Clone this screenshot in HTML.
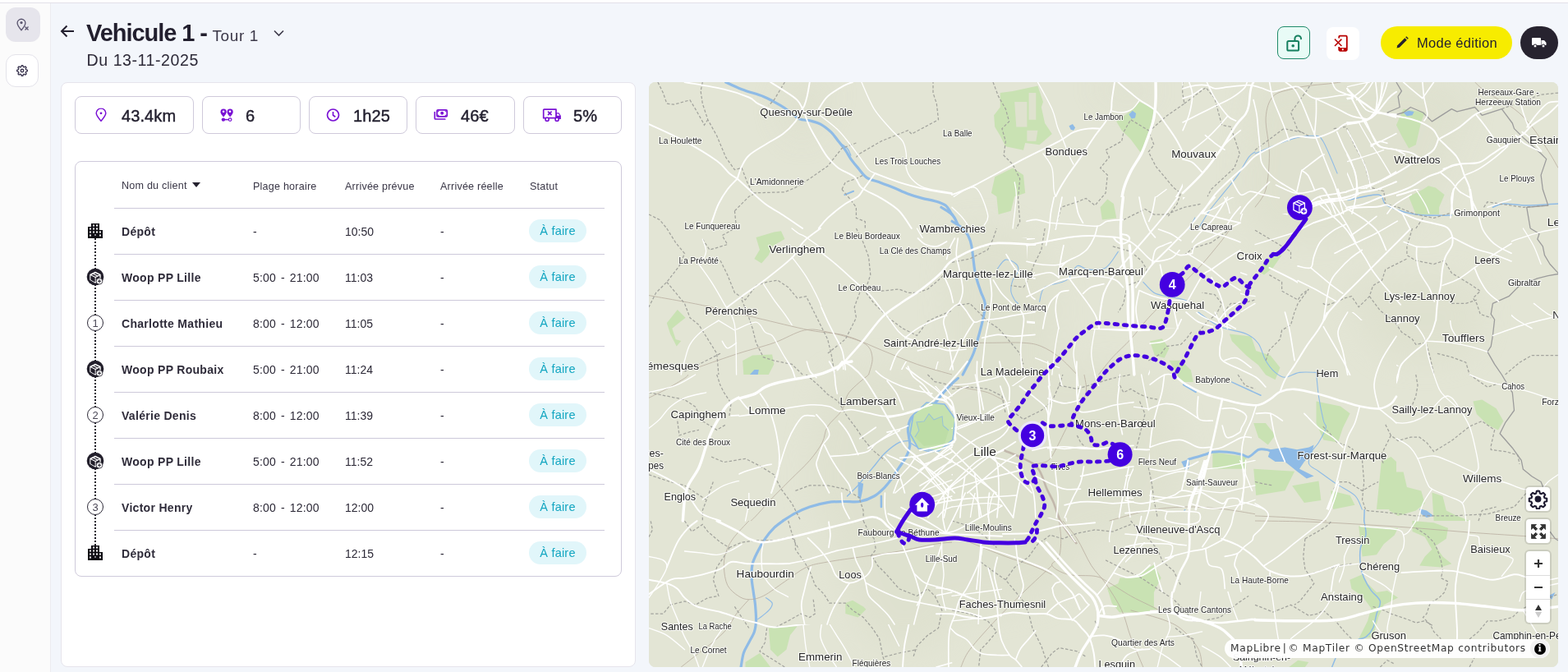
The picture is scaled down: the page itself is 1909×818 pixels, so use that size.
<!DOCTYPE html>
<html lang="fr">
<head>
<meta charset="utf-8">
<title>Vehicule 1 - Tour 1</title>
<style>
*{box-sizing:border-box;margin:0;padding:0}
html,body{width:1909px;height:818px;overflow:hidden;background:#fff;font-family:"Liberation Sans",Arial,sans-serif;color:#25222f}
#topline{position:absolute;left:0;top:3px;width:1909px;height:1px;background:#e2e0e8}
#side{position:absolute;left:0;top:4px;width:62px;height:814px;background:#fbfbfb;border-right:1px solid #ececf0}
.sbtn{position:absolute;left:7px;width:42px;height:42px;border-radius:12px;display:flex;align-items:center;justify-content:center}
#sb1{top:5px;background:#e6e5ec}
#sb2{top:62px;left:7px;width:40px;height:40px;background:#fff;border:1px solid #e4e3ea}
#main{position:absolute;left:62px;top:4px;width:1847px;height:814px;background:#f3f6fb}
#back{position:absolute;left:73px;top:30px}
#title{position:absolute;left:105px;top:24px;white-space:nowrap;font-weight:bold;font-size:29px;letter-spacing:-1.05px;color:#221f2e}
#title .tour{font-weight:normal;font-size:19px;color:#3b3848;letter-spacing:0.6px;margin-left:-0.5px}
#chev{position:absolute;left:333px;top:36px}
#date{position:absolute;left:105.5px;top:62px;font-size:19.6px;color:#2d2a38;letter-spacing:0.55px}
.tbtn{position:absolute;top:32px;height:40px;border-radius:8px;display:flex;align-items:center;justify-content:center}
#lock{left:1555px;width:40px;background:#e8fbf6;border:1px solid #1f8a6a}
#phone{left:1615px;top:33px;width:40px;background:#fff}
#edit{left:1681px;width:160px;border-radius:20px;background:#f7ec00;font-size:16.5px;color:#25222f;letter-spacing:0.3px}
#edit svg{margin-right:10px}
#truck{left:1851px;width:46px;border-radius:20px;background:#27232f}
#panel{position:absolute;left:74px;top:100px;width:700px;height:712px;background:#fff;border:1px solid #e6e4ec;border-radius:8px}
.card{position:absolute;top:117px;height:46px;border:1px solid #cfcadb;border-radius:8px;background:#fff}
.card svg{position:absolute;top:50%;transform:translateY(-50%)}
.card span{position:absolute;top:12px;font-size:20px;font-weight:normal;color:#221f2e;letter-spacing:0.1px;-webkit-text-stroke:0.45px #221f2e}
#tbl{position:absolute;left:91px;top:196px;width:666px;height:506px;border:1px solid #cfcadb;border-radius:8px;background:#fff}
.th{position:absolute;top:219.5px;font-size:12.6px;color:#3a3747;letter-spacing:0.2px;white-space:nowrap}
.hl{position:absolute;left:139px;width:597px;height:1px;background:#cdc9da}
.cell{position:absolute;font-size:14px;color:#2b2836;white-space:nowrap;letter-spacing:0.2px}
.pl{word-spacing:1.8px}
.tm{letter-spacing:0}
.name{font-weight:bold;color:#2f2c3a;letter-spacing:0.3px}
.badge{position:absolute;left:644px;width:70px;height:28px;border-radius:14px;background:#e1f6fa;color:#13a6c1;font-size:14.5px;display:flex;align-items:center;justify-content:center;letter-spacing:0.2px}
.vline{position:absolute;left:115px;width:2px;border-left:2px dotted #1d1a26}
#map{position:absolute;left:790px;top:100px;width:1107px;height:712px;border-radius:8px;overflow:hidden;background:#e3e5d6}
.num{position:absolute;left:106px;width:20px;height:20px;border:1px solid #2b2836;border-radius:50%;background:#fff;font-size:13px;color:#4a4756;display:flex;align-items:center;justify-content:center;line-height:1}
.mctl{position:absolute;left:1858px;width:29px;height:29px;background:#fff;border-radius:4px;box-shadow:0 0 0 2px rgba(0,0,0,.1);display:flex;align-items:center;justify-content:center;overflow:hidden}
#attrib{position:absolute;left:1491px;top:778px;width:396px;height:23px;background:rgba(255,255,255,.95);border-radius:12px;font-family:"DejaVu Sans",sans-serif;font-size:12.2px;color:#333;padding-left:7px;line-height:23px;white-space:nowrap;letter-spacing:0.72px}
#ibtn{position:absolute;left:372px;top:0px;width:23px;height:23px;border-radius:50%;background:#f2f2f2;display:flex;align-items:center;justify-content:center}
#ibtn span{width:14px;height:14px;border-radius:50%;background:#000;color:#fff;font-weight:bold;font-size:11px;line-height:14px;text-align:center;letter-spacing:0;font-family:"DejaVu Serif",serif}
</style>
</head>
<body>
<div id="topline"></div>
<div id="side">
  <div class="sbtn" id="sb1">
    <svg width="18" height="16" viewBox="0 0 18 16"><path d="M7 14.7C3.8 11.1 2.1 8.6 2.1 6.1a4.9 4.9 0 0 1 9.8 0c0 2.5-1.7 5-4.9 8.6z" fill="none" stroke="#5b5670" stroke-width="1.35"/><circle cx="7" cy="5.6" r="1.6" fill="#5b5670"/><path d="M11.5 10.5l4 4M15.5 10.5l-4 4" stroke="#5b5670" stroke-width="1.3"/></svg>
  </div>
  <div class="sbtn" id="sb2">
    <svg width="14" height="14" viewBox="0 0 24 24"><path d="M12 15a3 3 0 1 0 0-6 3 3 0 0 0 0 6z" fill="none" stroke="#3b3650" stroke-width="2.4"/><path d="M19.4 15a1.65 1.65 0 0 0 .33 1.82l.06.06a2 2 0 0 1-2.83 2.83l-.06-.06a1.65 1.65 0 0 0-1.82-.33 1.65 1.65 0 0 0-1 1.51V21a2 2 0 0 1-4 0v-.09A1.65 1.65 0 0 0 9 19.4a1.65 1.65 0 0 0-1.82.33l-.06.06a2 2 0 0 1-2.83-2.83l.06-.06A1.65 1.65 0 0 0 4.68 15a1.65 1.65 0 0 0-1.51-1H3a2 2 0 0 1 0-4h.09A1.65 1.65 0 0 0 4.6 9a1.65 1.65 0 0 0-.33-1.820l-.06-.06a2 2 0 0 1 2.830-2.830l.06.06A1.65 1.65 0 0 0 9 4.68a1.65 1.65 0 0 0 1-1.51V3a2 2 0 0 1 4 0v.09a1.650 1.650 0 0 0 1 1.510 1.65 1.65 0 0 0 1.82-.33l.06-.06a2 2 0 0 1 2.83 2.83l-.06.06A1.65 1.65 0 0 0 19.4 9a1.65 1.65 0 0 0 1.51 1H21a2 2 0 0 1 0 4h-.09a1.65 1.65 0 0 0-1.51 1z" fill="none" stroke="#3b3650" stroke-width="2.4"/></svg>
  </div>
</div>
<div id="main"></div>

<svg id="back" width="18" height="16" viewBox="0 0 18 16"><path d="M17 8H2M8.5 1.5L2 8l6.5 6.5" fill="none" stroke="#221f2e" stroke-width="2"/></svg>
<div id="title">Vehicule 1 - <span class="tour">Tour 1</span></div>
<svg id="chev" width="13" height="9" viewBox="0 0 13 9"><path d="M1 1.5l5.5 5.5 5.5-5.5" fill="none" stroke="#3b3848" stroke-width="1.6"/></svg>
<div id="date">Du 13-11-2025</div>

<div class="tbtn" id="lock">
  <svg width="24" height="24" viewBox="0 0 24 24" style="position:absolute;left:8px;top:7px"><rect x="3.3" y="10" width="13.8" height="11.6" rx="1.6" fill="none" stroke="#16805f" stroke-width="2"/><path d="M12.4 10V7.2a3.8 3.8 0 0 1 7.6 0" fill="none" stroke="#16805f" stroke-width="2" stroke-linecap="round"/><circle cx="10.2" cy="15.8" r="1.8" fill="#16805f"/></svg>
</div>
<div class="tbtn" id="phone">
  <svg width="24" height="24" viewBox="0 0 24 24" style="position:absolute;left:8px;top:8px"><path d="M7.2 5.6V3.9a1.2 1.2 0 0 1 1.2-1.2h7.2a1.2 1.2 0 0 1 1.2 1.2v15.7a1.2 1.2 0 0 1-1.2 1.2H8.4a1.2 1.2 0 0 1-1.2-1.2V16" fill="none" stroke="#b80000" stroke-width="1.8"/><rect x="7.2" y="17.2" width="9.6" height="3.6" fill="#b80000"/><circle cx="11.8" cy="19.3" r="1.1" fill="#fff"/><path d="M2 6.6l8.4 8.4M10.4 6.6L2 15" stroke="#b80000" stroke-width="1.5"/></svg>
</div>
<div class="tbtn" id="edit">
  <svg width="16" height="16" viewBox="0 0 16 16"><path d="M1.5 14.5l.8-3.3 9-9 2.5 2.5-9 9z" fill="#25222f"/><path d="M12.2 1.3l1.1-1.1 2.5 2.5-1.1 1.1z" fill="#25222f"/></svg>
  Mode édition
</div>
<div class="tbtn" id="truck">
  <svg width="18" height="14" viewBox="0 0 18 14"><rect x="0" y="1" width="11" height="9" rx="1" fill="#fff"/><path d="M11.5 4h3.5l2.5 3v3h-6z" fill="#fff"/><circle cx="4" cy="11" r="2" fill="#fff" stroke="#27232f" stroke-width="1"/><circle cx="14" cy="11" r="2" fill="#fff" stroke="#27232f" stroke-width="1"/></svg>
</div>

<div id="panel"></div>
<!-- stat cards -->
<div class="card" style="left:91px;width:145px"><svg style="left:24px" width="14" height="17" viewBox="0 0 14 17"><path d="M7 15.8C3.3 11.6 1.2 8.6 1.2 6.3a5.8 5.8 0 0 1 11.6 0c0 2.3-2.1 5.3-5.8 9.5z" fill="none" stroke="#7a12d4" stroke-width="1.5"/><circle cx="7" cy="6.3" r="1.4" fill="#7a12d4"/></svg><span style="left:56px">43.4km</span></div>
<div class="card" style="left:246px;width:120px"><svg style="left:20px" width="18" height="18" viewBox="0 0 18 18"><path d="M5.1 11.5C2.6 8.6 1.5 7 1.5 5.2a3.6 3.6 0 0 1 7.2 0c0 1.8-1.1 3.4-3.6 6.3z" fill="#7a12d4"/><path d="M13.1 11.5C10.6 8.6 9.5 7 9.5 5.2a3.6 3.6 0 0 1 7.2 0c0 1.8-1.1 3.4-3.6 6.3z" fill="#7a12d4"/><circle cx="5.1" cy="4.7" r="1.3" fill="#fff"/><circle cx="13" cy="4.7" r="1.3" fill="#fff"/><path d="M5 14.6h6.5" stroke="#7a12d4" stroke-width="1.5"/><circle cx="4.9" cy="14.6" r="2.2" fill="#7a12d4"/><circle cx="13.1" cy="14.6" r="1.8" fill="#fff" stroke="#7a12d4" stroke-width="1.2"/></svg><span style="left:52px">6</span></div>
<div class="card" style="left:376px;width:120px"><svg style="left:20px" width="17" height="17" viewBox="0 0 17 17"><circle cx="8.5" cy="8.5" r="7" fill="none" stroke="#7a12d4" stroke-width="1.7"/><path d="M8.5 4.5v4.3l2.8 2" fill="none" stroke="#7a12d4" stroke-width="1.7"/></svg><span style="left:53px">1h25</span></div>
<div class="card" style="left:506px;width:121px"><svg style="left:21px" width="18" height="15" viewBox="0 0 18 15"><rect x="4" y="1.3" width="12.3" height="8.1" rx="1.2" fill="none" stroke="#7a12d4" stroke-width="1.7"/><path d="M4.8 2.2h2.2L4.8 4.4zM15.5 2.2h-2.2l2.2 2.2zM4.8 8.6h2.2L4.8 6.4zM15.5 8.6h-2.2l2.2-2.2z" fill="#7a12d4"/><circle cx="10.2" cy="5.3" r="2" fill="#7a12d4"/><path d="M1.3 4v7.5a1 1 0 0 0 1 1H13.8" fill="none" stroke="#7a12d4" stroke-width="1.7" stroke-linecap="round"/></svg><span style="left:54px">46€</span></div>
<div class="card" style="left:637px;width:120px"><svg style="left:22px" width="24" height="17" viewBox="0 0 24 17"><path d="M1.7 12.2V2.6a.9.9 0 0 1 .9-.9h14.4v10.5z" fill="none" stroke="#7a12d4" stroke-width="1.7" stroke-linejoin="round"/><path d="M17 5.8h3.5l2.4 3.6v4.1H17z" fill="#7a12d4"/><path d="M18 7h2l1.3 2.2H18z" fill="#fff"/><circle cx="6.1" cy="13.8" r="2.1" fill="#fff" stroke="#7a12d4" stroke-width="1.6"/><circle cx="18.1" cy="13.8" r="2.1" fill="#fff" stroke="#7a12d4" stroke-width="1.6"/><path d="M7.5 4.6l3.6 3.6M11.1 4.6L7.5 8.2" stroke="#7a12d4" stroke-width="1.7" stroke-linecap="round"/></svg><span style="left:60px">5%</span></div>

<!-- table -->
<div id="tbl"></div>
<div class="th" style="left:148px;top:218.5px">Nom du client <svg width="10" height="6" viewBox="0 0 10 6" style="margin-left:3px;vertical-align:2px"><path d="M0 0h10L5 6z" fill="#25222f"/></svg></div>
<div class="th" style="left:308px">Plage horaire</div>
<div class="th" style="left:420px">Arrivée prévue</div>
<div class="th" style="left:536px">Arrivée réelle</div>
<div class="th" style="left:645px">Statut</div>
<svg width="0" height="0" style="position:absolute">
<defs>
<symbol id="bld" viewBox="0 0 18 18"><path d="M4 0h10v4h0v4h4v10H0V4h4z" fill="#0f0d14"/><g fill="#fff"><rect x="6" y="1.5" width="2" height="2"/><rect x="10" y="1.5" width="2" height="2"/><rect x="2" y="5.5" width="2" height="2"/><rect x="6" y="5.5" width="2" height="2"/><rect x="10" y="5.5" width="2" height="2"/><rect x="2" y="9.5" width="2" height="2"/><rect x="6" y="9.5" width="2" height="2"/><rect x="10" y="9.5" width="2" height="2"/><rect x="14" y="9.5" width="2" height="2"/><rect x="2" y="13.5" width="2" height="2"/><rect x="8" y="13.5" width="2" height="1"/><rect x="14" y="13.5" width="2" height="2"/></g></symbol>
<symbol id="woop" viewBox="0 0 22 22"><circle cx="11" cy="11" r="10.3" fill="#221f2b"/><path d="M5 8.5l6-3 6 3v6l-6 3.5-6-3.5z" fill="none" stroke="#fff" stroke-width="1.4" stroke-linejoin="round"/><path d="M5 8.5l6 3 6-3M11 11.5v6.5M8 7l6 3" fill="none" stroke="#fff" stroke-width="1.3"/><path d="M5.5 9.5l5 2.5v5.5l-5-3z" fill="#221f2b"/><circle cx="16" cy="16.3" r="3.8" fill="#fff" stroke="#221f2b" stroke-width="0.8"/><path d="M16 14.3v4M14 16.3h4" stroke="#221f2b" stroke-width="1.1"/></symbol>
</defs></svg>
<div class="vline" style="top:290px;height:374px"></div>
<div class="hl" style="top:253px"></div>
<div class="cell name" style="left:148px;top:274px">Dépôt</div>
<div class="cell pl" style="left:308px;top:274px">-</div>
<div class="cell tm" style="left:420px;top:274px">10:50</div>
<div class="cell" style="left:536px;top:274px">-</div>
<div class="badge" style="top:267px">À faire</div>
<svg class="ic" style="position:absolute;left:107px;top:272px" width="18" height="18" viewBox="0 0 18 18"><use href="#bld"/></svg>
<div class="hl" style="top:309px"></div>
<div class="cell name" style="left:148px;top:330px">Woop PP Lille</div>
<div class="cell pl" style="left:308px;top:330px">5:00 - 21:00</div>
<div class="cell tm" style="left:420px;top:330px">11:03</div>
<div class="cell" style="left:536px;top:330px">-</div>
<div class="badge" style="top:323px">À faire</div>
<svg class="ic" style="position:absolute;left:105px;top:326px" width="22" height="22" viewBox="0 0 22 22"><use href="#woop"/></svg>
<div class="hl" style="top:365px"></div>
<div class="cell name" style="left:148px;top:386px">Charlotte Mathieu</div>
<div class="cell pl" style="left:308px;top:386px">8:00 - 12:00</div>
<div class="cell tm" style="left:420px;top:386px">11:05</div>
<div class="cell" style="left:536px;top:386px">-</div>
<div class="badge" style="top:379px">À faire</div>
<div class="num" style="top:383px">1</div>
<div class="hl" style="top:421px"></div>
<div class="cell name" style="left:148px;top:442px">Woop PP Roubaix</div>
<div class="cell pl" style="left:308px;top:442px">5:00 - 21:00</div>
<div class="cell tm" style="left:420px;top:442px">11:24</div>
<div class="cell" style="left:536px;top:442px">-</div>
<div class="badge" style="top:435px">À faire</div>
<svg class="ic" style="position:absolute;left:105px;top:438px" width="22" height="22" viewBox="0 0 22 22"><use href="#woop"/></svg>
<div class="hl" style="top:477px"></div>
<div class="cell name" style="left:148px;top:498px">Valérie Denis</div>
<div class="cell pl" style="left:308px;top:498px">8:00 - 12:00</div>
<div class="cell tm" style="left:420px;top:498px">11:39</div>
<div class="cell" style="left:536px;top:498px">-</div>
<div class="badge" style="top:491px">À faire</div>
<div class="num" style="top:495px">2</div>
<div class="hl" style="top:533px"></div>
<div class="cell name" style="left:148px;top:554px">Woop PP Lille</div>
<div class="cell pl" style="left:308px;top:554px">5:00 - 21:00</div>
<div class="cell tm" style="left:420px;top:554px">11:52</div>
<div class="cell" style="left:536px;top:554px">-</div>
<div class="badge" style="top:547px">À faire</div>
<svg class="ic" style="position:absolute;left:105px;top:550px" width="22" height="22" viewBox="0 0 22 22"><use href="#woop"/></svg>
<div class="hl" style="top:589px"></div>
<div class="cell name" style="left:148px;top:610px">Victor Henry</div>
<div class="cell pl" style="left:308px;top:610px">8:00 - 12:00</div>
<div class="cell tm" style="left:420px;top:610px">12:00</div>
<div class="cell" style="left:536px;top:610px">-</div>
<div class="badge" style="top:603px">À faire</div>
<div class="num" style="top:607px">3</div>
<div class="hl" style="top:645px"></div>
<div class="cell name" style="left:148px;top:666px">Dépôt</div>
<div class="cell pl" style="left:308px;top:666px">-</div>
<div class="cell tm" style="left:420px;top:666px">12:15</div>
<div class="cell" style="left:536px;top:666px">-</div>
<div class="badge" style="top:659px">À faire</div>
<svg class="ic" style="position:absolute;left:107px;top:664px" width="18" height="18" viewBox="0 0 18 18"><use href="#bld"/></svg>

<div id="map"><svg width="1107" height="712" viewBox="0 0 1107 712" style="position:absolute;left:0;top:0">
<rect width="1107" height="712" fill="#e3e5d5"/>
<defs><filter id="ub" x="-20%" y="-20%" width="140%" height="140%"><feGaussianBlur stdDeviation="18"/></filter></defs>
<g fill="#d9dcc8" opacity="0.4" filter="url(#ub)">
<path d="M158.8 17.4 C161.3 14.5 164.3 2.9 174.1 0.0 C183.9 -2.9 210.0 -2.9 217.6 0.0 C225.2 2.9 222.0 8.0 219.8 17.4 C217.6 26.8 210.3 47.5 204.5 56.6 C198.7 65.7 191.4 72.5 184.9 71.8 C178.4 71.1 169.7 61.3 165.4 52.2 C161.0 43.1 159.9 23.2 158.8 17.4"/>
<path d="M543.1 0.0 C554.0 0.0 598.1 -3.6 608.3 0.0 C618.4 3.6 609.4 18.2 604.0 21.8 C598.6 25.4 585.1 23.2 575.7 21.8 C566.3 20.3 552.8 16.7 547.4 13.1 C542.0 9.5 543.8 2.2 543.1 0.0"/>
<path d="M369.0 178.0 C379.9 178.0 416.2 172.6 434.3 178.0 C452.4 183.4 466.9 196.1 477.8 210.6 C488.7 225.1 499.5 240.8 499.5 265.0 C499.5 289.2 499.5 340.8 477.8 356.0 C456.0 371.2 387.1 385.7 369.0 356.0 C350.9 326.3 369.0 207.7 369.0 178.0"/>
<path d="M217.6 356.0 C242.8 356.0 343.8 326.3 369.0 356.0 C394.2 385.7 394.2 504.3 369.0 534.0 C343.8 563.7 246.5 545.5 217.6 534.0 C188.7 522.5 195.8 494.5 195.8 464.8 C195.8 435.1 214.0 374.1 217.6 356.0"/>
<path d="M369.0 356.0 C408.9 356.0 564.8 326.3 608.3 356.0 C651.8 385.7 670.0 504.3 630.1 534.0 C590.2 563.7 412.5 563.7 369.0 534.0 C325.5 504.3 369.0 385.7 369.0 356.0"/>
<path d="M738.0 0.0 C777.9 0.0 937.4 -14.5 977.3 0.0 C1017.2 14.5 988.2 57.3 977.3 87.0 C966.4 116.7 952.0 162.8 912.1 178.0 C872.2 193.2 767.0 207.7 738.0 178.0 C709.0 148.3 738.0 29.7 738.0 0.0"/>
<path d="M217.6 534.0 C242.8 534.0 343.8 512.2 369.0 534.0 C394.2 555.8 383.3 639.1 369.0 664.5 C354.7 689.9 304.5 693.5 282.9 686.3 C261.3 679.0 250.2 646.4 239.3 621.0 C228.4 595.6 221.2 548.5 217.6 534.0"/>
<path d="M369.0 534.0 C394.4 534.0 499.5 519.5 521.3 534.0 C543.0 548.5 524.9 602.9 499.5 621.0 C474.1 639.1 390.8 657.3 369.0 642.8 C347.2 628.3 369.0 552.1 369.0 534.0"/>
<path d="M846.8 243.3 C872.2 243.3 973.7 228.8 999.1 243.3 C1024.5 257.8 1017.2 315.8 999.1 330.3 C981.0 344.8 915.7 344.8 890.3 330.3 C864.9 315.8 854.0 257.8 846.8 243.3"/>
</g>
<defs><clipPath id="outhq"><path clip-rule="evenodd" d="M-10 -10H1120V730H-10Z M650 0H910V160H650Z M790 130H1050V290H790Z M330 370H590V530H330Z M580 460H840V620H580Z M460 140H720V300H460Z M110 340H370V500H110Z M170 500H430V660H170Z M610 280H910V520H610Z M850 0H1107V160H850Z M350 560H610V712H350Z M210 190H470V350H210Z"/></clipPath>
<clipPath id="outh1"><path clip-rule="evenodd" d="M-10 -10H1120V730H-10Z M610 280H910V520H610Z"/></clipPath></defs>
<g fill="#c9e2b3">
<g clip-path="url(#outh1)">
<polygon points="427.7,13.1 443.0,10.9 473.4,4.4 480.0,23.9 477.8,30.5 482.1,50.0 490.8,63.1 475.6,76.2 458.2,74.0 456.0,82.7 434.3,78.3 427.7,65.3 421.2,54.4 420.1,40.3 427.7,30.5"/>
<polygon points="421.2,115.3 443.0,104.4 456.0,113.1 458.2,134.9 445.2,139.3 440.8,156.7 425.6,161.0 423.4,139.3 416.9,134.9"/>
<polygon points="569.2,47.9 586.6,34.8 597.5,23.9 614.9,32.6 610.5,56.6 604.0,71.8 599.6,87.0 586.6,69.6 575.7,58.7"/>
<polygon points="549.6,152.3 558.3,142.5 565.9,148.0 569.2,165.4 551.8,167.5"/>
<polygon points="909.9,52.2 918.6,32.6 944.7,37.0 940.3,47.9 933.8,76.2 925.1,80.5 916.4,65.3"/>
<polygon points="925.1,139.3 942.5,130.5 949.1,126.2 957.8,128.4 968.6,137.1 962.1,152.3 962.1,161.0 933.8,161.0"/>
<polygon points="130.5,188.9 152.3,182.4 161.0,181.3 165.4,191.1 150.1,199.8 145.8,210.6 137.1,220.4 128.4,215.0 134.9,204.1"/>
<polygon points="21.8,293.3 34.8,277.0 44.6,286.8 39.2,291.1 28.3,299.8 32.6,312.9 39.2,315.1 33.7,321.6 26.1,306.4"/>
<polygon points="114.2,339.0 126.2,332.5 150.1,331.4 152.3,343.4 145.8,356.0 115.3,356.0"/>
<polygon points="317.7,412.6 330.7,401.7 348.1,399.5 361.2,408.2 369.0,416.9 369.0,438.7 356.8,443.0 339.4,447.4 326.4,443.0 317.7,434.3 314.4,421.3"/>
<polygon points="610.5,317.3 621.4,312.9 630.1,319.4 638.8,330.3 647.5,321.6 651.9,330.3 649.7,349.9 641.0,356.0 619.2,356.0 614.9,334.7"/>
<polygon points="708.4,308.5 721.5,299.8 738.0,312.9 738.0,330.3 725.8,332.5 712.8,321.6"/>
<polygon points="751.1,215.0 770.6,210.6 759.8,225.9 748.9,234.6 742.4,230.2"/>
<polygon points="738.0,308.5 751.1,317.3 759.8,330.3 766.3,347.7 759.8,356.0 738.0,356.0"/>
<polygon points="686.7,449.6 708.4,447.4 725.8,451.7 725.8,469.1 686.7,473.5"/>
<polygon points="649.7,356.0 662.7,356.0 651.9,360.4"/>
<polygon points="730.2,490.9 738.0,486.5 738.0,508.3 730.2,504.0"/>
<polygon points="812.0,388.6 825.0,388.6 851.1,399.5 855.5,408.2 842.4,432.2 838.1,443.0 825.0,434.3 818.5,421.3 816.3,399.5"/>
<polygon points="738.0,412.6 748.9,414.7 759.8,425.6 761.9,434.3 753.2,440.9 746.7,440.9 738.0,438.7"/>
<polygon points="738.0,469.1 781.5,475.7 785.9,484.4 770.6,495.3 759.8,508.3 738.0,508.3"/>
<polygon points="785.9,490.9 801.1,493.1 809.8,490.9 812.0,506.1 807.6,512.7 794.6,504.0 783.7,495.3"/>
<polygon points="831.6,495.3 846.8,495.3 857.7,504.0 862.0,512.7 846.8,517.0 833.7,519.2"/>
<polygon points="890.3,462.6 905.5,460.4 907.7,474.6 918.6,474.6 922.9,493.1 940.3,497.4 944.7,512.7 933.8,521.4 912.1,527.9 901.2,521.4 903.4,508.3 890.3,504.0"/>
<polygon points="1003.4,388.6 1014.3,386.5 1031.7,397.3 1040.4,412.6 1033.9,423.4 1020.9,416.9 1007.8,403.9"/>
<polygon points="953.4,499.6 966.5,504.0 970.8,521.4 983.9,527.9 999.1,534.0 955.6,534.0"/>
<polygon points="738.0,356.0 759.8,356.0 768.5,362.5 757.6,364.7 738.0,362.5"/>
<polygon points="145.8,664.5 180.6,662.4 171.9,673.3 167.5,690.7 156.7,699.4 148.0,690.7"/>
<polygon points="117.5,705.9 134.9,695.0 143.6,705.9 148.0,712.0 117.5,712.0"/>
<polygon points="239.3,634.1 248.0,630.8 261.1,638.4 264.4,641.7 254.6,651.5 239.3,647.1"/>
<polygon points="558.3,616.7 571.3,610.2 573.5,603.6 586.6,603.6 599.6,597.1 614.9,587.3 623.6,603.6 614.9,621.0 614.9,638.4 619.2,641.7 573.5,645.0 564.8,631.9"/>
<polygon points="864.2,540.5 890.3,542.7 912.1,542.7 907.7,551.4 894.7,562.3 886.0,575.3 868.5,577.5"/>
<polygon points="929.5,534.0 955.6,536.2 973.0,542.7 970.8,555.8 957.8,564.5 966.5,577.5 977.3,586.2 964.3,590.6 938.2,588.4 944.7,577.5 953.4,568.8 944.7,553.6 929.5,547.1"/>
<polygon points="853.3,605.8 868.5,599.3 875.1,610.2 886.0,621.0 899.0,618.9 912.1,627.6 894.7,636.3 888.1,651.5 881.6,675.4 864.2,677.6 875.1,655.8 879.4,640.6 868.5,625.4 855.5,616.7"/>
<polygon points="779.3,712.0 790.2,703.7 803.3,705.9 798.9,712.0"/>
</g>
<polygon points="706.9,306.4 733.3,309.4 739.2,327.0 756.8,332.8 768.5,347.5 762.6,362.2 750.9,356.3 742.1,344.6 727.4,332.8 721.5,327.0 709.8,315.2"/>
<polygon points="736.2,415.0 750.9,415.0 762.6,429.7 753.8,441.4 742.1,432.6"/>
<polygon points="686.3,450.3 727.4,456.1 727.4,470.8 686.3,470.8"/>
<polygon points="812.5,388.6 841.9,394.5 853.6,403.3 844.8,420.9 839.0,438.5 821.3,435.6 812.5,415.0"/>
<polygon points="736.2,470.8 786.1,473.7 774.4,497.2 739.2,503.1"/>
<polygon points="783.2,491.3 815.5,485.5 818.4,509.0 797.9,511.9"/>
<polygon points="891.8,462.0 903.5,456.1 910.0,462.0 910.0,520.1 885.9,520.1"/>
<polygon points="610.0,315.2 624.7,312.3 633.5,324.0 627.6,335.8 615.9,332.8"/>
<polygon points="830.2,497.2 853.6,503.1 859.5,514.8 833.1,520.1"/>
<polygon points="633.5,338.7 648.2,338.7 659.9,350.4 662.8,365.1 648.2,365.1"/>
<polygon points="558.1,615.8 573.0,610.2 591.6,606.5 610.0,593.5 610.0,645.5 573.0,645.5 563.7,634.3"/>
</g>
<g fill="#dfe2cf">
<polygon points="445.2,23.9 460.4,23.9 460.4,54.4 447.3,54.4"/>
<polygon points="462.6,13.1 471.3,13.1 471.3,45.7 462.6,45.7"/>
<polygon points="460.4,58.7 473.4,58.7 471.3,71.8 460.4,71.8"/>
</g>
<g fill="#8fbbe6">
<g clip-path="url(#outh1)">
<polygon points="584.4,39.2 588.8,34.8 593.1,38.1 592.0,43.5 587.7,44.6"/>
<polygon points="511.5,53.3 515.9,51.1 519.1,55.5 517.0,58.7 513.7,57.7"/>
<polygon points="918.6,37.0 925.1,34.8 931.6,35.9 929.5,40.3 922.9,41.3"/>
<polygon points="738.0,449.6 746.7,445.2 755.4,447.4 768.5,444.1 781.5,445.2 794.6,447.4 803.3,443.0 807.6,440.9 805.4,451.7 801.1,460.4 798.9,469.1 803.3,477.8 812.0,480.0 801.1,482.2 792.4,473.5 781.5,464.8 770.6,462.6 759.8,456.1 748.9,451.7 738.0,453.9"/>
<polygon points="938.2,519.2 946.9,521.4 955.6,527.9 946.9,530.1 940.3,525.7"/>
<polygon points="863.1,376.7 868.5,375.6 870.7,381.0 866.4,382.1"/>
<polygon points="647.5,464.8 658.4,458.3 669.3,453.9 678.0,458.3 682.3,469.1 680.1,475.7 673.6,473.5 660.6,467.0 651.9,471.3"/>
<polygon points="254.6,486.5 261.1,488.7 260.0,497.4 257.8,508.3 254.6,506.1"/>
<polygon points="122.9,356.0 128.4,349.9 133.8,349.9 132.7,356.0"/>
<polygon points="1094.8,625.4 1103.5,621.0 1099.2,629.7"/>
</g>
<polygon points="756.8,447.3 774.4,444.4 789.1,447.3 803.7,444.4 809.6,441.4 806.7,453.2 797.9,462.0 792.0,470.8 809.6,479.6 800.8,482.5 789.1,473.7 774.4,462.0 762.6,462.0 753.8,456.1"/>
<polygon points="648.2,462.0 657.0,459.1 658.4,467.9 654.0,473.7"/>
</g>
<g fill="none" stroke="#8fbbe6" stroke-linecap="round" stroke-linejoin="round">
<g clip-path="url(#outh1)">
<path d="M93.6 0.0 C96.9 1.5 105.5 5.8 113.1 8.7 C120.7 11.6 132.8 14.9 139.3 17.4 C145.8 19.9 147.9 21.6 152.3 23.9 C156.6 26.3 160.3 28.1 165.4 31.5 C170.5 34.9 177.7 42.0 182.8 44.6 C187.9 47.1 191.4 45.7 195.8 46.8 C200.1 47.9 204.5 48.7 208.9 51.1 C213.2 53.4 218.3 57.5 221.9 60.9 C225.5 64.4 227.7 68.2 230.6 71.8 C233.5 75.4 236.7 79.1 239.3 82.7 C241.8 86.3 243.4 90.0 245.9 93.6 C248.5 97.2 251.3 100.6 254.6 104.4 C257.8 108.2 261.1 113.5 265.4 116.4 C269.8 119.3 275.3 119.8 280.7 121.8 C286.2 123.8 292.3 126.0 298.1 128.4 C303.9 130.8 309.7 133.8 315.5 136.0 C321.3 138.2 327.5 140.0 332.9 141.4 C338.3 142.8 343.4 143.2 348.1 144.7 C352.8 146.1 357.7 147.4 361.2 150.1 C364.7 152.8 367.7 159.2 369.0 161.0" stroke-width="3.2"/>
<path d="M232.8 74.0 C234.2 75.1 239.3 78.0 241.5 80.5 C243.7 83.0 245.2 87.7 245.9 89.2" stroke-width="1.2"/>
<path d="M238.3 137.1 L249.1 132.7" stroke-width="2"/>
<path d="M369.0 169.3 C371.2 170.8 378.8 175.1 382.1 178.0 C385.4 180.9 386.8 183.1 388.6 186.7 C390.4 190.3 391.5 192.2 392.9 199.8 C394.4 207.4 395.5 223.3 397.3 232.4 C399.1 241.5 401.8 248.0 403.8 254.2 C405.8 260.4 408.7 264.0 409.3 269.4 C409.8 274.8 408.4 280.3 407.1 286.8 C405.8 293.3 403.6 301.2 401.6 308.5 C399.6 315.8 397.6 323.8 395.1 330.3 C392.6 336.8 388.6 343.4 386.4 347.7 C384.2 352.0 382.8 354.6 382.1 356.0" stroke-width="3.2"/>
<path d="M355.9 152.3 C358.1 153.8 365.7 157.7 369.0 161.0 C372.3 164.3 374.1 169.1 375.5 171.9 C376.9 174.7 377.3 177.0 377.7 178.0" stroke-width="3.2"/>
<path d="M424.5 227.0 C426.1 225.2 430.5 217.0 434.3 216.1 C438.1 215.2 444.8 219.2 447.3 221.5 C449.8 223.8 450.2 226.9 449.5 230.2 C448.8 233.5 444.4 237.1 443.0 241.1 C441.6 245.1 440.4 250.2 440.8 254.2 C441.2 258.2 443.8 262.5 445.2 265.0 C446.7 267.5 448.8 268.7 449.5 269.4" stroke-width="1.1"/>
<path d="M475.6 267.2 C476.7 264.3 476.6 254.2 482.1 249.8 C487.5 245.5 501.8 245.5 508.3 241.1 C514.8 236.8 516.9 225.9 521.3 223.7 C525.6 221.5 528.6 227.6 534.4 228.0 C540.2 228.4 549.9 229.5 556.1 225.9 C562.2 222.3 568.8 209.6 571.3 206.3" stroke-width="1.1"/>
<path d="M601.8 243.3 C604.0 245.5 610.2 253.4 614.9 256.3 C619.6 259.2 623.9 259.2 630.1 260.7 C636.3 262.1 644.7 262.5 651.9 265.0 C659.2 267.5 666.3 271.5 673.6 275.9 C680.8 280.2 688.2 286.4 695.4 291.1 C702.7 295.8 710.0 300.9 717.1 304.2 C724.2 307.5 734.5 309.6 738.0 310.7" stroke-width="1.1"/>
<path d="M658.4 178.0 L664.9 164.9" stroke-width="1.1"/>
<path d="M738.0 310.7 L746.7 308.5" stroke-width="1.1"/>
<path d="M738.0 87.0 C745.2 84.1 769.5 73.2 781.5 69.6 C793.5 66.0 803.3 64.9 809.8 65.3 C816.3 65.7 816.0 64.2 820.7 71.8 C825.4 79.4 835.2 104.5 838.1 111.0" stroke-width="1.1"/>
<path d="M851.1 143.6 C857.3 142.5 880.1 136.0 888.1 137.1 C896.1 138.2 891.4 146.1 899.0 150.1 C906.6 154.1 920.8 159.0 933.8 161.0 C946.8 163.0 970.0 161.9 977.3 162.1" stroke-width="1.5"/>
<path d="M1027.4 152.3 C1029.6 151.6 1033.5 148.4 1040.4 148.0 C1047.3 147.6 1057.6 150.1 1068.7 150.1 C1079.8 150.1 1100.6 148.3 1107.0 148.0" stroke-width="1.5"/>
<path d="M669.3 178.0 C671.5 174.4 677.2 163.9 682.3 156.7 C687.4 149.5 693.9 142.2 699.7 134.9 C705.5 127.6 712.0 120.3 717.1 113.1 C722.2 105.8 726.7 96.1 730.2 91.4 C733.7 86.7 736.7 86.0 738.0 84.9" stroke-width="1.1"/>
<path d="M376.4 360.4 C375.2 361.5 372.3 363.6 369.0 366.9 C365.7 370.1 360.3 375.9 356.8 379.9 C353.3 383.9 352.4 387.5 348.1 390.8 C343.7 394.1 335.4 396.6 330.7 399.5 C326.0 402.4 322.3 404.6 319.8 408.2 C317.3 411.8 316.0 417.3 315.5 421.3 C315.0 425.3 316.2 428.6 316.6 432.2 C317.0 435.8 318.3 439.0 317.7 443.0 C317.2 447.0 315.5 451.8 313.3 456.1 C311.1 460.5 307.5 464.8 304.6 469.1 C301.7 473.5 298.8 478.2 295.9 482.2 C293.0 486.2 290.8 489.5 287.2 493.1 C283.6 496.7 279.3 501.1 274.2 504.0 C269.1 506.9 262.9 509.4 256.7 510.5 C250.5 511.6 243.7 510.3 237.2 510.5 C230.7 510.7 224.5 510.5 217.6 511.6 C210.7 512.7 202.3 514.8 195.8 517.0 C189.3 519.2 183.8 521.8 178.4 524.6 C173.0 527.4 165.7 532.4 163.2 534.0" stroke-width="3.2"/>
<path d="M317.7 436.5 C315.5 436.9 309.7 436.2 304.6 438.7 C299.5 441.2 291.9 447.4 287.2 451.7 C282.5 456.1 279.9 460.4 276.3 464.8 C272.7 469.1 269.0 473.4 265.4 477.8 C261.8 482.1 258.6 486.5 254.6 490.9 C250.6 495.3 243.7 501.8 241.5 504.0" stroke-width="1.4"/>
<path d="M282.9 504.0 L282.9 517.0" stroke-width="2.5"/>
<path d="M317.7 438.7 C320.2 440.2 328.2 445.6 332.9 447.4 C337.6 449.2 341.3 450.3 346.0 449.6 C350.7 448.9 357.4 444.8 361.2 443.0 C365.0 441.2 367.7 439.4 369.0 438.7" stroke-width="1.2"/>
<path d="M359.0 401.7 L369.0 412.6" stroke-width="1.2"/>
<path d="M163.2 534.0 C161.4 535.5 155.9 539.1 152.3 542.7 C148.7 546.3 144.7 551.1 141.4 555.8 C138.1 560.5 135.2 565.9 132.7 571.0 C130.2 576.1 127.5 580.8 126.2 586.2 C124.9 591.6 124.9 597.8 125.1 603.6 C125.3 609.4 126.6 615.5 127.3 621.0 C128.0 626.5 129.0 630.5 129.5 636.3 C130.0 642.1 130.7 650.4 130.5 655.8 C130.3 661.2 129.8 664.5 128.4 668.9 C126.9 673.3 124.0 677.6 121.8 682.0 C119.6 686.4 116.9 690.0 115.3 695.0 C113.7 700.0 112.6 709.2 112.1 712.0" stroke-width="3.2"/>
<path d="M142.5 627.6 C143.8 628.7 149.2 631.9 150.1 634.1 C151.0 636.3 149.5 638.4 148.0 640.6 C146.5 642.8 143.9 644.9 141.4 647.1 C138.8 649.3 134.2 652.6 132.7 653.7" stroke-width="1.2"/>
<path d="M649.7 369.1 C651.2 370.2 655.9 374.0 658.4 375.6 C660.9 377.2 663.8 378.3 664.9 378.8" stroke-width="3"/>
<path d="M708.4 362.5 L738.0 377.8" stroke-width="1.2"/>
<path d="M682.3 456.1 C685.2 455.4 693.9 452.1 699.7 451.7 C705.5 451.3 712.4 453.2 717.1 453.9 C721.8 454.6 724.5 456.1 728.0 456.1 C731.5 456.1 736.3 454.3 738.0 453.9" stroke-width="2.5"/>
<path d="M651.9 521.4 L662.7 508.3" stroke-width="1.2"/>
<path d="M814.2 356.0 C814.2 359.6 813.5 370.6 814.2 377.8 C814.9 385.1 817.0 393.4 818.5 399.5 C820.0 405.6 823.6 409.3 822.9 414.7 C822.2 420.2 816.4 427.5 814.2 432.2 C812.0 436.9 811.3 439.4 809.8 443.0 C808.3 446.6 806.5 450.3 805.4 453.9 C804.3 457.5 800.0 460.1 803.3 464.8 C806.6 469.5 818.8 477.9 825.0 482.2 C831.2 486.6 835.2 488.4 840.3 490.9 C845.4 493.4 851.5 495.2 855.5 497.4 C859.5 499.6 861.7 501.4 864.2 504.0 C866.7 506.6 869.6 507.7 870.7 512.7 C871.8 517.7 870.7 530.5 870.7 534.0" stroke-width="1.5"/>
<path d="M870.7 534.0 C871.1 536.9 873.6 546.0 872.9 551.4 C872.2 556.8 867.5 560.4 866.4 566.6 C865.3 572.8 865.7 582.2 866.4 588.4 C867.1 594.6 868.5 598.5 870.7 603.6 C872.9 608.7 876.1 614.2 879.4 618.9 C882.7 623.6 889.2 627.2 890.3 631.9 C891.4 636.6 887.5 641.7 886.0 647.1 C884.5 652.5 883.8 659.8 881.6 664.5 C879.4 669.2 875.8 673.1 872.9 675.4 C870.0 677.6 865.7 677.6 864.2 678.0" stroke-width="1.5"/>
<path d="M831.6 712.0 L835.9 701.5" stroke-width="1.5"/>
</g>
<path d="M657.0 459.1 C660.4 458.1 672.6 454.7 677.5 453.2 C682.4 451.7 681.9 450.8 686.3 450.3 C690.7 449.8 698.0 449.8 703.9 450.3 C709.8 450.8 717.1 452.2 721.5 453.2 C725.9 454.2 727.0 457.1 730.4 456.1 C733.8 455.1 738.7 448.8 742.1 447.3 C745.5 445.8 748.5 447.0 750.9 447.3 C753.4 447.5 755.8 448.5 756.8 448.8" stroke-width="3"/>
<path d="M812.5 353.4 C813.0 358.3 814.0 372.9 815.5 382.7 C817.0 392.5 819.8 405.7 821.3 412.1 C822.8 418.5 825.3 416.5 824.3 420.9 C823.3 425.3 818.4 433.6 815.5 438.5 C812.6 443.4 808.7 445.9 806.7 450.3 C804.7 454.7 802.2 461.0 803.7 464.9 C805.2 468.8 810.1 469.8 815.5 473.7 C820.9 477.6 828.7 483.5 836.0 488.4 C843.3 493.3 854.1 497.8 859.5 503.1 C864.9 508.4 866.8 517.3 868.3 520.1" stroke-width="1.1"/>
<path d="M668.7 280.0 C673.1 282.9 685.3 293.2 695.1 297.6 C704.9 302.0 719.6 303.0 727.4 306.4 C735.2 309.8 738.2 312.8 742.1 318.2 C746.0 323.6 747.5 332.8 750.9 338.7 C754.3 344.6 758.7 350.0 762.6 353.4 C766.5 356.8 769.5 359.3 774.4 359.3 C779.3 359.3 785.6 354.4 792.0 353.4 C798.4 352.4 809.1 353.4 812.5 353.4" stroke-width="1.1"/>
<path d="M651.1 368.1 L665.8 376.9" stroke-width="2.5"/>
<path d="M709.8 365.1 L745.0 381.3" stroke-width="1.5"/>
</g>
<polygon points="322.0,405.0 338.0,390.0 360.0,392.0 373.0,410.0 370.0,435.0 353.0,449.0 328.0,446.0 318.0,428.0" fill="#c6e2b0" stroke="#8fbbe6" stroke-width="1.6" stroke-linejoin="round"/>
<polyline points="324.0,432.0 329.0,424.0 326.0,414.0 335.0,413.0 341.0,404.0 347.0,411.0 357.0,407.0 358.0,418.0 365.0,424.0" fill="none" stroke="#8fbbe6" stroke-width="1.1"/>
<polygon points="324.0,432.0 329.0,424.0 326.0,414.0 335.0,413.0 341.0,404.0 347.0,411.0 357.0,407.0 358.0,418.0 365.0,424.0 360.0,440.0 335.0,443.0" fill="#b8dba0" opacity="0.6"/>
<path d="M432.0 448.0 C435.2 449.4 445.5 453.5 451.3 456.1 C457.1 458.8 463.1 461.3 467.0 463.9 C470.9 466.5 472.8 469.1 474.8 471.7 C476.7 474.3 477.1 475.7 478.7 479.6 C480.3 483.5 482.3 490.0 484.6 495.2 C486.9 500.4 489.8 504.8 492.4 510.9 C495.0 517.0 497.1 525.8 500.0 532.0 C502.9 538.2 506.5 543.0 510.0 548.0 C513.5 553.0 519.2 559.7 521.0 562.0" fill="none" stroke="#c2b8ac" stroke-width="2.6"/>
<g fill="none" stroke="#b9ada0" stroke-width="0.8">
<path d="M0.0 259.6 C10.9 261.6 43.5 267.1 65.3 271.6 C87.0 276.1 108.8 281.7 130.5 286.8 C152.2 291.9 177.7 298.4 195.8 302.0 C213.9 305.6 224.8 304.5 239.3 308.5 C253.8 312.5 268.4 320.2 282.9 326.0 C297.4 331.8 312.1 338.4 326.4 343.4 C340.8 348.4 361.9 353.9 369.0 356.0"/>
<path d="M52.2 349.9 C61.6 346.6 92.1 335.7 108.8 330.3 C125.5 324.9 138.9 322.0 152.3 317.3 C165.7 312.6 178.4 304.2 189.3 302.0 C200.2 299.8 205.6 301.6 217.6 304.2 C229.6 306.8 252.0 312.2 261.1 317.3 C270.2 322.4 270.9 328.2 272.0 334.7 C273.1 341.1 268.3 352.4 267.6 356.0"/>
<path d="M369.0 317.3 C376.2 317.3 398.0 317.3 412.5 317.3 C427.0 317.3 445.1 316.6 456.0 317.3 C466.9 318.0 470.5 318.7 477.8 321.6 C485.0 324.5 492.2 329.0 499.5 334.7 C506.8 340.4 517.7 352.4 521.3 356.0"/>
<path d="M547.4 356.0 C550.3 352.4 558.3 341.9 564.8 334.7 C571.3 327.5 579.3 320.9 586.6 312.9 C593.8 304.9 601.0 294.8 608.3 286.8 C615.5 278.8 622.8 272.2 630.1 265.0 C637.4 257.8 644.7 250.6 651.9 243.3 C659.2 236.1 666.3 229.5 673.6 221.5 C680.8 213.5 689.6 202.6 695.4 195.4 C701.2 188.1 706.2 180.9 708.4 178.0"/>
<path d="M738.0 152.3 C740.2 148.7 748.2 141.4 751.1 130.5 C754.0 119.6 755.4 101.5 755.4 87.0 C755.4 72.5 750.4 55.1 751.1 43.5 C751.8 31.9 754.7 23.2 759.8 17.4 C764.9 11.6 774.2 10.9 781.5 8.7 C788.8 6.5 796.0 5.5 803.3 4.4 C810.5 3.3 818.5 2.9 825.0 2.2 C831.5 1.5 839.5 0.4 842.4 0.0"/>
<path d="M1005.6 0.0 C1008.1 2.2 1012.9 7.7 1020.9 13.1 C1028.9 18.5 1044.5 25.7 1053.5 32.6 C1062.5 39.5 1068.0 45.3 1075.2 54.4 C1082.5 63.5 1091.7 78.7 1097.0 87.0 C1102.3 95.3 1105.3 101.5 1107.0 104.4"/>
<path d="M267.6 356.0 C263.6 359.6 249.1 370.6 243.7 377.8 C238.3 385.1 239.3 392.6 235.0 399.5 C230.7 406.4 221.6 412.6 217.6 419.1 C213.6 425.6 214.7 431.8 211.1 438.7 C207.5 445.6 202.0 453.1 195.8 460.4 C189.6 467.6 181.4 474.9 174.1 482.2 C166.9 489.5 159.6 496.4 152.3 504.0 C145.0 511.6 135.2 522.9 130.5 527.9 C125.8 532.9 125.1 533.0 124.0 534.0"/>
<path d="M0.0 384.3 C3.6 382.5 14.5 377.4 21.8 373.4 C29.0 369.4 39.1 363.3 43.5 360.4 C47.9 357.5 47.2 356.7 47.9 356.0"/>
<path d="M530.0 356.0 C530.4 359.6 533.7 370.6 532.2 377.8 C530.8 385.1 525.3 392.2 521.3 399.5 C517.3 406.8 512.3 414.0 508.3 421.3 C504.3 428.5 501.0 436.5 497.4 443.0 C493.8 449.5 490.9 456.8 486.5 460.4 C482.1 464.0 473.8 464.1 471.3 464.8"/>
<path d="M369.0 369.1 C372.6 369.8 383.5 371.9 390.8 373.4 C398.0 374.8 405.2 375.3 412.5 377.8 C419.8 380.3 430.7 386.8 434.3 388.6"/>
<path d="M560.5 534.0 C568.5 531.9 593.1 524.2 608.3 521.4 C623.5 518.6 637.4 517.4 651.9 517.0 C666.4 516.6 681.1 517.8 695.4 519.2 C709.8 520.7 730.9 524.6 738.0 525.7"/>
<path d="M121.8 534.0 C118.5 537.6 107.0 549.3 102.3 555.8 C97.6 562.3 95.4 567.4 93.6 573.2 C91.8 579.0 91.0 584.1 91.4 590.6 C91.7 597.1 92.8 606.5 95.7 612.3 C98.6 618.1 104.4 622.5 108.8 625.4 C113.1 628.3 116.7 629.7 121.8 629.7 C126.9 629.7 132.0 629.0 139.3 625.4 C146.6 621.8 156.7 613.8 165.4 608.0 C174.1 602.2 182.8 594.6 191.5 590.6 C200.2 586.6 206.0 586.2 217.6 584.0 C229.2 581.8 246.6 579.7 261.1 577.5 C275.6 575.3 290.1 573.5 304.6 571.0 C319.1 568.5 337.4 564.1 348.1 562.3 C358.8 560.5 365.5 560.5 369.0 560.1"/>
<path d="M121.8 629.7 C119.3 632.6 111.0 641.3 106.6 647.1 C102.3 652.9 99.7 659.4 95.7 664.5 C91.7 669.6 88.5 672.5 82.7 677.6 C76.9 682.7 68.1 689.3 60.9 695.0 C53.6 700.7 42.8 709.2 39.2 712.0"/>
<path d="M390.8 560.1 C398.0 563.0 421.6 572.8 434.3 577.5 C447.0 582.2 457.5 584.8 466.9 588.4 C476.3 592.0 486.8 597.5 490.8 599.3"/>
<path d="M490.8 588.4 C485.0 593.8 467.2 610.1 456.0 621.0 C444.8 631.9 434.3 642.1 423.4 653.7 C412.5 665.3 398.0 681.0 390.8 690.7 C383.5 700.4 381.7 708.5 379.9 712.0"/>
<path d="M503.9 534.0 C506.8 537.6 515.5 546.7 521.3 555.8 C527.1 564.9 532.9 579.3 538.7 588.4 C544.5 597.5 549.9 601.1 556.1 610.2 C562.3 619.3 570.6 631.9 575.7 642.8 C580.8 653.7 582.2 663.9 586.6 675.4 C590.9 686.9 599.3 705.9 601.8 712.0"/>
<path d="M586.6 642.8 C593.8 645.0 619.2 651.4 630.1 655.8 C641.0 660.1 645.4 663.1 651.9 668.9 C658.4 674.7 665.7 683.5 669.3 690.7 C672.9 697.9 672.9 708.5 673.6 712.0"/>
<path d="M499.5 534.0 C499.9 537.6 501.7 548.5 501.7 555.8 C501.7 563.0 501.3 572.1 499.5 577.5 C497.7 582.9 489.0 584.8 490.8 588.4 C492.6 592.0 501.7 597.1 510.4 599.3 C519.1 601.5 535.1 599.9 543.1 601.4 C551.1 602.9 551.0 604.0 558.3 608.0 C565.5 612.0 578.3 620.7 586.6 625.4 C594.9 630.1 601.0 632.7 608.3 636.3 C615.5 639.9 626.5 645.3 630.1 647.1"/>
<path d="M738.0 534.0 C748.9 534.2 781.5 534.4 803.3 535.1 C825.0 535.8 846.8 537.1 868.5 538.4 C890.2 539.7 912.0 541.1 933.8 542.7 C955.6 544.3 977.3 546.5 999.1 548.1 C1020.9 549.7 1046.4 551.2 1064.4 552.5 C1082.4 553.8 1099.9 555.2 1107.0 555.8"/>
<path d="M738.0 527.9 C745.2 528.3 767.0 529.1 781.5 530.1 C796.0 531.1 817.8 533.4 825.0 534.0"/>
</g>
<g fill="none" stroke="#a3a49e" stroke-width="1.25" stroke-dasharray="3.5 2.2">
<path d="M10.9 0.0 L17.4 13.1 L21.8 26.1 L30.5 27.2 L50.0 21.8 L56.6 32.6 L65.3 47.9 L67.4 52.2 L71.8 45.7"/>
<path d="M65.3 0.0 L63.1 10.9 L65.3 26.1 L71.8 45.7 L82.7 65.3 L93.6 91.4 L104.4 106.6 L113.1 104.4 L119.7 121.8 L126.2 134.9 L165.4 133.8 L178.4 128.4 L195.8 117.5 L217.6 102.3 L235.0 80.5 L252.4 74.0"/>
<path d="M165.4 0.0 L152.3 21.8 L145.8 28.3"/>
<path d="M235.0 130.5 L239.3 121.8 L252.4 117.5 L261.1 113.1"/>
<path d="M235.0 130.5 L245.9 143.6 L252.4 152.3 L252.4 165.4 L263.3 169.7 L263.3 178.0"/>
<path d="M252.4 91.4 L256.7 87.0 L282.9 71.8 L304.6 63.1 L315.5 58.7 L319.8 63.1 L352.5 45.7 L350.3 26.1 L346.0 13.1 L346.0 0.0"/>
<path d="M104.4 156.7 L121.8 139.3 L130.5 134.9"/>
<path d="M104.4 156.7 L106.6 178.0"/>
<path d="M0.0 161.0 L13.1 167.5 L21.8 178.0"/>
<path d="M419.0 0.0 L425.6 17.4 L434.3 32.6 L438.6 47.9 L429.9 56.6 L434.3 71.8 L432.1 89.2 L443.0 100.1 L451.7 117.5 L449.5 141.4 L451.7 169.7 L447.3 178.0"/>
<path d="M495.2 178.0 L501.7 152.3 L521.3 145.8 L532.2 141.4 L543.1 150.1 L556.1 134.9 L558.3 113.1 L549.6 104.4 L560.5 91.4 L556.1 82.7 L575.7 71.8 L577.9 60.9 L586.6 45.7 L608.3 58.7 L614.9 76.2 L608.3 84.9 L617.0 102.3 L638.8 128.4 L647.5 134.9 L643.2 148.0 L632.3 163.2"/>
<path d="M577.9 167.5 L604.0 154.5 L614.9 161.0 L630.1 161.0 L651.9 152.3 L673.6 148.0"/>
<path d="M612.7 56.6 L630.1 41.3 L651.9 26.1 L649.7 13.1 L649.7 0.0"/>
<path d="M651.9 26.1 L678.0 6.5 L688.8 19.6 L697.5 52.2 L708.4 54.4 L719.3 87.0 L712.8 104.4 L684.5 130.5 L680.1 139.3"/>
<path d="M807.6 0.0 L798.9 13.1 L781.5 37.0 L790.2 58.7 L803.3 65.3"/>
<path d="M738.0 82.7 L772.8 56.6 L794.6 60.9"/>
<path d="M833.7 56.6 L849.0 54.4 L859.8 78.3 L870.7 97.9 L879.4 128.4 L894.7 132.7 L896.8 148.0 L912.1 152.3 L933.8 161.0 L955.6 165.4 L977.3 158.8"/>
<path d="M1016.5 152.3 L1020.9 145.8 L1064.4 152.3 L1094.8 150.1"/>
<path d="M933.8 178.0 L942.5 165.4"/>
<path d="M1038.3 32.6 L1086.1 15.2 L1107.0 13.1"/>
<path d="M21.8 178.0 L32.6 195.4 L43.5 208.5 L37.0 223.7 L21.8 243.3 L8.7 256.3 L0.0 273.7"/>
<path d="M65.3 191.1 L74.0 204.1 L95.7 197.6 L89.2 186.7 L104.4 178.0"/>
<path d="M87.0 217.2 L95.7 234.6 L104.4 256.3 L117.5 265.0 L130.5 247.6 L143.6 243.3 L156.7 241.1 L169.7 249.8 L180.6 262.9 L191.5 260.7 L200.2 278.1 L208.9 295.5 L217.6 312.9 L221.9 330.3 L226.3 356.0"/>
<path d="M113.1 265.0 L121.8 286.8 L126.2 299.8 L130.5 317.3 L139.3 334.7 L152.3 339.0 L174.1 343.4 L187.1 356.0"/>
<path d="M21.8 243.3 L32.6 256.3 L43.5 269.4 L50.0 286.8 L60.9 295.5 L71.8 312.9 L82.7 330.3 L84.9 356.0"/>
<path d="M252.4 178.0 L261.1 195.4 L267.6 212.8 L269.8 234.6 L265.4 247.6 L256.7 256.3 L250.2 273.7 L252.4 286.8 L239.3 312.9 L217.6 330.3"/>
<path d="M282.9 254.2 L304.6 252.0 L315.5 256.3 L326.4 256.3 L339.4 252.0 L352.5 241.1 L359.0 234.6"/>
<path d="M261.1 252.0 L274.2 269.4 L291.6 286.8 L309.0 299.8 L326.4 308.5 L339.4 291.1 L348.1 286.8 L369.0 278.1"/>
<path d="M87.0 330.3 L65.3 341.2 L43.5 352.1"/>
<path d="M369.0 219.3 L390.8 215.0 L412.5 204.1 L419.0 191.1 L423.4 178.0"/>
<path d="M482.1 178.0 L477.8 204.1 L469.1 221.5 L460.4 243.3 L456.0 249.8 L440.8 247.6"/>
<path d="M375.5 271.6 L390.8 269.4 L412.5 291.1 L425.6 299.8 L440.8 317.3 L451.7 330.3 L456.0 343.4"/>
<path d="M564.8 199.8 L586.6 206.3 L599.6 217.2 L606.2 228.0 L599.6 241.1 L582.2 247.6 L577.9 269.4 L571.3 280.3"/>
<path d="M608.3 339.0 L623.6 330.3 L630.1 321.6 L647.5 319.4 L654.0 312.9 L660.6 304.2"/>
<path d="M669.3 304.2 L680.1 291.1 L691.0 282.4 L697.5 269.4 L688.8 258.5 L673.6 256.3"/>
<path d="M699.7 280.3 L708.4 269.4 L721.5 269.4 L738.0 265.0"/>
<path d="M651.9 210.6 L662.7 201.9 L684.5 195.4 L699.7 184.5 L708.4 178.0"/>
<path d="M738.0 180.2 L759.8 193.2 L781.5 206.3 L781.5 215.0"/>
<path d="M755.4 234.6 L770.6 243.3 L770.6 254.2 L790.2 265.0 L794.6 258.5 L803.3 252.0 L790.2 269.4 L785.9 280.3 L781.5 295.5 L770.6 302.0 L768.5 312.9 L755.4 326.0 L751.1 339.0"/>
<path d="M820.7 269.4 L825.0 271.6 L838.1 267.2 L846.8 262.9 L855.5 260.7 L864.2 273.7 L877.3 260.7 L881.6 247.6 L892.5 241.1 L896.8 228.0 L922.9 215.0"/>
<path d="M877.3 260.7 L890.3 278.1 L907.7 291.1 L916.4 304.2 L929.5 312.9 L933.8 319.4 L944.7 317.3"/>
<path d="M929.5 178.0 L922.9 199.8 L922.9 210.6 L933.8 217.2 L955.6 221.5 L968.6 217.2 L977.3 232.4 L988.2 238.9 L999.1 245.4 L1012.2 254.2 L1003.4 262.9 L1007.8 269.4 L1012.2 282.4 L1025.2 286.8"/>
<path d="M977.3 269.4 L994.7 269.4 L1007.8 265.0"/>
<path d="M944.7 312.9 L951.2 334.7 L955.6 356.0"/>
<path d="M959.9 330.3 L977.3 334.7 L994.7 341.2 L999.1 356.0"/>
<path d="M1042.6 356.0 L1060.0 341.2 L1075.2 332.5 L1107.0 332.5"/>
<path d="M0.0 377.8 L21.8 382.1 L43.5 386.5 L56.6 395.2 L65.3 412.6 L82.7 423.4 L93.6 416.9"/>
<path d="M82.7 356.0 L87.0 369.1 L91.4 377.8 L100.1 390.8 L97.9 406.0"/>
<path d="M34.8 412.6 L37.0 430.0 L50.0 425.6 L60.9 423.4"/>
<path d="M76.2 456.1 L91.4 462.6 L117.5 458.3 L134.9 467.0 L152.3 477.8 L161.0 495.3 L174.1 512.7 L184.9 534.0"/>
<path d="M178.4 497.4 L195.8 490.9 L217.6 490.9 L239.3 495.3 L256.7 506.1"/>
<path d="M191.5 356.0 L206.7 369.1 L217.6 379.9 L230.6 388.6 L239.3 403.9 L252.4 421.3 L261.1 434.3 L272.0 447.4 L287.2 460.4"/>
<path d="M0.0 477.8 L13.1 482.2 L26.1 486.5 L43.5 490.9 L56.6 499.6 L69.6 508.3"/>
<path d="M78.3 486.5 L71.8 504.0 L65.3 521.4 L65.3 534.0"/>
<path d="M256.7 508.3 L261.1 521.4 L261.1 534.0"/>
<path d="M339.4 356.0 L348.1 364.7 L369.0 369.1"/>
<path d="M369.0 373.4 L390.8 371.2 L412.5 373.4 L429.9 382.1 L434.3 403.9"/>
<path d="M447.3 403.9 L456.0 410.4 L477.8 399.5 L490.8 388.6 L499.5 369.1 L503.9 356.0"/>
<path d="M499.5 369.1 L521.3 373.4 L543.1 366.9 L564.8 360.4 L586.6 356.0"/>
<path d="M573.5 369.1 L577.9 377.8 L586.6 373.4 L597.5 379.9 L608.3 384.3 L621.4 386.5"/>
<path d="M597.5 388.6 L604.0 403.9 L599.6 421.3 L595.3 438.7 L593.1 447.4"/>
<path d="M521.3 430.0 L525.7 438.7 L534.4 447.4"/>
<path d="M608.3 469.1 L612.7 490.9 L614.9 508.3 L619.2 530.1"/>
<path d="M717.1 356.0 L725.8 369.1 L738.0 373.4"/>
<path d="M999.1 356.0 L1020.9 371.2 L1033.9 366.9"/>
<path d="M933.8 356.0 L936.0 369.1 L933.8 382.1 L929.5 393.0 L922.9 399.5"/>
<path d="M896.8 416.9 L903.4 430.0 L912.1 436.5 L927.3 432.2 L938.2 432.2 L946.9 438.7 L955.6 449.6 L977.3 436.5 L999.1 419.1 L1014.3 412.6 L1029.6 423.4 L1025.2 443.0 L1025.2 447.4 L1042.6 449.6 L1057.8 453.9 L1060.0 464.8"/>
<path d="M903.4 430.0 L894.7 447.4 L890.3 456.1 L894.7 464.8"/>
<path d="M868.5 460.4 L870.7 486.5 L868.5 508.3 L872.9 521.4 L894.7 523.5 L933.8 527.9 L977.3 527.9 L1020.9 525.7 L1053.5 517.0 L1068.7 499.6"/>
<path d="M833.7 495.3 L840.3 486.5 L851.1 486.5 L868.5 497.4 L879.4 490.9 L888.1 486.5"/>
<path d="M820.7 419.1 L829.4 427.8 L838.1 438.7 L851.1 443.0 L857.7 447.4"/>
<path d="M738.0 486.5 L746.7 488.7 L759.8 490.9"/>
<path d="M1010.0 534.0 L1014.3 521.4 L1031.7 517.0"/>
<path d="M0.0 553.6 L4.4 544.9 L2.2 534.0"/>
<path d="M43.5 534.0 L52.2 547.1 L65.3 538.4 L71.8 547.1 L87.0 560.1 L97.9 566.6 L91.4 577.5 L82.7 590.6 L78.3 605.8 L84.9 625.4 L71.8 627.6 L56.6 636.3 L43.5 631.9 L26.1 636.3 L17.4 647.1 L0.0 647.1"/>
<path d="M97.9 566.6 L113.1 560.1 L130.5 557.9 L152.3 557.9 L174.1 553.6"/>
<path d="M169.7 534.0 L174.1 549.2 L178.4 560.1 L178.4 568.8 L189.3 584.0 L195.8 594.9 L202.3 612.3 L213.2 623.2 L219.8 634.1 L239.3 634.1 L248.0 642.8 L261.1 651.5 L272.0 664.5 L280.7 677.6 L285.0 699.4 L289.4 712.0"/>
<path d="M174.1 553.6 L182.8 568.8"/>
<path d="M200.2 629.7 L202.3 647.1 L195.8 651.5 L184.9 647.1 L169.7 655.8 L152.3 664.5"/>
<path d="M143.6 664.5 L141.4 682.0 L134.9 692.8 L152.3 703.7 L165.4 712.0"/>
<path d="M104.4 638.4 L113.1 651.5 L121.8 664.5"/>
<path d="M272.0 577.5 L278.5 588.4 L289.4 599.3 L304.6 616.7 L315.5 621.0 L326.4 625.4 L339.4 616.7 L348.1 625.4 L356.8 642.8 L352.5 664.5 L339.4 673.3 L326.4 686.3 L322.0 699.4"/>
<path d="M261.1 534.0 L267.6 547.1 L274.2 555.8 L276.3 568.8 L269.8 577.5"/>
<path d="M287.2 699.4 L304.6 695.0 L326.4 690.7"/>
<path d="M369.0 534.0 L390.8 540.5 L401.6 547.1 L412.5 555.8 L423.4 566.6"/>
<path d="M403.8 584.0 L412.5 590.6 L434.3 605.8 L445.2 618.9 L456.0 631.9 L462.6 647.1 L466.9 664.5 L477.8 686.3 L486.5 712.0"/>
<path d="M369.0 642.8 L390.8 647.1 L412.5 655.8 L423.4 668.9 L412.5 682.0 L403.8 690.7 L401.6 712.0"/>
<path d="M434.3 605.8 L445.2 590.6 L462.6 577.5 L473.4 562.3 L488.7 551.4 L503.9 555.8 L521.3 549.2 L543.1 544.9 L564.8 547.1 L586.6 538.4"/>
<path d="M556.1 581.9 L564.8 586.2 L586.6 597.1 L599.6 603.6 L612.7 612.3 L625.7 621.0 L638.8 629.7 L651.9 642.8 L662.7 655.8 L673.6 655.8 L695.4 651.5 L706.2 642.8 L717.1 634.1 L730.2 625.4"/>
<path d="M586.6 534.0 L597.5 547.1 L608.3 555.8 L619.2 568.8 L625.7 584.0 L638.8 594.9 L647.5 612.3"/>
<path d="M477.8 712.0 L490.8 695.0 L499.5 688.5 L521.3 692.8 L532.2 699.4"/>
<path d="M641.0 664.5 L651.9 673.3 L662.7 677.6 L667.1 699.4 L673.6 712.0"/>
<path d="M543.1 655.8 L547.4 664.5"/>
<path d="M738.0 636.3 L748.9 640.6 L759.8 645.0 L781.5 636.3 L792.4 642.8 L803.3 649.3 L814.2 647.1 L820.7 642.8"/>
<path d="M820.7 642.8 L835.9 655.8 L846.8 668.9 L855.5 677.6"/>
<path d="M798.9 555.8 L796.7 577.5 L798.9 592.7 L803.3 599.3 L809.8 610.2 L801.1 621.0 L792.4 631.9 L785.9 636.3"/>
<path d="M798.9 555.8 L814.2 547.1 L825.0 540.5 L831.6 534.0"/>
<path d="M803.3 599.3 L825.0 592.7 L842.4 588.4 L855.5 586.2"/>
<path d="M933.8 542.7 L946.9 551.4 L955.6 560.1 L959.9 568.8 L964.3 581.9 L966.5 594.9 L964.3 603.6 L973.0 608.0 L968.6 621.0 L962.1 627.6 L951.2 634.1 L946.9 647.1 L942.5 651.5 L951.2 660.2 L955.6 668.9 L964.3 677.6"/>
<path d="M881.6 638.4 L894.7 642.8 L903.4 647.1 L922.9 653.7 L933.8 658.0 L944.7 655.8 L955.6 662.4"/>
<path d="M999.1 678.0 L1010.0 668.9 L1020.9 655.8 L1033.9 655.8 L1051.3 651.5 L1060.0 642.8"/>
<path d="M1060.0 642.8 L1077.4 634.1 L1090.5 629.7 L1107.0 623.2"/>
<path d="M890.3 712.0 L899.0 703.7 L907.7 708.1"/>
<path d="M999.1 712.0 L1005.6 699.4 L1012.2 690.7"/>
</g>
<g fill="none" stroke="#9c9c9c" stroke-width="1.3" stroke-linejoin="round">
<path d="M909.9 0.0 L916.4 10.9 L912.1 17.4 L914.2 30.5 L899.0 37.0 L903.4 41.3 L918.6 37.0 L927.3 30.5 L942.5 37.0 L953.4 47.9 L977.3 32.6 L983.9 35.9 L1005.6 30.5 L1014.3 40.3 L1038.3 32.6 L1051.3 50.0 L1053.5 56.6 L1064.4 67.4 L1086.1 87.0 L1092.7 93.6 L1086.1 113.1 L1088.3 130.5 L1094.8 150.1 L1068.7 152.3 L1073.1 178.0"/>
<path d="M1073.1 178.0 L1084.0 184.5 L1081.8 191.1 L1088.3 199.8 L1090.5 210.6 L1097.0 221.5 L1107.0 232.4"/>
<path d="M1107.0 233.5 L1094.8 235.7 L1081.8 238.9 L1060.0 247.6 L1047.0 260.7 L1027.4 269.4 L1025.2 282.4 L1029.6 289.0 L1027.4 308.5 L1025.2 321.6 L1020.9 328.1 L1029.6 343.4 L1038.3 356.0"/>
<path d="M1038.3 356.0 L1051.3 377.8 L1053.5 399.5 L1042.6 414.7 L1036.1 427.8 L1051.3 445.2 L1062.2 460.4 L1064.4 471.3 L1075.2 480.0 L1086.1 486.5 L1090.5 497.4"/>
<path d="M1097.0 547.1 L1103.5 555.8 L1107.0 557.9"/>
</g>
<g fill="none" stroke="#ffffff" stroke-linecap="round" stroke-linejoin="round">
<g clip-path="url(#outhq)">
<path d="M206.7 39.2 C210.3 42.1 222.3 50.8 228.5 56.6 C234.7 62.4 239.0 68.2 243.7 74.0 C248.4 79.8 252.7 86.0 256.7 91.4 C260.7 96.8 264.5 103.3 267.6 106.6 C270.7 109.9 273.9 110.3 275.2 111.0" stroke-width="1.35"/>
<path d="M258.9 0.0 C261.5 5.4 268.0 22.8 274.2 32.6 C280.4 42.4 290.1 52.2 295.9 58.7 C301.7 65.2 306.1 67.1 309.0 71.8 C311.9 76.5 312.6 81.6 313.3 87.0 C314.0 92.4 312.2 99.3 313.3 104.4 C314.4 109.5 316.2 113.5 319.8 117.5 C323.4 121.5 326.9 125.5 335.1 128.4 C343.3 131.3 363.3 133.8 369.0 134.9" stroke-width="1.35"/>
<path d="M473.4 0.0 C476.3 5.4 486.8 23.5 490.8 32.6 C494.8 41.7 495.2 48.2 497.4 54.4 C499.6 60.6 501.4 63.4 503.9 69.6 C506.4 75.8 510.4 86.3 512.6 91.4 C514.8 96.5 516.3 98.6 517.0 100.1" stroke-width="1.35"/>
<path d="M562.6 34.8 C564.8 35.2 571.3 37.4 575.7 37.0 C580.1 36.6 585.2 35.1 588.8 32.6 C592.4 30.1 596.0 23.6 597.5 21.8" stroke-width="1.35"/>
<path d="M371.2 139.3 C375.6 137.5 390.4 124.8 397.3 128.4 C404.2 132.0 410.7 153.4 412.5 161.0 C414.3 168.6 408.9 171.9 408.2 174.1" stroke-width="1.35"/>
<path d="M480.0 87.0 C481.8 89.9 488.6 97.2 490.8 104.4 C493.0 111.7 492.3 124.7 493.0 130.5 C493.7 136.3 494.8 137.8 495.2 139.3" stroke-width="1.35"/>
<path d="M649.7 0.0 C650.1 3.6 651.2 14.5 651.9 21.8 C652.6 29.0 652.9 37.4 654.0 43.5 C655.1 49.6 655.1 55.1 658.4 58.7 C661.7 62.3 670.0 61.3 673.6 65.3 C677.2 69.3 676.5 78.0 680.1 82.7 C683.7 87.4 691.1 89.2 695.4 93.6 C699.8 98.0 704.4 106.3 706.2 108.8" stroke-width="1.35"/>
<path d="M658.4 58.7 C661.7 57.2 671.8 52.9 678.0 50.0 C684.2 47.1 689.6 43.8 695.4 41.3 C701.2 38.8 707.4 37.7 712.8 34.8 C718.2 31.9 725.5 25.7 728.0 23.9" stroke-width="1.35"/>
<path d="M673.6 0.0 C676.1 3.6 685.2 14.5 688.8 21.8 C692.4 29.0 692.1 37.7 695.4 43.5 C698.7 49.3 704.1 53.3 708.4 56.6 C712.8 59.9 719.3 62.0 721.5 63.1" stroke-width="1.35"/>
<path d="M678.0 4.4 C683.1 5.1 700.4 8.7 708.4 8.7 C716.4 8.7 720.9 4.8 725.8 4.4 C730.7 4.0 736.0 6.2 738.0 6.5" stroke-width="1.35"/>
<path d="M651.9 91.4 C654.8 93.6 663.9 100.1 669.3 104.4 C674.7 108.8 680.1 113.2 684.5 117.5 C688.9 121.8 692.1 125.4 695.4 130.5 C698.7 135.6 701.9 142.2 704.1 148.0 C706.3 153.8 707.7 162.5 708.4 165.4" stroke-width="1.35"/>
<path d="M630.1 130.5 C625.7 134.1 610.2 144.4 604.0 152.3 C597.8 160.2 594.9 173.7 593.1 178.0" stroke-width="1.35"/>
<path d="M717.1 178.0 C718.5 173.7 722.3 158.8 725.8 152.3 C729.3 145.9 736.0 141.5 738.0 139.3" stroke-width="1.35"/>
<path d="M660.6 178.0 C662.8 175.2 668.5 165.3 673.6 161.0 C678.7 156.7 685.2 155.6 691.0 152.3 C696.8 149.0 700.6 145.0 708.4 141.4 C716.2 137.8 733.1 132.3 738.0 130.5" stroke-width="1.35"/>
<path d="M369.0 152.3 C371.2 154.5 378.5 161.1 382.1 165.4 C385.7 169.7 389.3 175.9 390.8 178.0" stroke-width="1.35"/>
<path d="M443.0 178.0 C443.7 171.6 446.9 148.7 447.3 139.3 C447.7 129.9 445.6 124.7 445.2 121.8" stroke-width="1.35"/>
<path d="M886.0 37.0 C886.7 34.5 888.8 28.0 890.3 21.8 C891.8 15.6 894.0 3.6 894.7 0.0" stroke-width="1.35"/>
<path d="M886.0 37.0 C882.4 34.5 870.4 26.5 864.2 21.8 C858.0 17.1 853.4 12.3 849.0 8.7 C844.6 5.1 839.9 1.5 838.1 0.0" stroke-width="1.35"/>
<path d="M992.6 113.1 C995.9 110.6 1004.6 103.0 1012.2 97.9 C1019.8 92.8 1029.6 88.1 1038.3 82.7 C1047.0 77.3 1057.9 71.1 1064.4 65.3 C1070.9 59.5 1072.3 53.7 1077.4 47.9 C1082.5 42.1 1089.9 34.1 1094.8 30.5 C1099.7 26.9 1105.0 26.8 1107.0 26.1" stroke-width="1.35"/>
<path d="M992.6 113.1 C990.4 116.0 982.0 124.0 979.5 130.5 C977.0 137.0 977.3 144.4 977.3 152.3 C977.3 160.2 979.1 173.7 979.5 178.0" stroke-width="1.35"/>
<path d="M738.0 119.7 C741.6 121.1 750.7 124.4 759.8 128.4 C768.9 132.4 787.0 141.1 792.4 143.6" stroke-width="1.35"/>
<path d="M738.0 8.7 C742.4 8.3 755.0 7.2 764.1 6.5 C773.2 5.8 783.0 5.1 792.4 4.4 C801.8 3.7 812.4 2.9 820.7 2.2 C829.0 1.5 838.8 0.4 842.4 0.0" stroke-width="1.35"/>
<path d="M755.4 0.0 C754.7 3.6 752.5 12.7 751.1 21.8 C749.6 30.9 748.1 43.5 746.7 54.4 C745.3 65.3 743.1 81.6 742.4 87.0" stroke-width="1.35"/>
<path d="M781.5 0.0 C783.0 3.6 787.3 14.5 790.2 21.8 C793.1 29.0 795.6 36.2 798.9 43.5 C802.2 50.8 806.2 57.3 809.8 65.3 C813.4 73.3 817.1 82.7 820.7 91.4 C824.3 100.1 828.0 109.2 831.6 117.5 C835.2 125.8 840.6 137.4 842.4 141.4" stroke-width="1.35"/>
<path d="M829.4 60.9 C830.9 65.2 834.5 78.3 838.1 87.0 C841.7 95.7 847.5 105.1 851.1 113.1 C854.7 121.1 858.3 131.3 859.8 134.9" stroke-width="1.35"/>
<path d="M846.8 52.2 C849.0 56.2 855.4 67.5 859.8 76.2 C864.1 84.9 869.6 95.4 872.9 104.4 C876.2 113.5 878.3 126.2 879.4 130.5" stroke-width="1.35"/>
<path d="M864.2 49.0 C866.4 52.8 872.9 64.7 877.3 71.8 C881.6 78.9 885.9 84.5 890.3 91.4 C894.6 98.3 901.2 109.5 903.4 113.1" stroke-width="1.35"/>
<path d="M809.8 19.6 C812.3 18.5 817.4 15.6 825.0 13.1 C832.6 10.6 846.8 6.6 855.5 4.4 C864.2 2.2 873.7 0.7 877.3 0.0" stroke-width="1.35"/>
<path d="M738.0 34.8 C741.6 33.7 750.7 30.5 759.8 28.3 C768.9 26.1 784.1 23.2 792.4 21.8 C800.7 20.3 802.2 19.6 809.8 19.6 C817.4 19.6 830.1 21.8 838.1 21.8 C846.1 21.8 854.4 20.0 857.7 19.6" stroke-width="1.35"/>
<path d="M759.8 104.4 C765.2 104.8 782.3 108.8 792.4 106.6 C802.6 104.4 811.6 95.0 820.7 91.4 C829.8 87.8 842.4 86.0 846.8 84.9" stroke-width="1.35"/>
<path d="M755.4 130.5 C761.6 127.6 780.1 117.8 792.4 113.1 C804.7 108.4 816.7 105.9 829.4 102.3 C842.1 98.7 857.6 94.7 868.5 91.4 C879.4 88.1 890.3 84.1 894.7 82.7" stroke-width="1.35"/>
<path d="M933.8 0.0 C935.2 3.6 940.3 14.5 942.5 21.8 C944.7 29.0 946.2 39.9 946.9 43.5" stroke-width="1.35"/>
<path d="M955.6 0.0 C954.1 2.2 949.1 9.5 946.9 13.1 C944.7 16.7 943.2 20.3 942.5 21.8" stroke-width="1.35"/>
<path d="M999.1 126.2 C1005.6 125.5 1027.4 124.0 1038.3 121.8 C1049.2 119.6 1053.0 116.7 1064.4 113.1 C1075.9 109.5 1099.9 102.3 1107.0 100.1" stroke-width="1.35"/>
<path d="M1064.4 65.3 C1066.6 68.9 1073.1 79.8 1077.4 87.0 C1081.8 94.2 1085.6 103.0 1090.5 108.8 C1095.4 114.6 1104.2 119.6 1107.0 121.8" stroke-width="1.35"/>
<path d="M999.1 43.5 C1002.7 47.1 1014.4 58.8 1020.9 65.3 C1027.4 71.8 1035.4 79.8 1038.3 82.7" stroke-width="1.35"/>
<path d="M1068.7 21.8 C1070.2 25.4 1073.8 37.7 1077.4 43.5 C1081.0 49.3 1085.6 53.7 1090.5 56.6 C1095.4 59.5 1104.2 60.2 1107.0 60.9" stroke-width="1.35"/>
<path d="M1020.9 152.3 C1025.2 150.9 1037.6 146.5 1047.0 143.6 C1056.4 140.7 1067.4 137.1 1077.4 134.9 C1087.4 132.7 1102.1 131.2 1107.0 130.5" stroke-width="1.35"/>
<path d="M738.0 152.3 C741.6 153.0 753.3 155.2 759.8 156.7 C766.3 158.1 774.3 160.3 777.2 161.0" stroke-width="1.35"/>
<path d="M816.3 139.3 C818.5 142.2 826.5 150.2 829.4 156.7 C832.3 163.1 833.0 174.4 833.7 178.0" stroke-width="1.35"/>
<path d="M872.9 128.4 C875.8 132.4 885.2 144.0 890.3 152.3 C895.4 160.6 901.2 173.7 903.4 178.0" stroke-width="1.35"/>
<path d="M933.8 130.5 C936.0 134.1 943.3 144.4 946.9 152.3 C950.5 160.2 954.1 173.7 955.6 178.0" stroke-width="1.35"/>
<path d="M174.1 178.0 C175.6 179.1 179.9 182.7 182.8 184.5 C185.7 186.3 185.7 184.9 191.5 188.9 C197.3 192.9 210.4 201.6 217.6 208.5 C224.9 215.4 228.5 222.6 235.0 230.2 C241.5 237.8 250.2 247.3 256.7 254.2 C263.2 261.1 268.8 266.2 274.2 271.6 C279.7 277.0 286.9 284.3 289.4 286.8" stroke-width="1.35"/>
<path d="M174.1 212.8 C177.0 216.8 186.1 228.0 191.5 236.7 C196.9 245.4 202.7 256.6 206.7 265.0 C210.7 273.4 212.1 280.3 215.4 286.8 C218.7 293.3 223.0 296.2 226.3 304.2 C229.6 312.2 233.2 326.1 235.0 334.7 C236.8 343.3 236.8 352.4 237.2 356.0" stroke-width="1.35"/>
<path d="M139.3 245.4 C141.5 248.7 147.9 258.8 152.3 265.0 C156.6 271.2 161.8 277.3 165.4 282.4 C169.0 287.5 172.7 293.3 174.1 295.5" stroke-width="1.35"/>
<path d="M60.9 221.5 C63.4 225.1 71.1 235.3 76.2 243.3 C81.3 251.3 86.7 260.7 91.4 269.4 C96.1 278.1 101.9 281.1 104.4 295.5 C106.9 309.9 106.2 345.9 106.6 356.0" stroke-width="1.35"/>
<path d="M106.6 300.9 C110.6 299.4 124.7 291.6 130.5 292.2 C136.3 292.8 138.1 301.5 141.4 304.2 C144.7 306.9 147.6 306.0 150.1 308.5 C152.7 311.0 154.2 315.0 156.7 319.4 C159.3 323.8 162.5 330.0 165.4 334.7 C168.3 339.4 171.2 344.1 174.1 347.7 C177.0 351.2 181.3 354.6 182.8 356.0" stroke-width="1.35"/>
<path d="M84.9 290.1 L104.4 302.0" stroke-width="1.35"/>
<path d="M84.9 290.1 C81.3 292.5 68.9 299.3 63.1 304.2 C57.3 309.1 53.3 313.6 50.0 319.4 C46.7 325.2 45.3 332.9 43.5 339.0 C41.7 345.1 39.9 353.2 39.2 356.0" stroke-width="1.35"/>
<path d="M89.2 315.1 C90.3 316.6 92.8 323.4 95.7 323.8 C98.6 324.2 104.8 318.4 106.6 317.3" stroke-width="1.35"/>
<path d="M289.4 284.6 C291.9 287.1 300.6 295.5 304.6 299.8 C308.6 304.1 309.7 305.6 313.3 310.7 C316.9 315.8 324.2 327.0 326.4 330.3" stroke-width="1.35"/>
<path d="M326.4 330.3 C328.6 328.1 334.3 322.4 339.4 317.3 C344.5 312.2 351.9 304.2 356.8 299.8 C361.7 295.4 367.0 292.6 369.0 291.1" stroke-width="1.35"/>
<path d="M304.6 356.0 C306.4 352.8 311.9 341.1 315.5 336.8 C319.1 332.5 321.0 331.4 326.4 330.3 C331.8 329.2 341.0 330.7 348.1 330.3 C355.2 329.9 365.5 328.5 369.0 328.1" stroke-width="1.35"/>
<path d="M348.1 356.0 C348.8 353.2 350.3 344.0 352.5 339.0 C354.7 334.0 358.5 329.6 361.2 326.0 C364.0 322.4 367.7 318.8 369.0 317.3" stroke-width="1.35"/>
<path d="M65.3 191.1 C66.0 193.6 70.0 201.2 69.6 206.3 C69.2 211.4 64.2 219.0 63.1 221.5" stroke-width="1.35"/>
<path d="M356.8 217.2 L369.0 210.6" stroke-width="1.35"/>
<path d="M352.5 217.2 C353.6 215.0 356.2 207.4 359.0 204.1 C361.8 200.8 367.3 198.7 369.0 197.6" stroke-width="1.35"/>
<path d="M326.4 178.0 C328.2 180.9 333.6 191.0 337.2 195.4 C340.8 199.7 342.8 203.4 348.1 204.1 C353.4 204.8 365.5 200.5 369.0 199.8" stroke-width="1.35"/>
<path d="M512.6 238.9 C515.5 242.5 524.2 252.7 530.0 260.7 C535.8 268.7 544.5 281.6 547.4 286.8 C550.3 292.1 547.4 291.3 547.4 292.2" stroke-width="1.35"/>
<path d="M460.4 199.8 C459.7 210.7 457.4 249.8 456.0 265.0 C454.6 280.2 453.5 280.2 451.7 291.1 C449.9 302.0 446.7 319.5 445.2 330.3 C443.8 341.1 443.4 351.7 443.0 356.0" stroke-width="1.35"/>
<path d="M499.5 186.7 C499.9 190.7 500.2 201.9 501.7 210.6 C503.2 219.3 507.2 234.2 508.3 238.9" stroke-width="1.35"/>
<path d="M412.5 195.4 C411.8 199.7 407.5 212.8 408.2 221.5 C408.9 230.2 415.1 238.5 416.9 247.6 C418.7 256.7 419.0 265.8 419.0 275.9 C419.0 286.0 418.0 295.1 416.9 308.5 C415.8 321.9 413.2 348.1 412.5 356.0" stroke-width="1.35"/>
<path d="M369.0 243.3 C372.6 244.0 383.5 245.4 390.8 247.6 C398.0 249.8 405.2 252.7 412.5 256.3 C419.8 259.9 427.8 263.6 434.3 269.4 C440.8 275.2 448.8 287.5 451.7 291.1" stroke-width="1.35"/>
<path d="M369.0 299.8 C374.4 299.8 387.8 301.2 401.6 299.8 C415.4 298.4 443.4 292.6 451.7 291.1" stroke-width="1.35"/>
<path d="M499.5 295.5 C498.8 299.5 496.7 309.3 495.2 319.4 C493.8 329.5 491.5 349.9 490.8 356.0" stroke-width="1.35"/>
<path d="M543.1 299.8 C542.4 304.9 538.7 320.9 538.7 330.3 C538.7 339.7 542.4 351.7 543.1 356.0" stroke-width="1.35"/>
<path d="M469.1 232.4 C472.7 230.6 482.1 224.0 490.8 221.5 C499.5 219.0 511.9 217.2 521.3 217.2 C530.7 217.2 543.1 220.8 547.4 221.5" stroke-width="1.35"/>
<path d="M508.3 238.9 C510.5 239.6 515.5 242.6 521.3 243.3 C527.1 244.0 536.9 243.3 543.1 243.3 C549.3 243.3 555.8 243.3 558.3 243.3" stroke-width="1.35"/>
<path d="M630.1 299.8 C630.8 303.1 633.0 310.0 634.4 319.4 C635.9 328.8 638.1 349.9 638.8 356.0" stroke-width="1.35"/>
<path d="M625.7 178.0 C628.2 180.9 636.6 190.0 641.0 195.4 C645.4 200.8 645.7 205.5 651.9 210.6 C658.1 215.7 670.8 220.4 678.0 225.9 C685.2 231.3 688.9 238.2 695.4 243.3 C701.9 248.4 710.0 253.4 717.1 256.3 C724.2 259.2 734.5 260.0 738.0 260.7" stroke-width="1.35"/>
<path d="M673.6 303.1 C677.2 305.5 688.2 312.8 695.4 317.3 C702.7 321.8 710.0 326.7 717.1 330.3 C724.2 333.9 734.5 337.6 738.0 339.0" stroke-width="1.35"/>
<path d="M695.4 299.8 C699.0 296.9 710.0 287.5 717.1 282.4 C724.2 277.3 734.5 271.6 738.0 269.4" stroke-width="1.35"/>
<path d="M662.7 178.0 C664.5 180.9 670.0 190.0 673.6 195.4 C677.2 200.8 679.1 205.5 684.5 210.6 C689.9 215.7 699.0 221.9 706.2 225.9 C713.5 229.9 724.4 233.2 728.0 234.6" stroke-width="1.35"/>
<path d="M684.5 178.0 C687.0 180.9 694.3 190.0 699.7 195.4 C705.1 200.8 710.7 206.3 717.1 210.6 C723.5 215.0 734.5 219.7 738.0 221.5" stroke-width="1.35"/>
<path d="M651.9 265.0 C654.8 267.9 663.5 278.0 669.3 282.4 C675.1 286.8 680.2 288.2 686.7 291.1 C693.2 294.0 704.8 298.4 708.4 299.8" stroke-width="1.35"/>
<path d="M608.3 356.0 C610.1 351.7 615.6 336.4 619.2 330.3 C622.8 324.2 628.3 321.2 630.1 319.4" stroke-width="1.35"/>
<path d="M521.3 356.0 C520.6 351.7 517.0 338.2 517.0 330.3 C517.0 322.4 520.6 312.1 521.3 308.5" stroke-width="1.35"/>
<path d="M369.0 330.3 C374.4 329.9 390.7 328.8 401.6 328.1 C412.5 327.4 423.4 324.9 434.3 326.0 C445.2 327.1 456.0 331.1 466.9 334.7 C477.8 338.3 494.1 345.5 499.5 347.7" stroke-width="1.35"/>
<path d="M738.0 197.6 C741.6 196.5 752.5 193.3 759.8 191.1 C767.0 188.9 774.2 186.7 781.5 184.5 C788.8 182.3 799.7 179.1 803.3 178.0" stroke-width="1.35"/>
<path d="M803.3 225.9 C804.4 224.1 807.6 220.1 809.8 215.0 C812.0 209.9 813.0 200.8 816.3 195.4 C819.6 190.0 824.3 185.3 829.4 182.4 C834.5 179.5 843.9 178.7 846.8 178.0" stroke-width="1.35"/>
<path d="M803.3 225.9 C805.5 227.7 811.9 233.4 816.3 236.7 C820.6 239.9 824.3 241.8 829.4 245.4 C834.5 249.0 840.3 254.1 846.8 258.5 C853.3 262.9 864.9 269.4 868.5 271.6" stroke-width="1.35"/>
<path d="M862.0 204.1 C864.9 207.7 874.0 219.4 879.4 225.9 C884.9 232.4 888.5 235.7 894.7 243.3 C900.9 250.9 909.9 262.9 916.4 271.6 C922.9 280.3 929.1 288.6 933.8 295.5 C938.5 302.4 942.2 306.4 944.7 312.9 C947.2 319.4 947.3 327.5 949.1 334.7 C950.9 341.9 954.5 352.4 955.6 356.0" stroke-width="1.35"/>
<path d="M966.5 245.4 C970.1 243.6 981.3 238.2 988.2 234.6 C995.1 231.0 1001.3 228.0 1007.8 223.7 C1014.3 219.3 1020.9 213.2 1027.4 208.5 C1033.9 203.8 1040.8 198.7 1047.0 195.4 C1053.2 192.1 1057.9 191.1 1064.4 188.9 C1070.9 186.7 1079.0 184.2 1086.1 182.4 C1093.2 180.6 1103.5 178.7 1107.0 178.0" stroke-width="1.35"/>
<path d="M1005.6 223.7 C1007.4 226.2 1011.8 232.0 1016.5 238.9 C1021.2 245.8 1027.7 257.0 1033.9 265.0 C1040.1 273.0 1046.6 281.0 1053.5 286.8 C1060.4 292.6 1071.6 297.6 1075.2 299.8" stroke-width="1.35"/>
<path d="M1027.4 308.5 C1033.6 306.3 1051.1 299.5 1064.4 295.5 C1077.7 291.5 1099.9 286.4 1107.0 284.6" stroke-width="1.35"/>
<path d="M946.9 315.1 C952.0 315.5 968.6 316.2 977.3 317.3 C986.0 318.4 991.8 319.8 999.1 321.6 C1006.4 323.4 1017.3 327.0 1020.9 328.1" stroke-width="1.35"/>
<path d="M886.0 308.5 C888.5 307.1 894.7 303.4 901.2 299.8 C907.7 296.2 917.8 290.4 925.1 286.8 C932.3 283.2 939.6 279.9 944.7 278.1 C949.8 276.3 950.5 275.2 955.6 275.9 C960.7 276.6 971.9 281.3 975.2 282.4" stroke-width="1.35"/>
<path d="M886.0 308.5 C888.2 313.2 894.6 330.6 899.0 336.8 C903.4 343.0 909.9 344.1 912.1 345.5" stroke-width="1.35"/>
<path d="M738.0 284.6 C741.6 288.2 752.2 297.3 759.8 306.4 C767.4 315.5 779.7 333.6 783.7 339.0" stroke-width="1.35"/>
<path d="M816.3 297.7 C818.5 302.4 825.1 316.3 829.4 326.0 C833.8 335.7 840.2 351.0 842.4 356.0" stroke-width="1.35"/>
<path d="M955.6 199.8 C959.2 201.6 970.0 205.9 977.3 210.6 C984.5 215.3 995.5 225.1 999.1 228.0" stroke-width="1.35"/>
<path d="M977.3 178.0 C976.6 180.9 974.5 190.0 973.0 195.4 C971.5 200.8 969.3 208.1 968.6 210.6" stroke-width="1.35"/>
<path d="M1027.4 178.0 C1029.2 180.9 1035.0 190.0 1038.3 195.4 C1041.6 200.8 1045.5 208.1 1047.0 210.6" stroke-width="1.35"/>
<path d="M1064.4 178.0 C1066.6 181.6 1073.8 192.6 1077.4 199.8 C1081.0 207.1 1084.6 217.9 1086.1 221.5" stroke-width="1.35"/>
<path d="M855.5 178.0 C856.2 180.2 858.7 186.8 859.8 191.1 C860.9 195.5 861.6 201.9 862.0 204.1" stroke-width="1.35"/>
<path d="M879.4 178.0 C881.2 180.2 887.0 186.4 890.3 191.1 C893.6 195.8 897.5 203.8 899.0 206.3" stroke-width="1.35"/>
<path d="M835.9 267.2 C839.9 269.7 851.4 275.5 859.8 282.4 C868.1 289.3 881.6 304.1 886.0 308.5" stroke-width="1.35"/>
<path d="M975.2 282.4 C975.6 285.3 975.1 294.0 977.3 299.8 C979.5 305.6 986.4 314.4 988.2 317.3" stroke-width="1.35"/>
<path d="M1077.4 269.4 C1080.3 271.6 1089.9 279.5 1094.8 282.4 C1099.7 285.3 1105.0 286.1 1107.0 286.8" stroke-width="1.35"/>
<path d="M137.1 379.9 C138.9 382.4 145.1 388.3 148.0 395.2 C150.9 402.1 153.0 413.3 154.5 421.3 C156.0 429.3 156.0 436.8 156.7 443.0 C157.4 449.2 158.4 455.7 158.8 458.3" stroke-width="1.35"/>
<path d="M261.1 356.0 C262.9 358.9 268.4 367.6 272.0 373.4 C275.6 379.2 279.3 383.9 282.9 390.8 C286.5 397.7 290.1 407.8 293.7 414.7 C297.3 421.6 301.3 426.8 304.6 432.2 C307.9 437.7 311.8 444.9 313.3 447.4" stroke-width="1.35"/>
<path d="M156.7 469.1 C158.2 464.0 161.8 448.1 165.4 438.7 C169.0 429.3 173.3 418.2 178.4 412.6 C183.5 407.0 190.7 405.4 195.8 405.0 C200.9 404.6 205.8 407.3 208.9 410.4 C212.0 413.5 213.9 418.7 214.3 423.4 C214.7 428.1 212.7 432.5 211.1 438.7 C209.5 444.9 204.9 453.9 204.5 460.4 C204.1 466.9 208.2 474.9 208.9 477.8" stroke-width="1.35"/>
<path d="M219.8 443.0 C223.0 444.8 232.4 452.4 239.3 453.9 C246.2 455.3 253.8 453.5 261.1 451.7 C268.4 449.9 279.3 444.4 282.9 443.0" stroke-width="1.35"/>
<path d="M206.7 464.8 C210.3 463.0 219.4 458.2 228.5 453.9 C237.6 449.6 250.2 444.1 261.1 438.7 C272.0 433.3 284.6 426.0 293.7 421.3 C302.8 416.6 311.9 412.2 315.5 410.4" stroke-width="1.35"/>
<path d="M228.5 399.5 C230.3 402.8 234.9 410.4 239.3 419.1 C243.6 427.8 252.0 446.3 254.6 451.7" stroke-width="1.35"/>
<path d="M282.9 443.0 C284.0 445.9 286.5 454.6 289.4 460.4 C292.3 466.2 297.0 472.7 300.3 477.8 C303.6 482.9 305.4 485.8 309.0 490.9 C312.6 496.0 319.8 505.4 322.0 508.3" stroke-width="1.35"/>
<path d="M261.1 451.7 C263.3 455.3 269.5 466.6 274.2 473.5 C278.9 480.4 286.9 489.8 289.4 493.1" stroke-width="1.35"/>
<path d="M326.4 453.9 C328.6 457.2 335.1 467.3 339.4 473.5 C343.8 479.7 347.6 485.1 352.5 490.9 C357.4 496.7 366.2 505.4 369.0 508.3" stroke-width="1.35"/>
<path d="M313.3 508.3 C317.6 506.1 330.1 499.3 339.4 495.3 C348.7 491.3 364.1 486.2 369.0 484.4" stroke-width="1.35"/>
<path d="M282.9 534.0 C287.3 531.9 299.6 524.9 309.0 521.4 C318.4 517.9 329.4 515.6 339.4 512.7 C349.4 509.8 364.1 505.4 369.0 504.0" stroke-width="1.35"/>
<path d="M230.6 495.3 C235.7 493.8 251.3 490.1 261.1 486.5 C270.9 482.9 280.7 478.6 289.4 473.5 C298.1 468.4 309.3 459.0 313.3 456.1" stroke-width="1.35"/>
<path d="M184.9 534.0 C188.5 529.7 199.1 514.8 206.7 508.3 C214.3 501.8 226.6 497.5 230.6 495.3" stroke-width="1.35"/>
<path d="M117.5 534.0 C118.2 529.7 121.8 516.2 121.8 508.3 C121.8 500.4 122.6 489.4 117.5 486.5 C112.4 483.6 100.1 487.3 91.4 490.9 C82.7 494.5 69.6 505.4 65.3 508.3" stroke-width="1.35"/>
<path d="M117.5 477.8 C121.1 476.3 132.8 470.6 139.3 469.1 C145.8 467.7 153.8 469.1 156.7 469.1" stroke-width="1.35"/>
<path d="M0.0 377.8 C5.4 376.4 23.2 372.7 32.6 369.1 C42.0 365.5 52.6 358.2 56.6 356.0" stroke-width="1.35"/>
<path d="M0.0 421.3 C2.2 419.5 8.8 414.8 13.1 410.4 C17.5 406.0 21.0 399.5 26.1 395.2 C31.2 390.9 36.2 387.2 43.5 384.3 C50.8 381.4 65.3 378.9 69.6 377.8" stroke-width="1.35"/>
<path d="M348.1 534.0 C349.9 531.9 355.5 524.2 359.0 521.4 C362.5 518.6 367.3 517.7 369.0 517.0" stroke-width="1.35"/>
<path d="M359.0 369.1 L369.0 382.1" stroke-width="1.35"/>
<path d="M339.4 356.0 C340.9 358.2 344.8 364.8 348.1 369.1 C351.4 373.5 355.5 377.0 359.0 382.1 C362.5 387.2 367.3 396.6 369.0 399.5" stroke-width="1.35"/>
<path d="M369.0 369.1 C372.6 368.7 383.5 368.0 390.8 366.9 C398.0 365.8 405.2 364.3 412.5 362.5 C419.8 360.7 430.7 357.1 434.3 356.0" stroke-width="1.35"/>
<path d="M369.0 390.8 C373.3 390.1 386.0 387.9 395.1 386.5 C404.2 385.1 415.8 384.7 423.4 382.1 C431.0 379.6 434.3 375.6 440.8 371.2 C447.3 366.8 459.0 358.5 462.6 356.0" stroke-width="1.35"/>
<path d="M397.3 356.0 C398.0 359.6 400.1 370.6 401.6 377.8 C403.0 385.1 404.2 392.2 406.0 399.5 C407.8 406.8 410.3 414.0 412.5 421.3 C414.7 428.5 417.9 439.4 419.0 443.0" stroke-width="1.35"/>
<path d="M369.0 421.3 C372.6 420.6 383.5 416.9 390.8 416.9 C398.0 416.9 405.2 419.5 412.5 421.3 C419.8 423.1 430.7 426.7 434.3 427.8" stroke-width="1.35"/>
<path d="M369.0 443.0 C372.6 441.9 382.5 436.5 390.8 436.5 C399.1 436.5 409.9 440.1 419.0 443.0 C428.1 445.9 440.8 452.1 445.2 453.9" stroke-width="1.35"/>
<path d="M369.0 477.8 C374.4 477.1 390.7 473.5 401.6 473.5 C412.5 473.5 424.1 475.6 434.3 477.8 C444.5 480.0 457.9 485.1 462.6 486.5" stroke-width="1.35"/>
<path d="M369.0 495.3 C374.4 494.6 390.7 490.2 401.6 490.9 C412.5 491.6 423.4 496.7 434.3 499.6 C445.2 502.5 461.5 506.8 466.9 508.3" stroke-width="1.35"/>
<path d="M369.0 517.0 C376.2 516.3 398.0 512.0 412.5 512.7 C427.0 513.4 441.5 517.9 456.0 521.4 C470.5 524.9 492.2 531.9 499.5 534.0" stroke-width="1.35"/>
<path d="M412.5 534.0 C413.2 529.7 414.7 516.2 416.9 508.3 C419.1 500.4 422.7 494.5 425.6 486.5 C428.5 478.5 432.8 464.8 434.3 460.4" stroke-width="1.35"/>
<path d="M390.8 534.0 C391.5 529.7 393.3 516.2 395.1 508.3 C396.9 500.4 398.7 493.8 401.6 486.5 C404.5 479.2 410.7 468.4 412.5 464.8" stroke-width="1.35"/>
<path d="M490.8 464.8 C491.5 468.4 493.0 479.2 495.2 486.5 C497.4 493.8 501.7 500.4 503.9 508.3 C506.1 516.2 507.6 529.7 508.3 534.0" stroke-width="1.35"/>
<path d="M486.5 356.0 C486.9 359.6 488.7 370.6 488.7 377.8 C488.7 385.1 486.5 392.2 486.5 399.5 C486.5 406.8 488.3 417.7 488.7 421.3" stroke-width="1.35"/>
<path d="M499.5 356.0 C500.2 358.9 502.4 367.6 503.9 373.4 C505.4 379.2 507.6 387.9 508.3 390.8" stroke-width="1.35"/>
<path d="M521.3 356.0 C521.7 359.6 522.8 370.6 523.5 377.8 C524.2 385.1 525.0 392.2 525.7 399.5 C526.4 406.8 527.4 417.7 527.8 421.3" stroke-width="1.35"/>
<path d="M573.5 356.0 C573.1 359.6 571.3 370.6 571.3 377.8 C571.3 385.1 572.4 392.2 573.5 399.5 C574.6 406.8 577.2 414.0 577.9 421.3 C578.6 428.5 577.9 439.4 577.9 443.0" stroke-width="1.35"/>
<path d="M532.2 399.5 C535.8 399.1 544.8 398.0 553.9 397.3 C563.0 396.6 575.7 394.8 586.6 395.2 C597.5 395.6 613.8 398.8 619.2 399.5" stroke-width="1.35"/>
<path d="M586.6 421.3 C590.2 420.9 601.0 419.8 608.3 419.1 C615.5 418.4 622.8 417.6 630.1 416.9 C637.4 416.2 642.5 416.2 651.9 414.7 C661.3 413.3 680.9 409.3 686.7 408.2" stroke-width="1.35"/>
<path d="M595.3 460.4 C593.8 463.3 588.8 472.0 586.6 477.8 C584.4 483.6 582.2 485.9 582.2 495.3 C582.2 504.7 585.9 527.5 586.6 534.0" stroke-width="1.35"/>
<path d="M521.3 477.8 C524.9 477.8 535.8 477.1 543.1 477.8 C550.3 478.5 557.5 482.2 564.8 482.2 C572.0 482.2 583.0 478.5 586.6 477.8" stroke-width="1.35"/>
<path d="M510.4 495.3 C515.9 495.3 531.1 495.3 543.1 495.3 C555.1 495.3 575.7 495.3 582.2 495.3" stroke-width="1.35"/>
<path d="M499.5 512.7 C506.8 512.0 528.6 509.4 543.1 508.3 C557.6 507.2 575.7 506.1 586.6 506.1 C597.5 506.1 604.7 507.9 608.3 508.3" stroke-width="1.35"/>
<path d="M608.3 486.5 C611.9 485.1 622.8 480.0 630.1 477.8 C637.4 475.6 645.4 473.5 651.9 473.5 C658.4 473.5 666.4 477.1 669.3 477.8" stroke-width="1.35"/>
<path d="M608.3 508.3 C611.9 509.0 622.8 511.3 630.1 512.7 C637.4 514.2 648.3 516.3 651.9 517.0" stroke-width="1.35"/>
<path d="M669.3 377.8 C669.3 381.4 670.0 392.2 669.3 399.5 C668.6 406.8 666.7 414.0 664.9 421.3 C663.1 428.5 659.9 435.8 658.4 443.0 C657.0 450.2 657.3 457.5 656.2 464.8 C655.1 472.0 652.6 482.9 651.9 486.5" stroke-width="1.35"/>
<path d="M695.4 410.4 C699.0 410.0 710.0 408.9 717.1 408.2 C724.2 407.5 734.5 406.4 738.0 406.0" stroke-width="1.35"/>
<path d="M686.7 443.0 C690.3 442.3 699.9 440.2 708.4 438.7 C717.0 437.3 733.1 435.0 738.0 434.3" stroke-width="1.35"/>
<path d="M673.6 471.3 C677.2 470.9 688.2 470.2 695.4 469.1 C702.7 468.0 710.0 466.2 717.1 464.8 C724.2 463.3 734.5 461.1 738.0 460.4" stroke-width="1.35"/>
<path d="M664.9 495.3 C670.0 496.0 686.7 499.6 695.4 499.6 C704.1 499.6 710.0 496.7 717.1 495.3 C724.2 493.8 734.5 491.6 738.0 490.9" stroke-width="1.35"/>
<path d="M708.4 384.3 C707.7 388.6 704.1 402.4 704.1 410.4 C704.1 418.4 706.2 425.0 708.4 432.2 C710.6 439.5 714.2 446.6 717.1 453.9 C720.0 461.1 722.9 468.5 725.8 475.7 C728.7 483.0 733.0 493.8 734.5 497.4" stroke-width="1.35"/>
<path d="M658.4 512.7 C662.8 513.8 674.7 518.9 684.5 519.2 C694.3 519.6 708.2 516.6 717.1 514.8 C726.0 513.0 734.5 509.4 738.0 508.3" stroke-width="1.35"/>
<path d="M599.6 356.0 C600.3 359.6 602.5 370.6 604.0 377.8 C605.5 385.1 607.6 395.9 608.3 399.5" stroke-width="1.35"/>
<path d="M543.1 356.0 C543.8 358.2 545.2 364.8 547.4 369.1 C549.6 373.5 551.7 378.5 556.1 382.1 C560.4 385.7 570.6 389.4 573.5 390.8" stroke-width="1.35"/>
<path d="M738.0 364.7 C740.2 366.5 746.4 374.2 751.1 375.6 C755.8 377.1 761.2 375.9 766.3 373.4 C771.4 370.9 777.9 363.3 781.5 360.4 C785.1 357.5 786.9 356.7 788.0 356.0" stroke-width="1.35"/>
<path d="M890.3 399.5 C892.8 401.7 900.1 410.1 905.5 412.6 C910.9 415.1 916.4 415.8 922.9 414.7 C929.4 413.6 937.4 411.1 944.7 406.0 C952.0 400.9 961.1 387.9 966.5 384.3 C971.9 380.7 973.7 381.8 977.3 384.3 C980.9 386.8 984.6 393.7 988.2 399.5 C991.8 405.3 996.2 411.9 999.1 419.1 C1002.0 426.4 1003.8 434.7 1005.6 443.0 C1007.4 451.3 1010.4 463.3 1010.0 469.1 C1009.6 474.9 1006.0 474.9 1003.4 477.8 C1000.9 480.7 996.2 485.1 994.7 486.5" stroke-width="1.35"/>
<path d="M903.4 430.0 C907.0 432.2 919.7 438.3 925.1 443.0 C930.5 447.7 932.4 451.0 936.0 458.3 C939.6 465.5 944.0 480.3 946.9 486.5 C949.8 492.7 949.1 492.4 953.4 495.3 C957.8 498.2 966.8 501.1 973.0 504.0 C979.2 506.9 986.8 507.7 990.4 512.7 C994.0 517.7 994.0 530.5 994.7 534.0" stroke-width="1.35"/>
<path d="M936.0 458.3 C939.3 457.7 948.7 454.3 955.6 455.0 C962.5 455.7 969.0 459.2 977.3 462.6 C985.6 466.1 1000.9 473.5 1005.6 475.7" stroke-width="1.35"/>
<path d="M953.4 495.3 C951.6 498.2 945.4 506.3 942.5 512.7 C939.6 519.2 937.1 530.5 936.0 534.0" stroke-width="1.35"/>
<path d="M990.4 512.7 C994.0 508.7 1004.2 493.1 1012.2 488.7 C1020.2 484.3 1029.6 485.4 1038.3 486.5 C1047.0 487.6 1056.4 493.5 1064.4 495.3 C1072.4 497.1 1082.5 497.0 1086.1 497.4" stroke-width="1.35"/>
<path d="M955.6 356.0 C956.7 358.9 959.9 369.0 962.1 373.4 C964.3 377.8 964.2 377.8 968.6 382.1 C972.9 386.5 984.9 396.6 988.2 399.5" stroke-width="1.35"/>
<path d="M1042.6 369.1 C1048.0 370.6 1064.5 374.6 1075.2 377.8 C1085.9 381.1 1101.7 386.8 1107.0 388.6" stroke-width="1.35"/>
<path d="M999.1 356.0 C1002.7 357.4 1013.7 362.5 1020.9 364.7 C1028.2 366.9 1039.0 368.4 1042.6 369.1" stroke-width="1.35"/>
<path d="M738.0 399.5 C740.2 399.9 745.7 399.9 751.1 401.7 C756.5 403.5 767.3 408.9 770.6 410.4" stroke-width="1.35"/>
<path d="M825.0 356.0 C826.8 358.2 831.6 365.5 835.9 369.1 C840.3 372.7 847.1 373.5 851.1 377.8 C855.1 382.1 858.3 392.3 859.8 395.2" stroke-width="1.35"/>
<path d="M738.0 512.7 C740.2 514.2 747.8 517.9 751.1 521.4 C754.4 524.9 756.5 531.9 757.6 534.0" stroke-width="1.35"/>
<path d="M1086.1 497.4 C1087.5 495.6 1091.3 489.8 1094.8 486.5 C1098.3 483.2 1105.0 479.2 1107.0 477.8" stroke-width="1.35"/>
<path d="M0.0 577.5 C2.9 578.2 13.8 579.7 17.4 581.9 C21.0 584.1 22.5 586.2 21.8 590.6 C21.1 595.0 16.7 601.8 13.1 608.0 C9.5 614.2 2.2 624.3 0.0 627.6" stroke-width="1.35"/>
<path d="M43.5 571.0 C47.1 571.4 58.8 572.5 65.3 573.2 C71.8 573.9 77.3 575.7 82.7 575.3 C88.1 574.9 92.8 573.2 97.9 571.0 C103.0 568.8 110.6 563.8 113.1 562.3" stroke-width="1.35"/>
<path d="M187.1 588.4 C187.5 593.8 189.3 611.2 189.3 621.0 C189.3 630.8 187.1 638.4 187.1 647.1 C187.1 655.8 188.6 666.0 189.3 673.3 C190.0 680.6 190.4 684.2 191.5 690.7 C192.6 697.2 195.1 708.5 195.8 712.0" stroke-width="1.35"/>
<path d="M217.6 573.2 C219.8 575.7 227.0 584.0 230.6 588.4 C234.2 592.8 236.4 595.7 239.3 599.3 C242.2 602.9 248.3 605.9 248.0 610.2 C247.7 614.6 240.5 620.7 237.2 625.4 C234.0 630.1 230.0 636.2 228.5 638.4" stroke-width="1.35"/>
<path d="M195.8 547.1 C196.9 549.6 200.1 557.2 202.3 562.3 C204.5 567.4 207.8 575.0 208.9 577.5" stroke-width="1.35"/>
<path d="M269.8 557.9 C270.2 561.2 272.7 570.6 272.0 577.5 C271.3 584.4 269.0 593.8 265.4 599.3 C261.8 604.8 252.7 608.4 250.2 610.2" stroke-width="1.35"/>
<path d="M356.8 555.8 C356.8 559.4 356.4 570.2 356.8 577.5 C357.2 584.8 359.0 592.0 359.0 599.3 C359.0 606.5 356.4 613.8 356.8 621.0 C357.2 628.2 360.5 639.2 361.2 642.8" stroke-width="1.35"/>
<path d="M21.8 610.2 C22.5 613.8 23.9 624.6 26.1 631.9 C28.3 639.1 31.9 646.5 34.8 653.7 C37.7 661.0 40.2 668.5 43.5 675.4 C46.8 682.3 51.5 688.9 54.4 695.0 C57.3 701.1 59.8 709.2 60.9 712.0" stroke-width="1.35"/>
<path d="M0.0 664.5 C3.6 666.0 14.5 668.9 21.8 673.3 C29.0 677.7 39.9 687.8 43.5 690.7" stroke-width="1.35"/>
<path d="M139.3 560.1 C138.9 563.0 137.1 571.0 137.1 577.5 C137.1 584.0 136.8 592.8 139.3 599.3 C141.8 605.8 146.5 611.6 152.3 616.7 C158.1 621.8 168.7 624.6 174.1 629.7 C179.5 634.8 183.1 644.2 184.9 647.1" stroke-width="1.35"/>
<path d="M217.6 655.8 C219.4 658.7 224.9 667.5 228.5 673.3 C232.1 679.1 235.7 684.2 239.3 690.7 C242.9 697.2 248.4 708.5 250.2 712.0" stroke-width="1.35"/>
<path d="M211.1 655.8 C210.7 659.1 207.8 668.9 208.9 675.4 C210.0 681.9 214.3 688.9 217.6 695.0 C220.9 701.1 226.7 709.2 228.5 712.0" stroke-width="1.35"/>
<path d="M272.0 625.4 C273.8 628.3 279.3 636.3 282.9 642.8 C286.5 649.3 290.1 657.2 293.7 664.5 C297.3 671.8 302.8 682.7 304.6 686.3" stroke-width="1.35"/>
<path d="M326.4 631.9 C330.0 630.8 341.0 627.2 348.1 625.4 C355.2 623.6 365.5 621.7 369.0 621.0" stroke-width="1.35"/>
<path d="M326.4 588.4 C330.0 587.7 341.0 585.1 348.1 584.0 C355.2 582.9 365.5 582.2 369.0 581.9" stroke-width="1.35"/>
<path d="M269.8 577.5 C273.8 576.8 286.1 574.7 293.7 573.2 C301.3 571.8 311.9 569.5 315.5 568.8" stroke-width="1.35"/>
<path d="M217.6 540.5 C218.0 543.0 218.7 550.7 219.8 555.8 C220.9 560.9 223.4 568.5 224.1 571.0" stroke-width="1.35"/>
<path d="M243.7 534.0 C244.1 536.2 245.2 543.1 245.9 547.1 C246.6 551.1 247.7 556.1 248.0 557.9" stroke-width="1.35"/>
<path d="M365.5 534.0 L361.2 555.8" stroke-width="1.35"/>
<path d="M65.3 712.0 C67.1 707.7 72.6 693.5 76.2 686.3 C79.8 679.1 83.0 674.0 87.0 668.9 C91.0 663.8 97.9 658.0 100.1 655.8" stroke-width="1.35"/>
<path d="M403.8 562.3 C403.8 568.5 404.2 585.9 403.8 599.3 C403.4 612.7 402.3 624.0 401.6 642.8 C400.9 661.6 399.8 700.5 399.5 712.0" stroke-width="1.35"/>
<path d="M445.2 555.8 C445.6 561.2 446.2 577.5 447.3 588.4 C448.4 599.3 449.5 612.7 451.7 621.0 C453.9 629.3 456.1 632.6 460.4 638.4 C464.8 644.2 471.3 650.7 477.8 655.8 C484.3 660.9 492.2 665.3 499.5 668.9 C506.8 672.5 517.7 676.1 521.3 677.6" stroke-width="1.35"/>
<path d="M490.8 610.2 C492.2 609.8 494.4 605.5 499.5 608.0 C504.6 610.5 515.8 620.3 521.3 625.4 C526.8 630.5 532.2 635.5 532.2 638.4 C532.2 641.3 526.0 643.5 521.3 642.8 C516.6 642.1 509.0 637.0 503.9 634.1 C498.8 631.2 493.0 629.4 490.8 625.4 C488.6 621.4 490.8 612.7 490.8 610.2" stroke-width="1.35"/>
<path d="M482.1 649.3 L521.3 625.4" stroke-width="1.35"/>
<path d="M369.0 625.4 C374.4 624.7 390.7 622.5 401.6 621.0 C412.5 619.5 425.2 618.2 434.3 616.7 C443.4 615.2 446.6 613.4 456.0 612.3 C465.4 611.2 485.0 610.6 490.8 610.2" stroke-width="1.35"/>
<path d="M369.0 655.8 C376.2 655.1 398.0 653.0 412.5 651.5 C427.0 650.0 444.4 647.5 456.0 647.1 C467.6 646.7 477.7 648.9 482.1 649.3" stroke-width="1.35"/>
<path d="M369.0 686.3 C374.4 685.9 390.7 684.1 401.6 684.1 C412.5 684.1 425.2 683.8 434.3 686.3 C443.4 688.8 450.6 695.1 456.0 699.4 C461.4 703.7 465.1 709.9 466.9 712.0" stroke-width="1.35"/>
<path d="M423.4 712.0 C424.1 705.9 425.9 684.8 427.7 675.4 C429.5 666.0 432.1 662.0 434.3 655.8 C436.5 649.6 439.7 641.3 440.8 638.4" stroke-width="1.35"/>
<path d="M564.8 599.3 C566.6 597.5 572.1 592.0 575.7 588.4 C579.3 584.8 583.0 581.1 586.6 577.5 C590.2 573.9 593.9 570.2 597.5 566.6 C601.1 563.0 604.7 558.3 608.3 555.8 C611.9 553.3 613.8 552.1 619.2 551.4 C624.7 550.7 634.5 551.4 641.0 551.4 C647.5 551.4 655.5 551.4 658.4 551.4" stroke-width="1.35"/>
<path d="M658.4 551.4 C662.8 552.1 676.5 553.3 684.5 555.8 C692.5 558.3 699.0 564.8 706.2 566.6 C713.5 568.4 722.7 567.0 728.0 566.6 C733.3 566.2 736.3 564.9 738.0 564.5" stroke-width="1.35"/>
<path d="M619.2 577.5 C624.7 576.8 641.0 575.0 651.9 573.2 C662.8 571.4 673.6 568.8 684.5 566.6 C695.4 564.4 711.7 561.2 717.1 560.1" stroke-width="1.35"/>
<path d="M641.0 610.2 C646.4 609.5 662.7 607.6 673.6 605.8 C684.5 604.0 695.5 601.1 706.2 599.3 C716.9 597.5 732.7 595.6 738.0 594.9" stroke-width="1.35"/>
<path d="M673.6 605.8 C673.2 609.1 672.1 619.2 671.4 625.4 C670.7 631.6 669.6 639.9 669.3 642.8" stroke-width="1.35"/>
<path d="M695.4 566.6 C696.1 572.0 697.5 588.4 699.7 599.3 C701.9 610.2 705.5 622.5 708.4 631.9 C711.3 641.3 715.6 651.8 717.1 655.8" stroke-width="1.35"/>
<path d="M586.6 647.1 C585.9 650.7 584.0 662.4 582.2 668.9 C580.4 675.4 578.6 679.1 575.7 686.3 C572.8 693.5 566.6 707.7 564.8 712.0" stroke-width="1.35"/>
<path d="M630.1 645.0 C630.8 648.2 635.1 657.6 634.4 664.5 C633.7 671.4 628.2 678.4 625.7 686.3 C623.2 694.2 620.3 707.7 619.2 712.0" stroke-width="1.35"/>
<path d="M586.6 675.4 C590.2 677.2 601.0 682.3 608.3 686.3 C615.5 690.3 623.6 695.1 630.1 699.4 C636.6 703.7 644.6 709.9 647.5 712.0" stroke-width="1.35"/>
<path d="M560.5 664.5 C563.0 666.3 571.4 673.6 575.7 675.4 C580.1 677.2 584.8 675.4 586.6 675.4" stroke-width="1.35"/>
<path d="M499.5 534.0 C501.3 536.2 506.8 542.4 510.4 547.1 C514.0 551.8 515.9 556.1 521.3 562.3 C526.7 568.4 535.8 577.8 543.1 584.0 C550.3 590.2 561.2 596.8 564.8 599.3" stroke-width="1.35"/>
<path d="M564.8 534.0 C564.1 537.6 560.5 549.3 560.5 555.8 C560.5 562.3 562.3 567.8 564.8 573.2 C567.3 578.6 573.9 585.9 575.7 588.4" stroke-width="1.35"/>
<path d="M586.6 534.0 C588.4 536.2 592.1 544.2 597.5 547.1 C602.9 550.0 615.6 550.7 619.2 551.4" stroke-width="1.35"/>
<path d="M695.4 534.0 C694.7 536.9 691.0 546.0 691.0 551.4 C691.0 556.8 694.7 564.1 695.4 566.6" stroke-width="1.35"/>
<path d="M717.1 534.0 C717.8 536.2 719.7 541.7 721.5 547.1 C723.3 552.5 726.9 563.4 728.0 566.6" stroke-width="1.35"/>
<path d="M673.6 686.3 C677.2 688.5 689.6 695.1 695.4 699.4 C701.2 703.7 706.2 709.9 708.4 712.0" stroke-width="1.35"/>
<path d="M630.1 675.4 C633.7 675.0 644.7 674.4 651.9 673.3 C659.2 672.2 670.0 669.6 673.6 668.9" stroke-width="1.35"/>
<path d="M499.5 712.0 C500.2 709.2 500.3 699.3 503.9 695.0 C507.5 690.7 518.4 687.8 521.3 686.3" stroke-width="1.35"/>
<path d="M738.0 599.3 C741.6 599.6 750.7 601.2 759.8 601.4 C768.9 601.6 781.5 601.8 792.4 600.4 C803.3 599.0 815.9 594.7 825.0 592.7 C834.1 590.7 840.3 589.5 846.8 588.4 C853.3 587.3 861.3 586.6 864.2 586.2" stroke-width="1.35"/>
<path d="M738.0 577.5 C741.6 575.7 752.5 570.2 759.8 566.6 C767.0 563.0 774.2 559.4 781.5 555.8 C788.8 552.2 797.5 548.5 803.3 544.9 C809.1 541.3 814.1 535.8 816.3 534.0" stroke-width="1.35"/>
<path d="M866.4 540.5 C870.4 540.9 882.7 542.0 890.3 542.7 C897.9 543.4 907.4 543.5 912.1 544.9 C916.8 546.3 917.5 547.8 918.6 551.4 C919.7 555.0 919.7 561.9 918.6 566.6 C917.5 571.3 913.5 574.2 912.1 579.7 C910.6 585.2 911.0 592.4 909.9 599.3 C908.8 606.2 906.6 613.8 905.5 621.0 C904.4 628.2 904.5 635.5 903.4 642.8 C902.3 650.0 899.4 658.7 899.0 664.5 C898.6 670.3 900.8 675.4 901.2 677.6" stroke-width="1.35"/>
<path d="M999.1 551.4 C1000.9 551.8 1007.5 551.1 1010.0 553.6 C1012.5 556.1 1008.1 562.6 1014.3 566.6 C1020.5 570.6 1040.8 574.6 1047.0 577.5 C1053.2 580.4 1052.8 580.0 1051.3 584.0 C1049.8 588.0 1040.5 598.5 1038.3 601.4" stroke-width="1.35"/>
<path d="M853.3 562.3 C852.2 564.8 847.9 573.1 846.8 577.5 C845.7 581.9 847.5 584.0 846.8 588.4 C846.1 592.8 844.2 598.9 842.4 603.6 C840.6 608.3 838.8 610.9 835.9 616.7 C833.0 622.5 829.4 631.9 825.0 638.4 C820.6 644.9 815.2 650.7 809.8 655.8 C804.4 660.9 797.1 665.3 792.4 668.9 C787.7 672.5 783.3 676.1 781.5 677.6" stroke-width="1.35"/>
<path d="M868.5 597.1 C870.3 598.2 875.0 601.1 879.4 603.6 C883.8 606.1 890.4 609.4 894.7 612.3 C899.1 615.2 903.7 619.5 905.5 621.0" stroke-width="1.35"/>
<path d="M755.4 605.8 C756.1 610.1 758.4 622.1 759.8 631.9 C761.2 641.7 763.0 656.9 764.1 664.5 C765.2 672.1 765.9 675.4 766.3 677.6" stroke-width="1.35"/>
<path d="M1060.0 631.9 C1060.7 630.1 1061.5 623.5 1064.4 621.0 C1067.3 618.5 1070.3 618.5 1077.4 616.7 C1084.5 614.9 1102.1 611.3 1107.0 610.2" stroke-width="1.35"/>
<path d="M738.0 581.9 C739.8 583.4 745.3 587.7 748.9 590.6 C752.5 593.5 758.0 597.8 759.8 599.3" stroke-width="1.35"/>
<path d="M738.0 534.0 C739.8 535.1 745.3 539.8 748.9 540.5 C752.5 541.2 756.2 539.5 759.8 538.4 C763.4 537.3 768.8 534.7 770.6 534.0" stroke-width="1.35"/>
<path d="M881.6 655.8 C883.0 658.0 887.0 665.3 890.3 668.9 C893.6 672.5 899.4 676.1 901.2 677.6" stroke-width="1.35"/>
<path d="M1064.4 642.8 C1066.6 646.4 1073.8 658.6 1077.4 664.5 C1081.0 670.4 1084.6 675.8 1086.1 678.0" stroke-width="1.35"/>
<path d="M933.8 534.0 C932.3 536.2 927.6 544.2 925.1 547.1 C922.6 550.0 919.7 550.7 918.6 551.4" stroke-width="1.35"/>
<path d="M1077.4 605.8 C1080.3 605.8 1089.9 606.2 1094.8 605.8 C1099.7 605.4 1105.0 604.0 1107.0 603.6" stroke-width="1.35"/>
<path d="M43.5 0.0 C51.5 1.5 78.3 5.6 91.4 8.7 C104.4 11.8 114.9 15.6 121.8 18.5 C128.7 21.4 127.6 23.4 132.7 26.1 C137.8 28.8 145.4 32.3 152.3 34.8 C159.2 37.3 170.5 40.2 174.1 41.3" stroke-width="1.9"/>
<path d="M0.0 51.1 C7.2 54.5 29.7 64.4 43.5 71.8 C57.3 79.2 73.6 89.2 82.7 95.7 C91.8 102.2 93.7 107.4 97.9 111.0 C102.1 114.6 106.1 116.4 107.7 117.5" stroke-width="1.9"/>
<path d="M107.7 117.5 C110.1 119.7 116.2 125.4 121.8 130.5 C127.4 135.6 134.1 142.6 141.4 148.0 C148.7 153.4 157.8 158.2 165.4 163.2 C173.0 168.2 183.5 175.5 187.1 178.0" stroke-width="1.9"/>
<path d="M107.7 117.5 C105.7 119.7 99.5 125.4 95.7 130.5 C91.9 135.6 87.8 142.2 84.9 148.0 C82.0 153.8 80.1 160.4 78.3 165.4 C76.5 170.4 74.7 175.9 74.0 178.0" stroke-width="1.9"/>
<path d="M107.7 117.5 C108.6 115.0 110.8 107.0 113.1 102.3 C115.5 97.6 117.1 93.5 121.8 89.2 C126.5 84.8 134.5 80.5 141.4 76.2 C148.3 71.8 157.0 67.8 163.2 63.1 C169.4 58.4 174.9 52.3 178.4 47.9 C181.8 43.6 182.1 40.3 183.9 37.0 C185.7 33.7 187.8 31.6 189.3 28.3 C190.7 25.0 191.5 22.1 192.6 17.4 C193.7 12.7 195.3 2.9 195.8 0.0" stroke-width="1.9"/>
<path d="M148.0 0.0 C150.9 1.8 160.0 7.3 165.4 10.9 C170.8 14.5 177.0 18.2 180.6 21.8 C184.2 25.4 184.6 27.2 187.1 32.6 C189.6 38.0 192.5 47.5 195.8 54.4 C199.1 61.3 203.1 67.8 206.7 74.0 C210.3 80.2 213.6 86.3 217.6 91.4 C221.6 96.5 225.2 100.4 230.6 104.4 C236.0 108.4 245.5 111.3 250.2 115.3 C254.9 119.3 253.5 124.1 258.9 128.4 C264.4 132.8 275.3 136.7 282.9 141.4 C290.5 146.1 298.4 150.6 304.6 156.7 C310.7 162.8 317.3 174.4 319.8 178.0" stroke-width="1.9"/>
<path d="M248.0 0.0 C246.2 0.7 242.3 1.5 237.2 4.4 C232.1 7.3 222.7 12.7 217.6 17.4 C212.5 22.1 208.5 30.1 206.7 32.6" stroke-width="1.9"/>
<path d="M275.2 111.0 C280.1 112.8 294.3 118.6 304.6 121.8 C314.9 125.1 326.5 128.1 337.2 130.5 C347.9 132.9 363.7 135.1 369.0 136.0" stroke-width="1.9"/>
<path d="M275.2 111.0 C273.9 112.8 269.9 118.6 267.6 121.8 C265.2 125.1 263.3 127.6 261.1 130.5 C258.9 133.4 258.2 136.4 254.6 139.3 C251.0 142.2 245.5 143.7 239.3 148.0 C233.1 152.3 223.0 160.4 217.6 165.4 C212.2 170.4 208.5 175.9 206.7 178.0" stroke-width="1.9"/>
<path d="M369.0 137.1 C373.7 135.1 382.8 132.3 397.3 125.1 C411.8 117.8 439.0 102.5 456.0 93.6 C473.0 84.7 489.3 77.3 499.5 71.8 C509.7 66.4 511.2 63.4 517.0 60.9 C522.8 58.4 529.0 57.3 534.4 56.6 C539.8 55.9 547.1 56.6 549.6 56.6" stroke-width="1.9"/>
<path d="M567.0 0.0 C566.5 3.6 564.4 16.0 563.7 21.8 C563.0 27.6 563.9 30.5 562.6 34.8 C561.3 39.2 559.3 42.8 556.1 47.9 C552.8 53.0 548.2 58.1 543.1 65.3 C538.0 72.6 531.1 83.4 525.7 91.4 C520.3 99.4 515.1 105.8 510.4 113.1 C505.7 120.3 501.0 127.6 497.4 134.9 C493.8 142.2 490.5 149.5 488.7 156.7 C486.9 163.9 486.9 174.4 486.5 178.0" stroke-width="1.9"/>
<path d="M571.3 0.0 C573.8 2.2 582.2 9.5 586.6 13.1 C591.0 16.7 592.4 18.2 597.5 21.8 C602.6 25.4 611.6 29.7 617.0 34.8 C622.4 39.9 625.7 46.0 630.1 52.2 C634.5 58.4 639.6 65.3 643.2 71.8 C646.8 78.3 650.1 84.5 651.9 91.4 C653.7 98.3 654.7 106.6 654.0 113.1 C653.3 119.6 650.4 124.7 647.5 130.5 C644.6 136.3 638.4 145.1 636.6 148.0" stroke-width="1.9"/>
<path d="M486.5 171.9 C495.9 172.3 528.6 174.8 543.1 174.1 C557.6 173.4 568.4 168.6 573.5 167.5" stroke-width="1.9"/>
<path d="M738.0 87.0 C744.5 84.5 765.6 75.4 777.2 71.8 C788.8 68.2 798.9 67.1 807.6 65.3 C816.3 63.5 822.9 63.1 829.4 60.9 C835.9 58.7 841.0 54.2 846.8 52.2 C852.6 50.2 859.1 50.4 864.2 49.0 C869.3 47.6 873.7 45.5 877.3 43.5 C880.9 41.5 880.2 37.0 886.0 37.0 C891.8 37.0 903.4 41.5 912.1 43.5 C920.8 45.5 931.3 46.8 938.2 49.0 C945.1 51.2 949.4 53.5 953.4 56.6 C957.4 59.7 958.8 62.3 962.1 67.4 C965.4 72.5 969.0 80.8 973.0 87.0 C977.0 93.2 982.7 100.1 986.0 104.4 C989.3 108.8 990.4 109.5 992.6 113.1 C994.8 116.7 997.3 119.7 999.1 126.2 C1000.9 132.7 1002.0 143.7 1003.4 152.3 C1004.9 160.9 1007.1 173.7 1007.8 178.0" stroke-width="1.9"/>
<path d="M962.1 67.4 C964.6 66.3 970.0 64.9 977.3 60.9 C984.5 56.9 997.6 47.9 1005.6 43.5 C1013.6 39.1 1014.7 38.4 1025.2 34.8 C1035.7 31.2 1055.1 25.8 1068.7 21.8 C1082.3 17.8 1100.6 12.7 1107.0 10.9" stroke-width="1.9"/>
<path d="M962.1 67.4 C960.3 70.0 956.6 78.0 951.2 82.7 C945.8 87.4 937.5 90.6 929.5 95.7 C921.5 100.8 912.8 107.6 903.4 113.1 C894.0 118.5 883.1 124.8 872.9 128.4 C862.7 132.0 851.8 133.1 842.4 134.9 C833.0 136.7 822.8 137.1 816.3 139.3 C809.8 141.5 805.5 146.6 803.3 148.0" stroke-width="1.9"/>
<path d="M803.3 150.1 C809.8 148.7 830.1 143.9 842.4 141.4 C854.7 138.9 867.1 135.2 877.3 134.9 C887.5 134.6 894.0 140.0 903.4 139.3 C912.8 138.6 925.1 133.4 933.8 130.5 C942.5 127.6 948.3 126.5 955.6 121.8 C962.8 117.1 973.7 105.6 977.3 102.3" stroke-width="1.9"/>
<path d="M95.7 273.7 C98.6 271.5 105.1 266.5 113.1 260.7 C121.1 254.9 133.4 246.7 143.6 238.9 C153.8 231.1 167.9 219.7 174.1 213.9 C180.3 208.1 177.7 207.9 180.6 204.1 C183.5 200.3 186.8 195.5 191.5 191.1 C196.2 186.8 206.0 180.2 208.9 178.0" stroke-width="1.9"/>
<path d="M547.4 292.2 C547.8 287.7 547.8 273.1 549.6 265.0 C551.4 256.9 554.7 250.6 558.3 243.3 C561.9 236.1 566.6 228.0 571.3 221.5 C576.0 215.0 580.4 209.9 586.6 204.1 C592.8 198.3 602.9 191.0 608.3 186.7 C613.7 182.3 617.4 179.4 619.2 178.0" stroke-width="1.9"/>
<path d="M755.4 225.9 C759.8 228.1 773.5 234.5 781.5 238.9 C789.5 243.2 796.8 248.0 803.3 252.0 C809.8 256.0 815.3 260.4 820.7 262.9 C826.1 265.4 833.4 266.5 835.9 267.2" stroke-width="1.9"/>
<path d="M933.8 178.0 C937.4 181.3 950.1 192.2 955.6 197.6 C961.0 203.0 964.3 203.0 966.5 210.6 C968.7 218.2 969.0 235.0 968.6 243.3 C968.2 251.7 965.7 254.2 964.3 260.7 C962.9 267.2 961.7 275.1 959.9 282.4 C958.1 289.6 955.9 298.4 953.4 304.2 C950.9 310.0 948.7 312.9 944.7 317.3 C940.7 321.7 934.2 326.0 929.5 330.3 C924.8 334.6 919.3 339.1 916.4 343.4 C913.5 347.7 912.8 353.9 912.1 356.0" stroke-width="1.9"/>
<path d="M100.1 406.0 C105.9 405.6 123.3 405.3 134.9 403.9 C146.5 402.4 159.6 398.9 169.7 397.3 C179.9 395.7 187.8 394.5 195.8 394.1 C203.8 393.8 210.4 394.3 217.6 395.2 C224.9 396.1 228.4 397.7 239.3 399.5 C250.2 401.3 270.2 404.9 282.9 406.0 C295.6 407.1 310.1 406.0 315.5 406.0" stroke-width="1.9"/>
<path d="M0.0 471.3 C3.6 473.1 14.5 478.2 21.8 482.2 C29.0 486.2 38.1 490.2 43.5 495.3 C48.9 500.4 50.8 507.6 54.4 512.7 C58.0 517.8 59.9 522.2 65.3 525.7 C70.7 529.2 83.4 532.6 87.0 534.0" stroke-width="1.9"/>
<path d="M630.1 356.0 C629.7 358.2 629.7 364.4 627.9 369.1 C626.1 373.8 621.4 377.4 619.2 384.3 C617.0 391.2 616.0 401.3 614.9 410.4 C613.8 419.5 613.8 429.6 612.7 438.7 C611.6 447.8 609.4 456.8 608.3 464.8 C607.2 472.8 606.2 479.2 606.2 486.5 C606.2 493.8 608.3 500.4 608.3 508.3 C608.3 516.2 606.6 529.7 606.2 534.0" stroke-width="1.9"/>
<path d="M369.0 460.4 C373.3 460.0 386.0 460.1 395.1 458.3 C404.2 456.5 414.0 452.2 423.4 449.6 C432.8 447.1 441.9 443.4 451.7 443.0 C461.5 442.6 470.5 446.7 482.1 447.4 C493.7 448.1 507.5 447.8 521.3 447.4 C535.1 447.0 550.3 445.2 564.8 445.2 C579.3 445.2 593.8 447.8 608.3 447.4 C622.8 447.0 641.0 444.4 651.9 443.0 C662.8 441.6 670.0 439.4 673.6 438.7" stroke-width="1.9"/>
<path d="M864.2 395.2 C862.0 398.1 854.4 406.8 851.1 412.6 C847.8 418.4 846.0 424.9 844.6 430.0 C843.1 435.1 842.0 438.3 842.4 443.0 C842.8 447.7 844.6 453.2 846.8 458.3 C849.0 463.4 855.5 470.2 855.5 473.5 C855.5 476.8 849.7 475.3 846.8 477.8 C843.9 480.3 840.6 484.3 838.1 488.7 C835.6 493.1 833.8 498.6 831.6 504.0 C829.4 509.4 826.8 516.4 825.0 521.4 C823.2 526.4 821.4 531.9 820.7 534.0" stroke-width="1.9"/>
<path d="M0.0 623.2 C4.4 620.3 18.9 609.1 26.1 605.8 C33.4 602.5 37.0 604.7 43.5 603.6 C50.0 602.5 58.0 601.1 65.3 599.3 C72.5 597.5 81.2 595.2 87.0 592.7 C92.8 590.2 94.7 585.1 100.1 584.0 C105.6 582.9 112.8 585.8 119.7 586.2 C126.6 586.6 134.1 586.2 141.4 586.2 C148.6 586.2 155.2 586.6 163.2 586.2 C171.2 585.8 180.2 586.2 189.3 584.0 C198.4 581.8 209.3 576.1 217.6 573.2 C225.9 570.3 230.2 569.2 239.3 566.6 C248.4 564.0 262.9 560.4 272.0 557.9 C281.1 555.4 290.1 552.5 293.7 551.4" stroke-width="1.9"/>
<path d="M21.8 590.6 C24.0 585.5 30.4 568.1 34.8 560.1 C39.1 552.1 43.9 547.1 47.9 542.7 C51.9 538.4 56.9 535.5 58.7 534.0" stroke-width="1.9"/>
<path d="M0.0 605.8 C3.6 606.5 16.0 608.4 21.8 610.2 C27.6 612.0 31.2 613.8 34.8 616.7 C38.4 619.6 39.5 624.0 43.5 627.6 C47.5 631.2 51.5 635.5 58.7 638.4 C66.0 641.3 77.9 642.5 87.0 645.0 C96.1 647.5 105.9 651.5 113.1 653.7 C120.4 655.9 124.0 656.4 130.5 658.0 C137.0 659.6 143.2 663.1 152.3 663.5 C161.4 663.9 174.0 661.5 184.9 660.2 C195.8 658.9 210.3 658.3 217.6 655.8 C224.9 653.3 223.1 649.7 228.5 645.0 C233.9 640.3 243.0 630.9 250.2 627.6 C257.5 624.3 265.5 626.5 272.0 625.4 C278.5 624.3 283.2 621.0 289.4 621.0 C295.6 621.0 302.8 623.6 309.0 625.4 C315.2 627.2 323.5 630.8 326.4 631.9" stroke-width="1.9"/>
<path d="M309.0 560.1 C309.7 563.0 311.5 571.0 313.3 577.5 C315.1 584.0 318.3 592.0 319.8 599.3 C321.2 606.5 322.0 613.8 322.0 621.0 C322.0 628.2 320.9 635.5 319.8 642.8 C318.7 650.0 316.9 657.2 315.5 664.5 C314.1 671.8 312.2 678.4 311.1 686.3 C310.0 694.2 309.3 707.7 309.0 712.0" stroke-width="1.9"/>
<path d="M369.0 551.4 C376.2 551.2 397.3 550.7 412.5 550.3 C427.7 549.9 450.3 549.7 460.4 549.2 C470.6 548.7 466.9 548.6 473.4 547.1 C479.9 545.6 491.5 542.0 499.5 540.5 C507.5 539.0 514.0 539.1 521.3 538.4 C528.6 537.7 539.5 536.6 543.1 536.2" stroke-width="1.9"/>
<path d="M916.4 597.1 C922.9 596.7 945.4 595.3 955.6 594.9 C965.7 594.5 970.0 594.2 977.3 594.9 C984.5 595.6 990.7 597.5 999.1 599.3 C1007.4 601.1 1018.3 605.8 1027.4 605.8 C1036.5 605.8 1047.3 600.0 1053.5 599.3 C1059.7 598.6 1060.4 600.3 1064.4 601.4 C1068.4 602.5 1075.2 605.1 1077.4 605.8" stroke-width="1.9"/>
<path d="M999.1 534.0 C998.7 537.6 998.7 548.5 996.9 555.8 C995.1 563.0 990.4 570.2 988.2 577.5 C986.0 584.8 985.0 592.0 983.9 599.3 C982.8 606.5 981.7 610.1 981.7 621.0 C981.7 631.9 983.5 655.1 983.9 664.5 C984.3 673.9 983.9 675.4 983.9 677.6" stroke-width="1.9"/>
<path d="M612.7 178.0 C619.2 171.6 641.0 150.8 651.9 139.3 C662.8 127.8 669.3 118.6 678.0 108.8 C686.7 99.0 696.8 89.6 704.1 80.5 C711.3 71.4 717.1 63.5 721.5 54.4 C725.9 45.3 727.5 33.7 730.2 26.1 C733.0 18.5 736.7 11.6 738.0 8.7" stroke-width="2.6"/>
<path d="M232.8 343.4 C237.5 338.3 252.0 322.7 261.1 312.9 C270.2 303.1 278.1 292.9 287.2 284.6 C296.3 276.3 307.2 268.7 315.5 262.9 C323.8 257.1 331.0 254.2 337.2 249.8 C343.4 245.4 347.2 241.8 352.5 236.7 C357.8 231.6 366.2 222.2 369.0 219.3" stroke-width="2.6"/>
<path d="M369.0 206.3 C372.6 205.2 383.5 201.6 390.8 199.8 C398.0 198.0 401.6 196.8 412.5 195.4 C423.4 193.9 441.5 192.6 456.0 191.1 C470.5 189.7 485.0 187.8 499.5 186.7 C514.0 185.6 530.8 184.1 543.1 184.5 C555.4 184.9 568.4 188.2 573.5 188.9" stroke-width="2.6"/>
<path d="M586.6 247.6 C590.2 243.3 601.0 229.8 608.3 221.5 C615.5 213.2 622.8 204.9 630.1 197.6 C637.4 190.4 648.3 181.3 651.9 178.0" stroke-width="2.6"/>
<path d="M451.7 291.1 C459.7 291.8 484.3 294.1 499.5 295.5 C514.7 296.9 528.6 298.7 543.1 299.8 C557.6 300.9 572.1 301.8 586.6 302.0 C601.1 302.2 615.6 300.7 630.1 300.9 C644.6 301.1 662.7 303.3 673.6 303.1 C684.5 302.9 691.8 300.4 695.4 299.8" stroke-width="2.6"/>
<path d="M918.6 186.7 C917.1 188.1 914.6 191.0 909.9 195.4 C905.2 199.7 897.2 206.6 890.3 212.8 C883.4 219.0 875.8 225.9 868.5 232.4 C861.2 238.9 852.9 245.8 846.8 252.0 C840.6 258.2 836.3 262.1 831.6 269.4 C826.9 276.6 823.2 289.0 818.5 295.5 C813.8 302.0 807.6 303.4 803.3 308.5 C798.9 313.6 796.0 320.2 792.4 326.0 C788.8 331.8 784.4 338.4 781.5 343.4 C778.6 348.4 776.1 353.9 775.0 356.0" stroke-width="2.6"/>
<path d="M738.0 390.8 C743.4 388.3 759.7 377.1 770.6 375.6 C781.5 374.2 792.4 380.1 803.3 382.1 C814.2 384.1 825.8 385.3 835.9 387.5 C846.1 389.7 855.9 393.0 864.2 395.2 C872.6 397.4 880.9 400.6 886.0 400.6 C891.1 400.6 891.8 399.0 894.7 395.2 C897.6 391.4 900.9 382.9 903.4 377.8 C905.9 372.7 908.5 368.3 909.9 364.7 C911.4 361.1 911.7 357.4 912.1 356.0" stroke-width="2.6"/>
<path d="M82.7 534.0 C87.1 536.2 102.3 543.5 108.8 547.1 C115.3 550.7 116.7 553.6 121.8 555.8 C126.9 558.0 132.0 560.1 139.3 560.1 C146.6 560.1 156.0 558.0 165.4 555.8 C174.8 553.6 186.4 549.6 195.8 547.1 C205.2 544.6 212.8 542.7 221.9 540.5 C231.0 538.3 245.5 535.1 250.2 534.0" stroke-width="2.6"/>
<path d="M658.4 534.0 C658.0 541.2 659.1 564.8 656.2 577.5 C653.3 590.2 644.3 602.2 641.0 610.2 C637.7 618.2 637.0 620.0 636.6 625.4 C636.2 630.8 636.2 638.1 638.8 642.8 C641.4 647.5 646.1 651.5 651.9 653.7 C657.7 655.9 666.3 655.1 673.6 655.8 C680.8 656.5 684.7 658.4 695.4 658.0 C706.1 657.6 730.9 654.4 738.0 653.7" stroke-width="2.6"/>
<path d="M617.0 0.0 C617.0 3.6 617.4 14.5 617.0 21.8 C616.6 29.0 616.4 36.2 614.9 43.5 C613.5 50.8 610.9 58.1 608.3 65.3 C605.7 72.6 603.2 79.8 599.6 87.0 C596.0 94.2 590.2 101.6 586.6 108.8 C583.0 116.1 579.9 123.2 577.9 130.5 C575.9 137.8 575.3 144.4 574.6 152.3 C573.9 160.2 573.7 173.7 573.5 178.0" stroke-width="3.4"/>
<path d="M573.5 178.0 C574.2 181.6 576.8 192.6 577.9 199.8 C579.0 207.1 579.2 214.2 580.1 221.5 C581.0 228.8 582.6 236.1 583.3 243.3 C584.0 250.6 584.0 257.8 584.4 265.0 C584.8 272.2 585.1 279.6 585.5 286.8 C585.9 294.1 586.0 301.2 586.6 308.5 C587.1 315.8 588.1 322.4 588.8 330.3 C589.5 338.2 590.6 351.7 590.9 356.0" stroke-width="3.4"/>
<path d="M217.6 356.0 C214.0 356.4 203.8 357.1 195.8 358.2 C187.8 359.3 178.8 360.3 169.7 362.5 C160.6 364.7 147.9 368.6 141.4 371.2 C134.9 373.8 135.9 375.6 130.5 377.8 C125.1 380.0 114.6 381.8 108.8 384.3 C103.0 386.8 99.3 389.4 95.7 393.0 C92.1 396.6 90.2 400.6 87.0 406.0 C83.8 411.4 79.1 419.4 76.2 425.6 C73.3 431.8 72.2 435.8 69.6 443.0 C67.1 450.2 64.5 461.1 60.9 469.1 C57.3 477.1 50.8 484.4 47.9 490.9 C45.0 497.4 44.6 501.1 43.5 508.3 C42.4 515.5 41.7 529.7 41.3 534.0" stroke-width="3.4"/>
<path d="M651.9 356.0 C653.7 357.8 658.4 363.6 662.7 366.9 C667.1 370.2 671.8 373.1 678.0 375.6 C684.2 378.1 693.2 380.7 699.7 382.1 C706.2 383.6 710.7 383.8 717.1 384.3 C723.5 384.9 734.5 385.2 738.0 385.4" stroke-width="3.4"/>
<path d="M697.5 384.3 C696.4 388.6 693.5 400.6 691.0 410.4 C688.5 420.2 685.2 432.9 682.3 443.0 C679.4 453.1 676.5 462.6 673.6 471.3 C670.7 480.0 667.4 488.4 664.9 495.3 C662.4 502.2 659.9 506.3 658.4 512.7 C657.0 519.2 656.6 530.5 656.2 534.0" stroke-width="3.4"/>
<path d="M471.3 555.8 C474.5 559.4 484.3 570.2 490.8 577.5 C497.3 584.8 503.5 592.0 510.4 599.3 C517.3 606.5 526.8 615.6 532.2 621.0 C537.6 626.4 540.2 628.3 543.1 631.9 C546.0 635.5 546.0 640.3 549.6 642.8 C553.2 645.3 558.6 646.4 564.8 647.1 C571.0 647.8 575.7 647.5 586.6 647.1 C597.5 646.8 615.6 643.5 630.1 645.0 C644.6 646.5 662.7 652.5 673.6 655.8 C684.5 659.0 690.0 661.6 695.4 664.5 C700.8 667.4 702.6 669.7 706.2 673.3 C709.8 676.9 714.5 679.8 717.1 686.3 C719.6 692.8 720.8 707.7 721.5 712.0" stroke-width="3.4"/>
<path d="M543.1 631.9 C543.1 634.4 543.8 641.7 543.1 647.1 C542.4 652.5 540.9 658.0 538.7 664.5 C536.5 671.0 532.9 678.4 530.0 686.3 C527.1 694.2 522.8 707.7 521.3 712.0" stroke-width="3.4"/>
<path d="M738.0 654.8 C745.2 655.0 765.2 655.8 781.5 655.8 C797.8 655.8 821.4 656.2 835.9 654.8 C850.4 653.3 857.6 649.8 868.5 647.1 C879.4 644.4 890.3 640.6 901.2 638.4 C912.1 636.2 921.1 634.8 933.8 634.1 C946.5 633.4 962.8 633.4 977.3 634.1 C991.8 634.8 1006.4 637.0 1020.9 638.4 C1035.4 639.8 1050.1 642.8 1064.4 642.8 C1078.8 642.8 1099.9 639.1 1107.0 638.4" stroke-width="3.4"/>
</g>
<path d="M650.0 48.9 C653.3 47.3 663.1 42.4 669.6 39.1 C676.1 35.8 682.6 32.6 689.1 29.3 C695.6 26.1 702.8 23.2 708.7 19.6 C714.6 16.0 721.0 11.1 724.3 7.8 C727.6 4.5 727.6 1.3 728.3 0.0" stroke-width="1.65"/>
<path d="M679.3 0.0 C680.9 3.3 684.8 12.7 689.1 19.6 C693.3 26.4 700.5 36.5 704.8 41.1 C709.0 45.7 713.0 46.0 714.6 47.0" stroke-width="1.65"/>
<path d="M704.8 41.1 C702.8 43.4 697.2 50.2 693.0 54.8 C688.8 59.4 684.8 63.6 679.3 68.5 C673.8 73.4 663.0 81.5 659.8 84.1" stroke-width="1.65"/>
<path d="M736.1 21.5 C736.7 24.4 739.0 32.9 740.0 39.1 C741.0 45.3 741.3 52.2 741.9 58.7 C742.6 65.2 743.2 71.8 743.9 78.3 C744.6 84.8 744.0 92.3 745.9 97.8 C747.9 103.3 752.0 107.6 755.6 111.5 C759.2 115.4 762.2 117.7 767.4 121.3 C772.6 124.9 782.3 129.7 786.9 133.0 C791.5 136.3 793.5 139.6 794.8 140.9" stroke-width="1.65"/>
<path d="M755.6 0.0 C756.3 3.3 757.6 13.1 759.6 19.6 C761.6 26.1 764.8 32.6 767.4 39.1 C770.0 45.6 773.3 53.5 775.2 58.7 C777.1 63.9 778.4 68.5 779.1 70.4" stroke-width="1.65"/>
<path d="M775.2 0.0 C777.2 1.6 783.3 4.9 786.9 9.8 C790.5 14.7 793.8 22.8 796.7 29.3 C799.6 35.8 802.0 42.4 804.6 48.9 C807.2 55.4 809.8 62.0 812.4 68.5 C815.0 75.0 817.6 81.5 820.2 88.0 C822.8 94.5 825.4 101.1 828.0 107.6 C830.6 114.1 833.6 120.7 835.9 127.2 C838.2 133.7 840.1 141.2 841.7 146.7 C843.3 152.2 844.9 157.8 845.6 160.0" stroke-width="1.65"/>
<path d="M810.4 19.6 C814.7 21.5 828.4 27.7 835.9 31.3 C843.4 34.9 848.9 38.8 855.4 41.1 C861.9 43.4 871.7 44.4 875.0 45.0" stroke-width="1.65"/>
<path d="M775.2 7.8 C777.8 7.5 785.0 3.9 790.9 5.9 C796.8 7.9 801.3 18.0 810.4 19.6 C819.5 21.2 837.4 16.0 845.6 15.7 C853.7 15.4 854.7 14.7 859.3 17.6 C863.9 20.5 868.8 30.0 873.0 33.3 C877.2 36.6 878.6 36.2 884.8 37.2 C891.0 38.2 905.8 38.8 910.0 39.1" stroke-width="1.65"/>
<path d="M837.8 60.6 C839.1 63.5 842.7 72.1 845.6 78.3 C848.5 84.5 852.8 91.3 855.4 97.8 C858.0 104.3 860.0 110.9 861.3 117.4 C862.6 123.9 862.9 133.7 863.2 136.9" stroke-width="1.65"/>
<path d="M855.4 19.6 C857.7 23.8 864.8 37.5 869.1 45.0 C873.3 52.5 877.3 59.0 880.9 64.6 C884.5 70.1 885.7 75.4 890.6 78.3 C895.4 81.2 906.8 81.5 910.0 82.2" stroke-width="1.65"/>
<path d="M878.9 76.3 C881.5 75.3 889.3 72.7 894.5 70.4 C899.7 68.1 907.4 63.9 910.0 62.6" stroke-width="1.65"/>
<path d="M794.8 107.6 C798.7 104.7 813.6 93.3 818.2 90.0 C822.8 86.7 821.5 88.3 822.2 88.0" stroke-width="1.65"/>
<path d="M794.8 107.6 L788.9 133.0" stroke-width="1.65"/>
<path d="M794.8 107.6 C796.1 108.6 800.0 109.6 802.6 113.5 C805.2 117.4 809.1 128.2 810.4 131.1" stroke-width="1.65"/>
<path d="M755.6 121.3 C753.6 123.3 748.5 128.4 743.9 133.0 C739.4 137.6 732.2 144.2 728.3 148.7 C724.4 153.2 721.7 158.1 720.4 160.0" stroke-width="1.65"/>
<path d="M763.5 125.2 C767.4 126.8 779.7 133.7 786.9 135.0 C794.1 136.3 801.0 134.0 806.5 133.0 C812.0 132.0 816.9 128.4 820.2 129.1 C823.5 129.8 823.5 131.8 826.1 136.9 C828.7 142.1 834.3 156.2 835.9 160.0" stroke-width="1.65"/>
<path d="M650.0 7.8 C652.6 7.1 660.8 4.6 665.7 3.9 C670.6 3.3 675.4 3.3 679.3 3.9 C683.2 4.6 684.8 7.5 689.1 7.8 C693.3 8.1 698.9 6.6 704.8 5.9 C710.7 5.3 719.4 4.2 724.3 3.9 C729.2 3.6 730.2 3.3 734.1 3.9 C738.0 4.6 743.5 6.5 747.8 7.8 C752.0 9.1 755.0 11.7 759.6 11.7 C764.2 11.7 772.6 8.4 775.2 7.8" stroke-width="1.65"/>
<path d="M884.8 0.0 C885.1 3.3 886.7 13.7 886.7 19.6 C886.7 25.5 885.1 32.6 884.8 35.2" stroke-width="1.65"/>
<path d="M810.4 64.6 C810.7 60.3 812.1 46.6 812.4 39.1 C812.7 31.6 812.4 22.8 812.4 19.6" stroke-width="1.65"/>
<path d="M708.7 117.4 C710.7 120.7 716.5 134.3 720.4 136.9 C724.3 139.5 727.6 133.0 732.2 133.0 C736.8 133.0 741.9 135.6 747.8 136.9 C753.7 138.2 764.1 140.2 767.4 140.9" stroke-width="1.65"/>
<path d="M677.4 64.6 C679.4 66.2 685.2 71.4 689.1 74.3 C693.0 77.2 698.9 80.9 700.9 82.2" stroke-width="1.65"/>
<path d="M650.0 93.9 C652.0 94.6 657.8 95.2 661.7 97.8 C665.6 100.4 671.5 107.6 673.5 109.6" stroke-width="1.65"/>
<path d="M831.9 0.0 C832.9 1.6 833.5 6.9 837.8 9.8 C842.0 12.7 854.1 16.3 857.4 17.6" stroke-width="1.65"/>
<path d="M892.6 0.0 C892.3 3.3 891.9 13.7 890.6 19.6 C889.3 25.5 885.8 32.6 884.8 35.2" stroke-width="1.65"/>
<path d="M720.4 58.7 C718.5 60.3 712.3 65.2 708.7 68.5 C705.1 71.8 702.2 74.4 698.9 78.3 C695.6 82.2 692.4 87.4 689.1 91.9 C685.8 96.5 680.9 103.3 679.3 105.6" stroke-width="1.65"/>
<path d="M650.0 19.6 C652.0 18.9 657.8 17.7 661.7 15.7 C665.6 13.7 671.5 9.1 673.5 7.8" stroke-width="1.65"/>
<path d="M657.8 0.0 C658.4 2.6 661.7 9.2 661.7 15.7 C661.7 22.2 659.8 31.9 657.8 39.1 C655.8 46.3 651.3 55.4 650.0 58.7" stroke-width="1.65"/>
<path d="M926.9 178.9 C925.9 176.9 922.7 170.5 921.1 167.2 C919.5 163.9 917.9 160.6 917.2 159.3" stroke-width="1.65"/>
<path d="M790.0 241.5 C793.3 243.1 801.8 247.1 809.6 251.3 C817.4 255.5 832.4 264.3 837.0 266.9" stroke-width="1.65"/>
<path d="M790.0 223.9 C792.6 224.2 802.4 227.8 805.7 225.9 C809.0 223.9 807.6 217.4 809.6 212.2 C811.5 207.0 813.5 199.8 817.4 194.6 C821.3 189.4 827.8 184.5 833.0 180.9 C838.2 177.3 846.1 174.3 848.7 173.0" stroke-width="1.65"/>
<path d="M805.7 225.9 C809.6 229.1 822.6 240.2 829.1 245.4 C835.6 250.6 842.2 255.2 844.8 257.2" stroke-width="1.65"/>
<path d="M817.4 149.6 C820.0 151.9 827.8 158.4 833.0 163.3 C838.2 168.2 844.1 173.4 848.7 178.9 C853.3 184.4 856.5 190.6 860.4 196.5 C864.3 202.4 868.9 208.9 872.2 214.1 C875.5 219.3 876.8 222.9 880.0 227.8 C883.2 232.7 887.8 238.6 891.7 243.5 C895.6 248.4 899.6 252.6 903.5 257.2 C907.4 261.8 913.2 268.6 915.2 270.9" stroke-width="1.65"/>
<path d="M838.9 130.0 C839.6 131.9 841.2 138.1 842.8 141.7 C844.4 145.3 847.7 149.9 848.7 151.5" stroke-width="1.65"/>
<path d="M821.3 130.0 C822.6 131.9 826.5 137.8 829.1 141.7 C831.7 145.6 833.4 147.9 837.0 153.5 C840.6 159.1 846.7 168.2 850.6 175.0 C854.5 181.8 858.8 191.3 860.4 194.6" stroke-width="1.65"/>
<path d="M848.7 153.5 C852.0 155.4 863.7 162.3 868.3 165.2 C872.9 168.1 872.8 168.2 876.1 171.1 C879.3 174.0 884.2 177.3 887.8 182.8 C891.4 188.3 896.0 200.7 897.6 204.3" stroke-width="1.65"/>
<path d="M835.0 208.3 C838.3 206.7 846.4 202.4 854.6 198.5 C862.7 194.6 874.5 189.7 883.9 184.8 C893.4 179.9 906.7 171.7 911.3 169.1" stroke-width="1.65"/>
<path d="M854.6 186.7 C856.9 185.1 863.1 180.9 868.3 177.0 C873.5 173.1 883.0 165.6 885.9 163.3" stroke-width="1.65"/>
<path d="M790.0 159.3 C793.9 157.7 807.0 151.9 813.5 149.6 C820.0 147.3 822.2 147.0 829.1 145.7 C835.9 144.4 848.1 143.7 854.6 141.7 C861.1 139.7 862.1 135.8 868.3 133.9 C874.5 132.0 887.8 130.7 891.7 130.0" stroke-width="1.65"/>
<path d="M790.0 180.9 L809.6 171.1" stroke-width="1.65"/>
<path d="M821.3 290.0 C822.6 282.6 825.8 255.8 829.1 245.4 C832.4 235.0 836.7 233.0 840.9 227.8 C845.2 222.6 850.0 218.0 854.6 214.1 C859.2 210.2 866.0 205.9 868.3 204.3" stroke-width="1.65"/>
<path d="M934.8 200.4 C938.7 200.2 951.0 201.4 958.2 199.5 C965.4 197.6 974.5 190.5 977.8 188.7" stroke-width="1.65"/>
<path d="M934.8 200.4 C934.8 202.7 934.1 208.9 934.8 214.1 C935.4 219.3 936.1 225.5 938.7 231.7 C941.3 237.9 947.5 245.4 950.4 251.3 C953.3 257.2 955.3 264.3 956.3 266.9" stroke-width="1.65"/>
<path d="M919.1 194.6 L934.8 200.4" stroke-width="1.65"/>
<path d="M979.8 130.0 C979.5 133.3 978.4 143.7 977.8 149.6 C977.1 155.5 976.2 162.6 975.9 165.2" stroke-width="1.65"/>
<path d="M999.3 130.0 C999.6 131.9 999.7 136.8 1001.3 141.7 C1002.9 146.6 1006.8 153.1 1009.1 159.3 C1011.4 165.5 1012.4 173.3 1015.0 178.9 C1017.6 184.4 1021.5 189.0 1024.8 192.6 C1028.0 196.2 1030.3 197.8 1034.5 200.4 C1038.7 203.0 1047.4 207.0 1050.0 208.3" stroke-width="1.65"/>
<path d="M977.8 188.7 C982.4 191.0 997.4 199.1 1005.2 202.4 C1013.0 205.7 1017.3 205.7 1024.8 208.3 C1032.3 210.9 1045.8 216.4 1050.0 218.0" stroke-width="1.65"/>
<path d="M966.1 247.4 C969.3 246.1 979.1 243.2 985.6 239.6 C992.1 236.0 998.7 230.5 1005.2 225.9 C1011.7 221.3 1018.9 216.1 1024.8 212.2 C1030.7 208.3 1036.2 205.0 1040.4 202.4 C1044.6 199.8 1048.4 197.5 1050.0 196.5" stroke-width="1.65"/>
<path d="M1005.2 225.9 C1006.2 228.2 1008.5 234.7 1011.1 239.6 C1013.7 244.5 1017.0 250.7 1020.9 255.2 C1024.8 259.8 1032.2 264.9 1034.5 266.9" stroke-width="1.65"/>
<path d="M330.0 491.3 C333.3 489.3 343.1 483.5 349.6 479.6 C356.1 475.7 362.6 471.7 369.1 467.8 C375.6 463.9 382.2 460.0 388.7 456.1 C395.2 452.2 401.8 448.2 408.3 444.3 C414.8 440.4 423.2 435.9 427.8 432.6 C432.3 429.4 433.6 427.4 435.6 424.8 C437.6 422.2 438.9 418.3 439.6 417.0" stroke-width="1.65"/>
<path d="M373.0 420.9 C375.6 419.9 382.8 417.6 388.7 415.0 C394.6 412.4 402.4 408.5 408.3 405.2 C414.2 401.9 418.7 398.0 423.9 395.4 C429.1 392.8 437.0 390.6 439.6 389.6" stroke-width="1.65"/>
<path d="M365.2 444.3 C367.8 446.9 375.7 454.8 380.9 460.0 C386.1 465.2 391.3 470.4 396.5 475.6 C401.7 480.8 407.6 486.7 412.2 491.3 C416.8 495.9 420.0 498.4 423.9 503.0 C427.8 507.6 432.3 514.2 435.6 518.7 C438.9 523.2 442.2 528.1 443.5 530.0" stroke-width="1.65"/>
<path d="M339.8 530.0 C341.4 527.5 345.4 520.6 349.6 514.8 C353.8 509.0 359.3 501.1 365.2 495.2 C371.1 489.3 379.2 484.2 384.8 479.6 C390.3 475.0 393.6 471.7 398.5 467.8 C403.4 463.9 408.6 459.4 414.1 456.1 C419.6 452.9 428.8 449.6 431.7 448.3" stroke-width="1.65"/>
<path d="M330.0 506.9 C333.3 506.2 343.1 504.9 349.6 503.0 C356.1 501.1 362.6 497.5 369.1 495.2 C375.6 492.9 382.2 491.2 388.7 489.3 C395.2 487.3 402.4 485.1 408.3 483.5 C414.2 481.9 418.7 480.9 423.9 479.6 C429.1 478.3 434.4 476.9 439.6 475.6 C444.8 474.3 452.6 472.4 455.2 471.7" stroke-width="1.65"/>
<path d="M330.0 518.7 C334.9 517.4 349.5 512.9 359.3 510.9 C369.1 508.9 378.9 507.9 388.7 506.9 C398.5 505.9 408.2 505.6 418.0 505.0 C427.8 504.4 442.5 503.3 447.4 503.0" stroke-width="1.65"/>
<path d="M402.4 530.0 C402.1 526.1 401.1 514.0 400.4 506.9 C399.8 499.8 399.2 492.6 398.5 487.4 C397.8 482.2 396.8 477.6 396.5 475.6" stroke-width="1.65"/>
<path d="M423.9 530.0 C424.2 526.1 425.6 514.0 425.9 506.9 C426.2 499.8 426.2 494.6 425.9 487.4 C425.6 480.2 425.5 469.8 423.9 463.9 C422.3 458.0 417.4 454.2 416.1 452.2" stroke-width="1.65"/>
<path d="M400.4 370.0 C400.7 373.3 401.8 383.1 402.4 389.6 C403.1 396.1 403.6 404.9 404.3 409.1 C404.9 413.3 406.0 414.0 406.3 415.0" stroke-width="1.65"/>
<path d="M427.8 370.0 C428.4 371.9 430.4 378.1 431.7 381.7 C433.0 385.3 434.3 386.9 435.6 391.5 C436.9 396.1 438.9 406.2 439.6 409.1" stroke-width="1.65"/>
<path d="M451.3 370.0 C453.9 371.9 461.7 377.5 466.9 381.7 C472.1 385.9 479.3 390.8 482.6 395.4 C485.9 400.0 485.8 403.6 486.5 409.1 C487.2 414.7 485.8 422.2 486.5 428.7 C487.2 435.2 489.8 445.0 490.4 448.3" stroke-width="1.65"/>
<path d="M486.5 370.0 C487.2 373.3 490.4 383.1 490.4 389.6 C490.4 396.1 487.2 405.9 486.5 409.1" stroke-width="1.65"/>
<path d="M466.9 448.3 C470.2 447.6 480.0 444.6 486.5 444.3 C493.0 444.0 499.6 446.3 506.1 446.3 C512.6 446.3 519.1 444.3 525.6 444.3 C532.1 444.3 538.7 446.3 545.2 446.3 C551.7 446.3 557.3 444.9 564.8 444.3 C572.3 443.6 585.8 442.7 590.0 442.4" stroke-width="1.65"/>
<path d="M525.6 370.0 C524.9 373.3 521.7 384.4 521.7 389.6 C521.7 394.8 521.7 399.7 525.6 401.3 C529.5 402.9 538.7 400.6 545.2 399.3 C551.7 398.0 557.3 395.1 564.8 393.5 C572.3 391.9 585.8 390.2 590.0 389.6" stroke-width="1.65"/>
<path d="M572.6 370.0 C572.3 373.3 570.6 383.1 570.6 389.6 C570.6 396.1 571.6 402.6 572.6 409.1 C573.6 415.6 575.9 425.4 576.5 428.7" stroke-width="1.65"/>
<path d="M529.6 467.8 C528.9 471.1 527.9 480.9 525.6 487.4 C523.3 493.9 519.2 499.8 515.9 506.9 C512.7 514.0 507.7 526.1 506.1 530.0" stroke-width="1.65"/>
<path d="M494.3 467.8 C494.6 471.1 495.6 480.9 496.3 487.4 C496.9 493.9 498.2 499.8 498.2 506.9 C498.2 514.0 496.6 526.1 496.3 530.0" stroke-width="1.65"/>
<path d="M525.6 479.6 C528.9 478.9 538.7 476.9 545.2 475.6 C551.7 474.3 557.3 473.0 564.8 471.7 C572.3 470.4 585.8 468.4 590.0 467.8" stroke-width="1.65"/>
<path d="M470.9 479.6 C473.5 480.9 480.6 484.8 486.5 487.4 C492.4 490.0 499.6 493.9 506.1 495.2 C512.6 496.5 522.3 495.2 525.6 495.2" stroke-width="1.65"/>
<path d="M506.1 514.8 C509.3 514.1 519.1 511.5 525.6 510.9 C532.1 510.2 538.7 510.6 545.2 510.9 C551.7 511.2 557.3 512.8 564.8 512.8 C572.3 512.8 585.8 511.2 590.0 510.9" stroke-width="1.65"/>
<path d="M584.3 467.8 C583.6 471.1 581.7 480.9 580.4 487.4 C579.1 493.9 577.8 499.8 576.5 506.9 C575.2 514.0 573.2 526.1 572.6 530.0" stroke-width="1.65"/>
<path d="M447.4 467.8 C450.7 472.4 463.0 484.8 466.9 495.2 C470.8 505.6 470.2 524.2 470.9 530.0" stroke-width="1.65"/>
<path d="M330.0 370.0 C331.6 371.6 336.5 377.2 339.8 379.8 C343.1 382.4 346.0 384.7 349.6 385.7 C353.2 386.7 356.4 387.7 361.3 385.7 C366.2 383.7 374.3 376.5 378.9 373.9 C383.5 371.3 387.1 370.6 388.7 370.0" stroke-width="1.65"/>
<path d="M330.0 471.7 C333.3 469.4 343.1 462.6 349.6 458.0 C356.1 453.4 365.8 446.6 369.1 444.3" stroke-width="1.65"/>
<path d="M378.9 530.0 C379.2 526.1 379.9 515.3 380.9 506.9 C381.9 498.5 384.1 484.2 384.8 479.6" stroke-width="1.65"/>
<path d="M359.3 530.0 C360.0 526.8 362.3 516.7 363.3 510.9 C364.3 505.1 364.9 497.8 365.2 495.2" stroke-width="1.65"/>
<path d="M443.5 530.0 C444.2 526.1 446.1 514.0 447.4 506.9 C448.7 499.8 450.6 490.6 451.3 487.4" stroke-width="1.65"/>
<path d="M580.0 508.9 C583.3 509.5 593.1 512.8 599.6 512.8 C606.1 512.8 612.6 510.5 619.1 508.9 C625.6 507.3 633.8 504.9 638.7 503.0 C643.6 501.1 644.6 497.9 648.5 497.2 C652.4 496.6 659.9 498.8 662.2 499.1" stroke-width="1.65"/>
<path d="M648.5 497.2 C648.8 495.9 649.1 495.5 650.4 489.3 C651.7 483.1 655.3 464.9 656.3 460.0" stroke-width="1.65"/>
<path d="M662.2 499.1 C663.8 499.1 666.0 496.8 671.9 499.1 C677.8 501.4 691.9 511.5 697.4 512.8 C703.0 514.1 702.0 508.0 705.2 507.0 C708.5 506.0 714.3 506.4 716.9 507.0 C719.5 507.6 719.6 513.9 720.9 510.9 C722.2 507.9 723.8 497.8 724.8 489.3 C725.8 480.8 726.4 464.9 726.7 460.0" stroke-width="1.65"/>
<path d="M720.9 510.9 C723.5 511.5 731.6 513.2 736.5 514.8 C741.4 516.4 747.3 518.3 750.2 520.6 C753.1 522.9 754.7 524.9 754.1 528.5 C753.4 532.1 749.2 538.3 746.3 542.2 C743.4 546.1 738.5 549.3 736.5 551.9 C734.5 554.5 736.5 555.5 734.6 557.8 C732.6 560.1 727.7 563.0 724.8 565.6 C721.9 568.2 720.8 571.5 716.9 573.5 C713.0 575.5 703.9 576.8 701.3 577.4" stroke-width="1.65"/>
<path d="M705.2 507.0 C703.9 509.6 700.0 517.4 697.4 522.6 C694.8 527.8 692.2 533.1 689.6 538.3 C687.0 543.5 684.3 549.3 681.7 553.9 C679.1 558.5 675.2 563.6 673.9 565.6" stroke-width="1.65"/>
<path d="M720.9 510.9 C719.6 512.9 715.0 518.0 713.0 522.6 C711.0 527.2 710.7 533.7 709.1 538.3 C707.5 542.9 705.2 546.8 703.3 550.0 C701.4 553.2 698.4 556.5 697.4 557.8" stroke-width="1.65"/>
<path d="M580.0 550.0 C583.3 550.3 593.1 550.9 599.6 551.9 C606.1 552.9 612.6 554.3 619.1 555.9 C625.6 557.5 632.8 560.4 638.7 561.7 C644.6 563.0 651.7 563.4 654.3 563.7" stroke-width="1.65"/>
<path d="M748.2 589.1 C751.2 587.1 759.7 582.0 765.9 577.4 C772.1 572.8 778.9 566.9 785.4 561.7 C791.9 556.5 798.5 551.3 805.0 546.1 C811.5 540.9 819.6 536.6 824.5 530.4 C829.4 524.2 831.7 515.8 834.3 508.9 C836.9 502.0 839.0 492.6 840.0 489.3" stroke-width="1.65"/>
<path d="M628.9 579.3 C633.8 578.0 650.1 573.5 658.3 571.5 C666.4 569.5 671.3 569.9 677.8 567.6 C684.3 565.3 694.1 559.4 697.4 557.8" stroke-width="1.65"/>
<path d="M677.8 567.6 C678.4 570.9 678.4 583.0 681.7 587.2 C685.0 591.4 694.1 588.1 697.4 593.0 C700.7 597.9 700.6 612.6 701.3 616.5" stroke-width="1.65"/>
<path d="M716.9 573.5 C716.3 575.8 713.0 583.3 713.0 587.2 C713.0 591.1 715.6 591.4 716.9 596.9 C718.2 602.4 720.2 616.1 720.9 620.0" stroke-width="1.65"/>
<path d="M630.9 522.6 C632.2 522.6 634.1 522.6 638.7 522.6 C643.3 522.6 653.1 522.3 658.3 522.6 C663.5 522.9 668.0 522.7 670.0 524.6 C672.0 526.5 672.0 532.0 670.0 534.3 C668.0 536.6 663.5 538.0 658.3 538.3 C653.1 538.6 643.6 537.3 638.7 536.3 C633.8 535.3 630.2 534.7 628.9 532.4 C627.6 530.1 630.6 524.2 630.9 522.6" stroke-width="1.65"/>
<path d="M580.0 524.6 C583.3 524.3 593.1 523.3 599.6 522.6 C606.1 521.9 613.9 520.6 619.1 520.6 C624.3 520.6 628.9 522.3 630.9 522.6" stroke-width="1.65"/>
<path d="M599.6 528.5 C598.9 531.8 597.3 541.5 595.7 548.0 C594.1 554.5 590.8 564.3 589.8 567.6" stroke-width="1.65"/>
<path d="M611.3 497.2 C611.0 500.8 610.6 511.9 609.3 518.7 C608.0 525.6 604.5 535.0 603.5 538.3" stroke-width="1.65"/>
<path d="M580.0 565.6 C583.3 565.0 593.1 562.4 599.6 561.7 C606.1 561.1 612.9 561.4 619.1 561.7 C625.3 562.0 634.1 561.1 636.7 563.7 C639.3 566.3 636.1 574.8 634.8 577.4 C633.5 580.0 629.9 579.0 628.9 579.3" stroke-width="1.65"/>
<path d="M580.0 602.8 C583.3 602.5 593.1 603.2 599.6 600.9 C606.1 598.6 612.6 593.0 619.1 589.1 C625.6 585.2 635.4 579.4 638.7 577.4" stroke-width="1.65"/>
<path d="M615.2 585.2 C615.9 587.8 617.5 595.1 619.1 600.9 C620.7 606.7 624.0 616.8 625.0 620.0" stroke-width="1.65"/>
<path d="M756.1 596.9 L756.1 620.0" stroke-width="1.65"/>
<path d="M830.4 620.0 C831.1 616.1 832.7 602.4 834.3 596.9 C835.9 591.4 839.0 588.8 840.0 587.2" stroke-width="1.65"/>
<path d="M577.4 190.9 C579.0 191.5 584.0 192.8 587.2 194.8 C590.5 196.8 593.3 199.4 596.9 202.6 C600.5 205.9 605.4 211.7 608.7 214.3 C612.0 216.9 611.9 218.3 616.5 218.3 C621.1 218.3 631.2 216.6 636.1 214.3 C641.0 212.0 644.3 206.2 645.9 204.6" stroke-width="1.65"/>
<path d="M487.4 171.3 C492.6 171.6 508.9 172.7 518.7 173.3 C528.5 174.0 539.6 175.9 546.1 175.2 C552.6 174.5 552.6 170.6 557.8 169.3 C563.0 168.0 574.1 167.7 577.4 167.4" stroke-width="1.65"/>
<path d="M493.3 140.0 C492.6 143.3 490.3 153.1 489.3 159.6 C488.3 166.1 488.4 172.6 487.4 179.1 C486.4 185.6 484.2 195.4 483.5 198.7" stroke-width="1.65"/>
<path d="M505.0 198.7 C504.3 202.0 502.1 211.8 501.1 218.3 C500.1 224.8 499.4 234.6 499.1 237.8" stroke-width="1.65"/>
<path d="M546.1 175.2 C545.4 177.5 544.2 184.3 542.2 188.9 C540.2 193.5 537.2 199.0 534.3 202.6 C531.4 206.2 528.8 207.8 524.6 210.4 C520.4 213.0 513.2 215.4 508.9 218.3 C504.7 221.2 500.7 226.4 499.1 228.0" stroke-width="1.65"/>
<path d="M460.0 261.3 C463.3 259.7 473.1 254.8 479.6 251.5 C486.1 248.2 492.6 244.0 499.1 241.7 C505.6 239.4 512.2 238.8 518.7 237.8 C525.2 236.8 531.8 235.9 538.3 235.9 C544.8 235.9 552.6 236.8 557.8 237.8 C563.0 238.8 566.3 239.7 569.6 241.7 C572.9 243.7 576.1 248.3 577.4 249.6" stroke-width="1.65"/>
<path d="M510.9 237.8 C512.9 240.4 518.7 248.3 522.6 253.5 C526.5 258.7 530.7 263.9 534.3 269.1 C537.9 274.3 541.8 279.7 544.1 284.8 C546.4 289.9 547.4 297.5 548.0 300.0" stroke-width="1.65"/>
<path d="M499.1 300.0 C498.4 296.1 495.2 284.0 495.2 276.9 C495.2 269.8 496.5 261.3 499.1 257.4 C501.7 253.5 508.9 254.2 510.9 253.5" stroke-width="1.65"/>
<path d="M596.9 253.5 C600.2 254.8 610.0 259.4 616.5 261.3 C623.0 263.2 629.6 264.2 636.1 265.2 C642.6 266.2 649.1 265.2 655.6 267.2 C662.1 269.1 668.7 273.3 675.2 276.9 C681.7 280.5 688.3 284.8 694.8 288.7 C701.3 292.6 711.0 298.1 714.3 300.0" stroke-width="1.65"/>
<path d="M622.4 222.2 C623.1 225.4 625.3 235.8 626.3 241.7 C627.3 247.6 627.9 254.8 628.2 257.4" stroke-width="1.65"/>
<path d="M655.6 208.5 C658.2 210.1 666.4 215.1 671.3 218.3 C676.2 221.6 679.5 223.8 685.0 228.0 C690.5 232.2 698.7 239.4 704.5 243.7 C710.3 247.9 717.4 251.9 720.0 253.5" stroke-width="1.65"/>
<path d="M675.2 159.6 C678.5 160.6 687.3 163.4 694.8 165.4 C702.3 167.3 715.8 170.3 720.0 171.3" stroke-width="1.65"/>
<path d="M661.5 208.5 C662.1 206.9 661.5 202.0 665.4 198.7 C669.3 195.4 678.5 192.2 685.0 188.9 C691.5 185.6 698.7 182.0 704.5 179.1 C710.3 176.2 717.4 172.6 720.0 171.3" stroke-width="1.65"/>
<path d="M620.4 179.1 C623.0 180.1 631.5 182.7 636.1 185.0 C640.7 187.3 645.8 191.5 647.8 192.8" stroke-width="1.65"/>
<path d="M685.0 237.8 C686.6 241.1 692.2 250.9 694.8 257.4 C697.4 263.9 699.0 269.8 700.6 276.9 C702.2 284.0 703.9 296.1 704.5 300.0" stroke-width="1.65"/>
<path d="M720.0 204.6 C717.4 206.2 710.3 210.4 704.5 214.3 C698.7 218.2 688.2 225.7 685.0 228.0" stroke-width="1.65"/>
<path d="M704.5 140.0 C702.9 142.6 698.0 150.8 694.8 155.7 C691.5 160.6 688.9 164.8 685.0 169.3 C681.1 173.9 675.2 178.8 671.3 183.0 C667.4 187.2 663.1 192.8 661.5 194.8" stroke-width="1.65"/>
<path d="M720.0 151.7 C718.4 153.7 713.6 158.9 710.4 163.5 C707.2 168.1 702.2 176.5 700.6 179.1" stroke-width="1.65"/>
<path d="M110.0 406.5 C114.9 405.9 129.5 404.2 139.3 402.6 C149.1 401.0 158.9 398.3 168.7 396.7 C178.5 395.1 189.5 393.1 198.0 392.8 C206.5 392.5 214.1 393.5 219.6 394.8 C225.2 396.1 226.7 400.0 231.3 400.6 C235.8 401.2 241.0 398.4 246.9 398.7 C252.8 399.0 260.0 401.3 266.5 402.6 C273.0 403.9 279.6 406.2 286.1 406.5 C292.6 406.8 299.1 405.9 305.6 404.6 C312.1 403.3 318.7 400.7 325.2 398.7 C331.7 396.7 341.5 393.8 344.8 392.8" stroke-width="1.65"/>
<path d="M135.4 379.1 C137.0 381.7 142.3 388.3 145.2 394.8 C148.1 401.3 151.0 411.1 153.0 418.3 C155.0 425.5 156.0 431.3 157.0 437.8 C158.0 444.3 158.9 450.9 158.9 457.4 C158.9 463.9 158.6 469.8 157.0 476.9 C155.4 484.0 150.4 496.1 149.1 500.0" stroke-width="1.65"/>
<path d="M219.6 340.0 C220.6 341.9 224.1 346.8 225.4 351.7 C226.7 356.6 226.7 364.7 227.4 369.3 C228.0 373.9 229.0 377.5 229.3 379.1" stroke-width="1.65"/>
<path d="M276.3 351.7 C277.9 353.0 281.2 356.7 286.1 359.6 C291.0 362.5 299.1 366.7 305.6 369.3 C312.1 371.9 318.7 373.6 325.2 375.2 C331.7 376.8 341.5 378.5 344.8 379.1" stroke-width="1.65"/>
<path d="M315.4 345.9 C316.4 347.8 318.0 353.7 321.3 357.6 C324.6 361.5 331.1 365.1 335.0 369.3 C338.9 373.5 343.2 380.7 344.8 383.0" stroke-width="1.65"/>
<path d="M203.9 404.6 C205.8 406.9 213.0 414.1 215.6 418.3 C218.2 422.5 220.3 426.1 219.6 430.0 C219.0 433.9 214.0 437.1 211.7 441.7 C209.4 446.3 207.2 453.5 205.9 457.4 C204.6 461.3 203.6 462.0 203.9 465.2 C204.2 468.5 205.2 471.1 207.8 476.9 C210.4 482.7 217.6 496.1 219.6 500.0" stroke-width="1.65"/>
<path d="M213.7 441.7 C215.0 444.3 218.6 452.2 221.5 457.4 C224.4 462.6 227.7 467.8 231.3 473.0 C234.9 478.2 240.4 484.2 243.0 488.7 C245.6 493.2 246.3 498.1 246.9 500.0" stroke-width="1.65"/>
<path d="M221.5 455.4 C225.7 455.1 239.4 454.5 246.9 453.5 C254.4 452.5 261.6 451.9 266.5 449.6 C271.4 447.3 271.4 443.7 276.3 439.8 C281.2 435.9 292.6 428.4 295.9 426.1" stroke-width="1.65"/>
<path d="M231.3 412.4 C233.2 415.0 239.1 421.1 243.0 428.0 C246.9 434.9 252.8 449.2 254.8 453.5" stroke-width="1.65"/>
<path d="M256.7 433.9 L276.3 420.2" stroke-width="1.65"/>
<path d="M266.5 445.6 C269.8 443.7 279.6 437.5 286.1 433.9 C292.6 430.3 302.3 425.7 305.6 424.1" stroke-width="1.65"/>
<path d="M110.0 476.9 C111.6 476.2 114.9 474.6 119.8 473.0 C124.7 471.4 134.4 468.5 139.3 467.2 C144.2 465.9 147.5 465.5 149.1 465.2" stroke-width="1.65"/>
<path d="M305.6 457.4 C308.9 457.1 318.7 456.7 325.2 455.4 C331.7 454.1 337.3 451.9 344.8 449.6 C352.3 447.3 365.8 443.0 370.0 441.7" stroke-width="1.65"/>
<path d="M325.2 455.4 C323.9 457.4 320.7 463.0 317.4 467.2 C314.1 471.5 308.9 475.4 305.6 480.9 C302.3 486.4 299.1 496.8 297.8 500.0" stroke-width="1.65"/>
<path d="M335.0 465.2 C338.2 463.9 348.7 460.0 354.5 457.4 C360.3 454.8 367.4 450.9 370.0 449.6" stroke-width="1.65"/>
<path d="M344.8 476.9 C347.1 475.3 354.3 469.8 358.5 467.2 C362.7 464.6 368.1 462.3 370.0 461.3" stroke-width="1.65"/>
<path d="M286.1 455.4 C287.7 457.4 292.7 463.0 295.9 467.2 C299.2 471.5 303.0 475.4 305.6 480.9 C308.2 486.4 310.5 496.8 311.5 500.0" stroke-width="1.65"/>
<path d="M201.9 406.5 C199.6 406.5 192.2 404.5 188.3 406.5 C184.4 408.5 181.8 413.1 178.5 418.3 C175.2 423.5 172.0 429.6 168.7 437.8 C165.4 445.9 162.2 456.8 158.9 467.2 C155.6 477.6 150.7 494.5 149.1 500.0" stroke-width="1.65"/>
<path d="M287.4 500.0 C287.4 503.3 286.8 513.7 287.4 519.6 C288.1 525.5 288.7 530.6 291.3 535.2 C293.9 539.8 301.1 545.0 303.0 547.0" stroke-width="1.65"/>
<path d="M170.0 586.1 C173.3 585.5 183.1 583.8 189.6 582.2 C196.1 580.6 202.6 578.3 209.1 576.3 C215.6 574.3 222.2 572.0 228.7 570.4 C235.2 568.8 241.8 567.8 248.3 566.5 C254.8 565.2 261.3 563.9 267.8 562.6 C274.3 561.3 281.5 560.0 287.4 558.7 C293.3 557.4 300.4 555.4 303.0 554.8" stroke-width="1.65"/>
<path d="M193.5 554.8 C196.1 557.4 204.5 565.2 209.1 570.4 C213.7 575.6 217.6 580.9 220.9 586.1 C224.2 591.3 224.8 597.8 228.7 601.7 C232.6 605.6 238.4 609.6 244.3 609.6 C250.2 609.6 259.3 605.0 263.9 601.7 C268.5 598.4 270.4 593.9 271.7 590.0 C273.0 586.1 271.7 580.2 271.7 578.3" stroke-width="1.65"/>
<path d="M218.9 535.2 C219.2 537.8 220.9 545.7 220.9 550.9 C220.9 556.1 219.2 563.9 218.9 566.5" stroke-width="1.65"/>
<path d="M248.3 566.5 C248.9 569.1 250.3 577.0 252.2 582.2 C254.2 587.4 258.1 593.2 260.0 597.8 C261.9 602.4 262.6 605.0 263.9 609.6 C265.2 614.2 265.2 620.7 267.8 625.2 C270.4 629.8 275.7 633.0 279.6 636.9 C283.5 640.8 288.0 644.9 291.3 648.7 C294.5 652.6 297.8 658.1 299.1 660.0" stroke-width="1.65"/>
<path d="M244.3 609.6 C241.7 613.5 232.6 626.5 228.7 633.0 C224.8 639.5 222.8 644.2 220.9 648.7 C218.9 653.2 217.7 658.1 217.0 660.0" stroke-width="1.65"/>
<path d="M263.9 609.6 C267.8 611.5 280.2 618.0 287.4 621.3 C294.6 624.5 300.4 627.1 306.9 629.1 C313.4 631.1 320.0 631.7 326.5 633.0 C333.0 634.3 339.6 635.6 346.1 636.9 C352.6 638.2 359.1 639.6 365.6 640.9 C372.1 642.2 378.7 643.2 385.2 644.8 C391.7 646.4 401.5 649.6 404.8 650.6" stroke-width="1.65"/>
<path d="M306.9 558.7 C308.2 562.0 312.2 571.8 314.8 578.3 C317.4 584.8 320.6 592.6 322.6 597.8 C324.5 603.0 325.2 604.7 326.5 609.6 C327.8 614.5 330.4 621.3 330.4 627.2 C330.4 633.1 327.8 639.3 326.5 644.8 C325.2 650.3 323.2 657.5 322.6 660.0" stroke-width="1.65"/>
<path d="M322.6 597.8 C324.9 599.8 330.7 606.7 336.3 609.6 C341.8 612.5 349.4 613.5 355.9 615.4 C362.4 617.3 368.9 619.0 375.4 621.3 C381.9 623.6 388.5 626.5 395.0 629.1 C401.5 631.7 411.2 635.6 414.5 636.9" stroke-width="1.65"/>
<path d="M271.7 578.3 C274.3 577.6 281.5 575.3 287.4 574.3 C293.3 573.3 300.4 573.4 306.9 572.4 C313.4 571.4 320.0 569.8 326.5 568.5 C333.0 567.2 342.8 565.2 346.1 564.6" stroke-width="1.65"/>
<path d="M355.9 564.6 C354.9 567.5 352.3 576.0 350.0 582.2 C347.7 588.4 344.5 595.8 342.2 601.7 C339.9 607.6 338.9 611.5 336.3 617.4 C333.7 623.3 328.1 633.6 326.5 636.9" stroke-width="1.65"/>
<path d="M404.8 558.7 C404.5 562.0 403.4 571.8 402.8 578.3 C402.1 584.8 401.6 591.3 400.9 597.8 C400.3 604.3 399.2 614.1 398.9 617.4" stroke-width="1.65"/>
<path d="M361.7 548.9 C363.7 545.0 369.6 533.5 373.5 525.4 C377.4 517.2 383.3 504.2 385.2 500.0" stroke-width="1.65"/>
<path d="M361.7 548.9 C361.1 545.6 358.1 535.8 357.8 529.3 C357.5 522.8 359.8 514.7 359.8 509.8 C359.8 504.9 358.1 501.6 357.8 500.0" stroke-width="1.65"/>
<path d="M306.9 517.6 C311.8 520.2 327.2 528.1 336.3 533.3 C345.4 538.5 357.5 546.3 361.7 548.9" stroke-width="1.65"/>
<path d="M430.0 515.7 C425.8 518.0 413.9 524.4 404.8 529.3 C395.7 534.2 382.6 541.7 375.4 545.0 C368.2 548.3 364.0 548.2 361.7 548.9" stroke-width="1.65"/>
<path d="M189.6 660.0 C189.0 656.1 185.7 644.0 185.7 636.9 C185.7 629.8 188.3 623.3 189.6 617.4 C190.9 611.5 192.2 606.3 193.5 601.7 C194.8 597.1 196.7 592.0 197.4 590.0" stroke-width="1.65"/>
<path d="M414.5 500.0 C414.2 503.3 412.6 513.1 412.6 519.6 C412.6 526.1 414.2 532.6 414.5 539.1 C414.8 545.6 414.5 555.4 414.5 558.7" stroke-width="1.65"/>
<path d="M424.3 578.3 C423.6 581.5 420.4 591.3 420.4 597.8 C420.4 604.3 422.7 610.9 424.3 617.4 C425.9 623.9 429.1 633.6 430.0 636.9" stroke-width="1.65"/>
<path d="M391.1 500.0 C392.7 501.9 398.6 506.8 400.9 511.7 C403.2 516.6 404.1 526.4 404.8 529.3" stroke-width="1.65"/>
<path d="M234.6 500.0 C234.9 502.6 234.9 510.5 236.5 515.7 C238.1 520.9 243.0 528.7 244.3 531.3" stroke-width="1.65"/>
<path d="M821.3 297.6 C825.2 304.5 839.4 328.9 844.8 338.7 C850.2 348.5 852.1 353.4 853.6 356.3" stroke-width="1.65"/>
<path d="M739.2 394.5 C738.2 397.4 735.8 405.8 733.3 412.1 C730.8 418.5 726.5 425.3 724.5 432.6 C722.5 439.9 721.5 447.3 721.5 456.1 C721.5 464.9 724.5 474.8 724.5 485.5 C724.5 496.2 722.0 514.3 721.5 520.1" stroke-width="1.65"/>
<path d="M739.2 403.3 C742.1 403.3 751.4 401.8 756.8 403.3 C762.2 404.8 769.0 410.6 771.4 412.1" stroke-width="1.65"/>
<path d="M698.1 397.4 C700.5 397.4 707.8 395.9 712.7 397.4 C717.6 398.9 725.9 402.3 727.4 406.2 C728.9 410.1 723.0 417.5 721.5 420.9 C720.0 424.3 721.5 424.8 718.6 426.8 C715.7 428.7 707.3 434.1 703.9 432.6 C700.5 431.1 699.1 420.4 698.1 418.0" stroke-width="1.65"/>
<path d="M668.7 382.7 C668.7 387.1 665.8 404.3 668.7 409.2 C671.6 414.1 683.4 411.6 686.3 412.1" stroke-width="1.65"/>
<path d="M610.0 397.4 C612.9 396.4 621.7 392.0 627.6 391.5 C633.5 391.0 638.4 391.6 645.2 394.5 C652.1 397.4 664.8 406.8 668.7 409.2" stroke-width="1.65"/>
<path d="M610.0 444.4 C612.9 443.4 621.2 440.0 627.6 438.5 C634.0 437.0 641.4 434.6 648.2 435.6 C655.1 436.6 662.8 442.9 668.7 444.4 C674.6 445.9 681.0 444.4 683.4 444.4" stroke-width="1.65"/>
<path d="M610.0 470.8 C613.9 471.3 625.7 474.2 633.5 473.7 C641.3 473.2 651.1 469.8 657.0 467.9 C662.9 465.9 666.8 463.0 668.7 462.0" stroke-width="1.65"/>
<path d="M610.0 503.1 C613.9 503.6 625.7 506.0 633.5 506.0 C641.3 506.0 651.1 504.1 657.0 503.1 C662.9 502.1 666.8 500.7 668.7 500.2" stroke-width="1.65"/>
<path d="M683.4 447.3 C685.9 446.8 691.7 446.8 698.1 444.4 C704.4 441.9 715.6 434.6 721.5 432.6 C727.4 430.6 731.3 432.6 733.3 432.6" stroke-width="1.65"/>
<path d="M774.4 280.0 C775.4 283.9 778.4 293.7 780.3 303.5 C782.2 313.3 785.1 332.8 786.1 338.7" stroke-width="1.65"/>
<path d="M689.3 280.0 C690.8 283.9 697.1 296.2 698.1 303.5 C699.1 310.8 695.1 318.1 695.1 324.0 C695.1 329.9 693.7 334.3 698.1 338.7 C702.5 343.1 714.6 347.0 721.5 350.4 C728.4 353.8 734.3 355.9 739.2 359.3 C744.1 362.7 749.0 369.1 750.9 371.0" stroke-width="1.65"/>
<path d="M701.0 338.7 C703.5 338.2 710.3 334.3 715.7 335.8 C721.1 337.3 730.4 345.6 733.3 347.5" stroke-width="1.65"/>
<path d="M654.0 280.0 C656.5 281.9 663.3 288.8 668.7 291.7 C674.1 294.6 683.4 296.6 686.3 297.6" stroke-width="1.65"/>
<path d="M610.0 318.2 C612.9 317.7 622.7 317.2 627.6 315.2 C632.5 313.2 636.0 310.8 639.4 306.4 C642.8 302.0 646.7 291.7 648.2 288.8" stroke-width="1.65"/>
<path d="M627.6 356.3 C627.1 359.7 626.2 370.0 624.7 376.9 C623.2 383.8 620.8 390.1 618.8 397.4 C616.8 404.7 614.4 413.1 612.9 420.9 C611.4 428.7 610.5 440.5 610.0 444.4" stroke-width="1.65"/>
<path d="M850.7 280.0 C848.8 283.9 840.0 295.7 839.0 303.5 C838.0 311.3 842.8 318.2 844.8 327.0 C846.8 335.8 849.7 351.4 850.7 356.3" stroke-width="1.65"/>
<path d="M865.4 394.5 C864.4 397.9 862.0 408.6 859.5 415.0 C857.0 421.4 853.2 425.8 850.7 432.6 C848.2 439.5 846.8 448.3 844.8 456.1 C842.8 463.9 841.0 471.8 839.0 479.6 C837.0 487.4 835.1 496.4 833.1 503.1 C831.1 509.9 828.2 517.3 827.2 520.1" stroke-width="1.65"/>
<path d="M888.9 397.4 C891.3 399.4 900.0 406.3 903.5 409.2 C907.0 412.1 908.9 414.0 910.0 415.0" stroke-width="1.65"/>
<path d="M888.9 397.4 C887.9 392.5 882.5 377.9 883.0 368.1 C883.5 358.3 887.3 348.5 891.8 338.7 C896.3 328.9 907.0 314.3 910.0 309.4" stroke-width="1.65"/>
<path d="M797.9 403.3 C800.8 406.2 809.6 416.0 815.5 420.9 C821.4 425.8 828.2 428.7 833.1 432.6 C838.0 436.5 842.8 442.4 844.8 444.4" stroke-width="1.65"/>
<path d="M756.8 403.3 C757.8 408.2 759.7 422.8 762.6 432.6 C765.5 442.4 772.4 457.1 774.4 462.0" stroke-width="1.65"/>
<path d="M610.0 368.1 C612.9 366.1 622.7 358.3 627.6 356.3 C632.5 354.3 637.4 356.3 639.4 356.3" stroke-width="1.65"/>
<path d="M460.0 169.3 C461.9 169.0 467.1 167.1 471.7 167.4 C476.3 167.7 484.8 170.7 487.4 171.3" stroke-width="1.65"/>
<path d="M503.0 140.0 C502.3 143.3 500.4 153.1 499.1 159.6 C497.8 166.1 495.9 175.9 495.2 179.1" stroke-width="1.65"/>
<path d="M518.7 140.0 C519.4 143.3 521.0 154.4 522.6 159.6 C524.2 164.8 527.5 169.4 528.5 171.3" stroke-width="1.65"/>
<path d="M596.9 140.0 C597.6 143.3 598.9 153.1 600.9 159.6 C602.9 166.1 606.1 174.2 608.7 179.1 C611.3 184.0 615.2 187.3 616.5 188.9" stroke-width="1.65"/>
<path d="M616.5 140.0 C615.9 143.3 613.9 154.7 612.6 159.6 C611.3 164.5 609.4 167.7 608.7 169.3" stroke-width="1.65"/>
<path d="M460.0 218.3 C463.3 219.0 473.1 221.5 479.6 222.2 C486.1 222.8 494.2 222.8 499.1 222.2 C504.0 221.5 507.3 219.0 508.9 218.3" stroke-width="1.65"/>
<path d="M460.0 237.8 C462.6 237.2 470.8 234.9 475.7 233.9 C480.6 232.9 485.4 231.2 489.3 231.9 C493.2 232.5 497.5 236.8 499.1 237.8" stroke-width="1.65"/>
<path d="M528.5 257.4 C530.1 256.1 534.1 251.6 538.3 249.6 C542.5 247.6 551.3 246.3 553.9 245.6" stroke-width="1.65"/>
<path d="M479.6 300.0 C480.2 296.8 481.9 286.4 483.5 280.9 C485.1 275.4 486.7 271.1 489.3 267.2 C491.9 263.3 497.5 259.0 499.1 257.4" stroke-width="1.65"/>
<path d="M596.9 253.5 C596.3 257.4 593.0 269.1 593.0 276.9 C593.0 284.6 596.3 296.1 596.9 300.0" stroke-width="1.65"/>
<path d="M636.1 265.2 C636.7 267.8 638.7 275.1 640.0 280.9 C641.3 286.7 643.3 296.8 643.9 300.0" stroke-width="1.65"/>
<path d="M655.6 267.2 C657.2 264.3 662.1 255.2 665.4 249.6 C668.7 244.1 671.9 237.5 675.2 233.9 C678.5 230.3 683.4 229.0 685.0 228.0" stroke-width="1.65"/>
<path d="M694.8 288.7 C696.4 286.7 700.3 280.5 704.5 276.9 C708.7 273.3 717.4 268.8 720.0 267.2" stroke-width="1.65"/>
<path d="M632.2 202.6 C634.5 203.9 641.0 209.4 645.9 210.4 C650.8 211.4 658.9 208.8 661.5 208.5" stroke-width="1.65"/>
<path d="M667.4 179.1 C670.3 179.8 678.8 181.4 685.0 183.0 C691.2 184.6 698.7 186.9 704.5 188.9 C710.3 190.9 717.4 193.8 720.0 194.8" stroke-width="1.65"/>
<path d="M612.6 222.2 C613.2 219.3 614.2 208.5 616.5 204.6 C618.8 200.7 623.0 200.3 626.3 198.7 C629.6 197.1 634.5 195.5 636.1 194.8" stroke-width="1.65"/>
<path d="M850.0 48.9 C852.0 48.9 857.5 49.6 861.7 48.9 C865.9 48.3 871.5 47.3 875.4 45.0 C879.3 42.7 882.6 38.8 885.2 35.2 C887.8 31.6 889.1 28.1 891.1 23.5 C893.0 18.9 895.6 11.7 896.9 7.8 C898.2 3.9 898.6 1.3 898.9 0.0" stroke-width="1.65"/>
<path d="M850.0 19.6 C851.3 19.3 854.5 19.6 857.8 17.6 C861.1 15.6 866.7 10.7 869.6 7.8 C872.5 4.9 874.4 1.3 875.4 0.0" stroke-width="1.65"/>
<path d="M855.9 19.6 C857.5 22.8 862.7 34.2 865.6 39.1 C868.5 44.0 870.9 44.3 873.5 48.9 C876.1 53.5 878.7 61.6 881.3 66.5 C883.9 71.4 884.5 75.6 889.1 78.2 C893.7 80.8 903.5 80.5 908.7 82.1 C913.9 83.7 918.5 87.0 920.4 88.0" stroke-width="1.65"/>
<path d="M879.3 78.2 C880.9 77.2 885.8 73.0 889.1 72.4 C892.4 71.8 897.3 74.0 898.9 74.3" stroke-width="1.65"/>
<path d="M850.0 88.0 C851.6 91.6 857.8 103.0 859.8 109.5 C861.8 116.0 861.7 121.2 861.7 127.1 C861.7 133.0 860.8 139.2 859.8 144.7 C858.8 150.2 856.6 157.4 855.9 160.0" stroke-width="1.65"/>
<path d="M1006.5 39.1 C1008.1 41.1 1013.0 46.7 1016.2 50.9 C1019.5 55.1 1022.7 60.0 1026.0 64.5 C1029.3 69.0 1034.2 75.9 1035.8 78.2" stroke-width="1.65"/>
<path d="M943.9 46.9 C944.6 45.6 947.8 43.6 947.8 39.1 C947.8 34.5 944.9 26.1 943.9 19.6 C942.9 13.1 942.2 3.3 941.9 0.0" stroke-width="1.65"/>
<path d="M941.9 19.6 L955.6 0.0" stroke-width="1.65"/>
<path d="M918.5 0.0 C920.8 2.0 928.2 8.4 932.1 11.7 C936.0 15.0 940.3 18.3 941.9 19.6" stroke-width="1.65"/>
<path d="M992.8 113.4 C995.7 112.1 1004.2 109.2 1010.4 105.6 C1016.6 102.0 1024.0 96.5 1029.9 91.9 C1035.8 87.3 1043.0 80.5 1045.6 78.2" stroke-width="1.65"/>
<path d="M963.4 109.5 C965.7 111.5 973.2 117.4 977.1 121.3 C981.0 125.2 983.0 129.8 986.9 133.0 C990.8 136.2 998.3 139.5 1000.6 140.8" stroke-width="1.65"/>
<path d="M979.1 160.0 C978.8 156.8 976.4 146.6 977.1 140.8 C977.7 135.0 980.4 129.4 983.0 125.2 C985.6 121.0 991.2 117.0 992.8 115.4" stroke-width="1.65"/>
<path d="M1061.2 25.4 C1061.8 27.7 1063.5 34.2 1065.1 39.1 C1066.7 44.0 1070.0 52.2 1071.0 54.8" stroke-width="1.65"/>
<path d="M1063.2 60.6 C1064.5 61.6 1067.1 62.6 1071.0 66.5 C1074.9 70.4 1084.1 81.2 1086.7 84.1" stroke-width="1.65"/>
<path d="M1055.4 64.5 C1057.0 66.1 1060.2 71.0 1065.1 74.3 C1070.0 77.6 1081.4 82.5 1084.7 84.1" stroke-width="1.65"/>
<path d="M898.9 160.0 C900.5 158.1 903.8 152.4 908.7 148.6 C913.6 144.8 925.0 138.8 928.2 136.9" stroke-width="1.65"/>
<path d="M1107.0 23.5 C1104.9 23.8 1098.9 22.8 1094.5 25.4 C1090.1 28.0 1085.0 34.2 1080.8 39.1 C1076.6 44.0 1071.0 52.2 1069.1 54.8" stroke-width="1.65"/>
<path d="M908.7 82.1 C912.0 82.8 923.3 84.5 928.2 86.1 C933.1 87.7 936.4 90.9 938.0 91.9" stroke-width="1.65"/>
<path d="M881.3 0.0 C880.0 2.0 876.8 8.1 873.5 11.7 C870.2 15.3 863.7 19.9 861.7 21.5" stroke-width="1.65"/>
<path d="M110.0 385.0 C112.0 387.3 117.5 395.4 121.7 398.7 C125.9 402.0 133.1 403.6 135.4 404.6" stroke-width="1.65"/>
<path d="M192.2 340.0 C192.9 341.9 194.2 348.4 196.1 351.7 C198.1 355.0 202.6 358.3 203.9 359.6" stroke-width="1.65"/>
<path d="M168.7 340.0 C169.7 341.6 173.0 346.2 174.6 349.8 C176.2 353.4 177.8 359.6 178.5 361.5" stroke-width="1.65"/>
<path d="M329.1 500.0 C337.2 491.6 366.2 460.6 378.0 449.6 C389.8 438.6 391.4 438.5 399.6 433.9 C407.7 429.3 420.4 425.5 426.9 422.2 C433.4 418.9 436.7 415.6 438.7 414.3" stroke-width="1.65"/>
<path d="M358.5 500.0 C365.3 493.6 388.2 469.7 399.6 461.3 C411.0 452.9 419.1 453.5 426.9 449.6 C434.7 445.7 443.2 439.8 446.5 437.8" stroke-width="1.65"/>
<path d="M387.8 500.0 C394.3 494.5 417.1 475.0 426.9 467.2 C436.7 459.5 443.2 455.8 446.5 453.5" stroke-width="1.65"/>
<path d="M299.8 500.0 C307.9 492.9 336.6 467.8 348.7 457.4 C360.8 447.0 368.3 441.1 372.2 437.8" stroke-width="1.65"/>
<path d="M290.0 453.5 C296.5 456.8 317.7 465.2 329.1 473.0 C340.5 480.8 353.6 495.5 358.5 500.0" stroke-width="1.65"/>
<path d="M319.3 455.4 C324.2 459.0 339.9 469.5 348.7 476.9 C357.5 484.3 368.3 496.1 372.2 500.0" stroke-width="1.65"/>
<path d="M348.7 449.6 C353.6 452.5 368.2 460.7 378.0 467.2 C387.8 473.7 399.9 483.2 407.4 488.7 C414.9 494.2 420.4 498.1 423.0 500.0" stroke-width="1.65"/>
<path d="M374.1 426.1 C379.6 430.0 398.6 443.1 407.4 449.6 C416.2 456.1 420.4 460.0 426.9 465.2 C433.4 470.4 440.0 475.1 446.5 480.9 C453.0 486.7 462.8 496.8 466.1 500.0" stroke-width="1.65"/>
<path d="M376.1 422.2 C380.0 420.6 391.8 416.0 399.6 412.4 C407.4 408.8 416.5 403.9 423.0 400.6 C429.5 397.3 436.1 394.1 438.7 392.8" stroke-width="1.65"/>
<path d="M313.5 347.8 C316.1 349.8 323.2 355.4 329.1 359.6 C335.0 363.9 343.5 369.1 348.7 373.3 C353.9 377.5 358.5 383.1 360.4 385.0" stroke-width="1.65"/>
<path d="M290.0 408.5 C293.3 407.9 303.1 406.2 309.6 404.6 C316.1 403.0 323.2 401.3 329.1 398.7 C335.0 396.1 341.5 391.2 344.8 388.9 C348.1 386.6 348.1 385.6 348.7 385.0" stroke-width="1.65"/>
<path d="M399.6 340.0 C399.6 343.3 398.9 353.1 399.6 359.6 C400.2 366.1 402.2 372.6 403.5 379.1 C404.8 385.6 406.8 395.4 407.4 398.7" stroke-width="1.65"/>
<path d="M426.9 340.0 C427.6 342.6 428.9 350.5 430.9 355.7 C432.9 360.9 437.4 366.1 438.7 371.3 C440.0 376.5 438.7 384.4 438.7 387.0" stroke-width="1.65"/>
<path d="M485.6 340.0 C485.9 346.5 487.6 366.1 487.6 379.1 C487.6 392.2 485.6 408.5 485.6 418.3 C485.6 428.1 486.9 431.3 487.6 437.8 C488.3 444.3 489.3 454.1 489.6 457.4" stroke-width="1.65"/>
<path d="M485.6 445.6 C488.9 445.3 498.7 443.7 505.2 443.7 C511.7 443.7 517.3 445.1 524.8 445.6 C532.3 446.1 545.8 446.4 550.0 446.6" stroke-width="1.65"/>
<path d="M520.9 340.0 C520.9 346.5 520.6 369.3 520.9 379.1 C521.2 388.9 522.5 395.4 522.8 398.7" stroke-width="1.65"/>
<path d="M485.6 385.0 C488.9 386.0 498.7 390.6 505.2 390.9 C511.7 391.2 521.5 387.6 524.8 387.0" stroke-width="1.65"/>
<path d="M405.4 455.4 C408.3 455.7 415.5 455.8 423.0 457.4 C430.5 459.0 445.8 463.9 450.4 465.2" stroke-width="1.65"/>
<path d="M290.0 363.5 C291.9 366.1 298.4 373.2 301.7 379.1 C305.0 385.0 308.3 395.4 309.6 398.7" stroke-width="1.65"/>
<path d="M290.0 426.1 C292.6 425.5 301.5 423.5 305.7 422.2 C309.9 420.9 313.8 418.9 315.4 418.3" stroke-width="1.65"/>
<path d="M547.0 649.2 C548.2 647.4 550.7 640.0 554.4 638.1 C558.1 636.2 566.8 638.1 569.3 638.1" stroke-width="1.65"/>
<path d="M350.0 615.8 C352.5 616.1 359.3 616.1 364.9 617.6 C370.5 619.1 378.9 623.1 383.5 625.0 C388.1 626.9 391.2 628.2 392.7 628.8" stroke-width="1.65"/>
<path d="M405.8 565.6 C405.5 567.8 405.5 573.3 403.9 578.6 C402.4 583.9 399.3 591.0 396.5 597.2 C393.7 603.4 390.3 610.2 387.2 615.8 C384.1 621.4 380.4 625.0 377.9 630.6 C375.4 636.2 374.2 643.6 372.3 649.2 C370.4 654.8 367.9 658.8 366.7 664.1 C365.5 669.4 365.2 672.8 364.9 680.8 C364.6 688.8 364.9 706.8 364.9 712.0" stroke-width="1.65"/>
<path d="M413.2 591.6 C414.1 595.0 417.2 606.1 418.8 612.0 C420.3 617.9 421.6 621.9 422.5 626.9 C423.4 631.9 423.7 635.6 424.3 641.8 C424.9 648.0 425.3 657.6 426.2 664.1 C427.1 670.6 427.7 675.2 429.9 680.8 C432.1 686.4 436.4 693.8 439.2 697.5 C442.0 701.2 444.1 700.7 446.6 703.1 C449.1 705.5 452.8 710.5 454.1 712.0" stroke-width="1.65"/>
<path d="M446.6 560.0 C446.9 563.1 447.6 572.4 448.5 578.6 C449.4 584.8 451.0 591.6 452.2 597.2 C453.4 602.8 455.6 608.0 455.9 612.0 C456.2 616.0 455.0 618.5 454.1 621.3 C453.2 624.1 451.0 627.5 450.4 628.8" stroke-width="1.65"/>
<path d="M483.8 647.3 C486.3 645.1 493.1 637.7 498.7 634.3 C504.3 630.9 513.0 628.8 517.3 626.9 C521.6 625.0 522.2 622.3 524.7 623.2 C527.2 624.1 530.2 630.3 532.1 632.5 C533.9 634.7 535.2 635.6 535.8 636.2" stroke-width="1.65"/>
<path d="M515.4 654.8 C517.3 653.2 523.1 648.6 526.5 645.5 C529.9 642.4 534.2 637.8 535.8 636.2" stroke-width="1.65"/>
<path d="M491.2 615.8 C491.8 614.9 493.4 611.5 495.0 610.2 C496.6 609.0 499.6 608.6 500.5 608.3" stroke-width="1.65"/>
<path d="M491.2 615.8 C491.5 617.3 491.8 621.9 493.1 625.0 C494.3 628.1 496.2 631.2 498.7 634.3 C501.2 637.4 505.2 640.2 508.0 643.6 C510.8 647.0 514.2 652.9 515.4 654.8" stroke-width="1.65"/>
<path d="M366.7 664.1 C368.0 665.3 370.8 669.0 374.2 671.5 C377.6 674.0 383.5 675.8 387.2 678.9 C390.9 682.0 393.4 687.3 396.5 690.1 C399.6 692.9 401.2 694.5 405.8 695.7 C410.4 696.9 418.7 697.2 424.3 697.5 C429.9 697.8 436.7 697.5 439.2 697.5" stroke-width="1.65"/>
<path d="M470.8 667.8 C469.2 669.6 464.6 675.2 461.5 678.9 C458.4 682.6 454.7 686.1 452.2 690.1 C449.7 694.1 447.5 700.9 446.6 703.1" stroke-width="1.65"/>
<path d="M565.6 597.2 C566.8 595.3 570.2 589.7 573.0 586.0 C575.8 582.3 579.2 578.3 582.3 574.9 C585.4 571.5 590.0 567.1 591.6 565.6" stroke-width="1.65"/>
<path d="M565.6 597.2 C563.7 600.0 557.8 609.3 554.4 613.9 C551.0 618.5 546.6 623.1 545.1 625.0" stroke-width="1.65"/>
<path d="M565.6 597.2 C568.4 598.1 577.0 602.4 582.3 602.7 C587.6 603.0 592.6 601.5 597.2 599.0 C601.8 596.5 607.9 589.8 610.0 587.9" stroke-width="1.65"/>
<path d="M535.8 675.2 C538.9 674.9 548.2 672.8 554.4 673.4 C560.6 674.0 566.8 676.1 573.0 678.9 C579.2 681.7 585.4 688.2 591.6 690.1 C597.8 692.0 606.9 690.1 610.0 690.1" stroke-width="1.65"/>
<path d="M573.0 712.0 C574.5 709.6 577.6 701.1 582.3 697.5 C586.9 693.9 597.8 691.3 600.9 690.1" stroke-width="1.65"/>
<path d="M350.0 712.0 L368.6 706.8" stroke-width="1.65"/>
<path d="M405.8 565.6 C408.9 566.5 417.5 569.0 424.3 571.2 C431.1 573.4 442.9 577.4 446.6 578.6" stroke-width="1.65"/>
<path d="M210.0 207.6 C213.3 210.2 223.1 217.8 229.6 223.3 C236.1 228.8 242.6 235.0 249.1 240.9 C255.6 246.8 262.8 252.3 268.7 258.5 C274.6 264.7 280.4 273.1 284.3 278.0 C288.2 282.9 288.9 283.6 292.2 287.8 C295.5 292.1 300.3 299.6 303.9 303.5 C307.5 307.4 309.8 309.4 313.7 311.3 C317.6 313.2 325.1 314.6 327.4 315.2" stroke-width="1.65"/>
<path d="M376.3 190.0 C376.0 193.3 374.0 203.1 374.3 209.6 C374.6 216.1 376.9 221.9 378.2 229.1 C379.5 236.3 382.2 246.1 382.2 252.6 C382.2 259.1 379.8 265.0 378.2 268.3 C376.6 271.6 375.0 269.9 372.4 272.2 C369.8 274.5 364.9 278.6 362.6 281.9 C360.3 285.1 358.7 287.4 358.7 291.7 C358.7 295.9 361.3 301.5 362.6 307.4 C363.9 313.3 365.2 319.8 366.5 326.9 C367.8 334.0 369.8 346.1 370.4 350.0" stroke-width="1.65"/>
<path d="M358.7 235.0 C360.0 237.9 364.6 247.1 366.5 252.6 C368.4 258.2 369.8 265.7 370.4 268.3" stroke-width="1.65"/>
<path d="M378.2 268.3 C379.5 269.9 383.1 274.1 386.1 278.0 C389.0 281.9 392.7 289.7 395.9 291.7 C399.2 293.7 400.7 290.4 405.6 289.8 C410.5 289.2 418.7 288.8 425.2 287.8 C431.7 286.8 437.3 285.2 444.8 283.9 C452.3 282.6 465.8 280.6 470.0 280.0" stroke-width="1.65"/>
<path d="M311.7 311.3 C314.3 309.4 321.5 303.2 327.4 299.6 C333.3 296.0 341.0 292.4 346.9 289.8 C352.8 287.2 360.0 284.9 362.6 283.9" stroke-width="1.65"/>
<path d="M395.9 291.7 C394.3 294.3 389.4 301.5 386.1 307.4 C382.8 313.3 379.6 319.8 376.3 326.9 C373.0 334.0 368.1 346.1 366.5 350.0" stroke-width="1.65"/>
<path d="M415.4 238.9 C415.7 242.2 417.4 252.0 417.4 258.5 C417.4 265.0 416.1 272.5 415.4 278.0 C414.8 283.5 414.5 286.1 413.5 291.7 C412.5 297.2 410.6 304.8 409.6 311.3 C408.6 317.8 408.3 324.4 407.6 330.9 C406.9 337.3 405.9 346.8 405.6 350.0" stroke-width="1.65"/>
<path d="M419.3 240.9 C420.9 243.5 425.5 251.9 429.1 256.5 C432.7 261.1 437.0 264.7 440.9 268.3 C444.8 271.9 450.0 274.8 452.6 278.0 C455.2 281.2 456.2 282.9 456.5 287.8 C456.8 292.7 455.2 300.9 454.5 307.4 C453.8 313.9 452.6 319.8 452.6 326.9 C452.6 334.0 454.2 346.1 454.5 350.0" stroke-width="1.65"/>
<path d="M405.6 311.3 C408.9 310.6 418.7 307.7 425.2 307.4 C431.7 307.1 437.3 309.3 444.8 309.3 C452.3 309.3 465.8 307.7 470.0 307.4" stroke-width="1.65"/>
<path d="M458.5 238.9 C459.5 242.2 462.4 254.3 464.3 258.5 C466.2 262.7 469.1 263.3 470.0 264.3" stroke-width="1.65"/>
<path d="M327.4 326.9 C330.7 326.2 340.4 323.0 346.9 323.0 C353.4 323.0 360.0 326.6 366.5 326.9 C373.0 327.2 382.8 325.3 386.1 325.0" stroke-width="1.65"/>
<path d="M294.1 350.0 C295.4 346.8 298.6 336.0 301.9 330.9 C305.2 325.8 311.7 321.1 313.7 319.1" stroke-width="1.65"/>
<path d="M362.6 215.4 C363.2 213.1 364.9 205.9 366.5 201.7 C368.1 197.5 371.4 191.9 372.4 190.0" stroke-width="1.65"/>
<path d="M210.0 274.1 C211.3 277.0 215.2 286.1 217.8 291.7 C220.4 297.2 222.8 301.5 225.7 307.4 C228.6 313.3 233.1 319.8 235.4 326.9 C237.7 334.0 238.6 346.1 239.3 350.0" stroke-width="1.65"/>
<path d="M327.4 190.0 C329.0 191.3 333.3 196.2 337.2 197.8 C341.1 199.4 346.7 200.5 350.9 199.8 C355.1 199.2 360.6 194.9 362.6 193.9" stroke-width="1.65"/>
<path d="M470.0 238.9 C467.4 238.2 458.7 237.3 454.5 235.0 C450.3 232.7 448.0 229.4 444.8 225.2 C441.5 221.0 436.6 212.2 435.0 209.6" stroke-width="1.65"/>
<path d="M673.5 160.0 C676.1 156.2 683.2 144.0 689.1 136.9 C695.0 129.8 702.8 122.9 708.7 117.4 C714.6 111.9 719.4 108.3 724.3 103.7 C729.2 99.1 732.1 94.2 738.0 90.0 C743.9 85.8 751.4 82.2 759.6 78.3 C767.7 74.4 778.1 68.3 786.9 66.5 C795.7 64.7 804.2 68.8 812.4 67.5 C820.6 66.2 830.0 61.5 835.9 58.7 C841.8 55.9 842.7 52.7 847.6 50.9 C852.5 49.1 860.6 48.7 865.2 47.9 C869.8 47.1 871.7 47.5 875.0 46.0 C878.3 44.5 880.6 43.5 884.8 39.1 C889.0 34.7 896.2 24.2 900.4 19.6 C904.6 15.0 908.4 13.0 910.0 11.7" stroke-width="2.0"/>
<path d="M802.6 148.7 C806.5 147.7 818.9 144.1 826.1 142.8 C833.3 141.5 839.1 142.2 845.6 140.9 C852.1 139.6 858.7 136.6 865.2 135.0 C871.7 133.4 877.3 133.4 884.8 131.1 C892.3 128.8 905.8 122.9 910.0 121.3" stroke-width="2.0"/>
<path d="M926.9 178.9 C924.3 181.5 916.5 189.4 911.3 194.6 C906.1 199.8 901.1 204.7 895.6 210.2 C890.0 215.7 884.2 221.6 878.0 227.8 C871.8 234.0 864.7 241.2 858.5 247.4 C852.3 253.6 846.5 259.1 840.9 265.0 C835.4 270.9 828.5 278.4 825.2 282.6 C821.9 286.8 821.9 288.8 821.3 290.0" stroke-width="2.0"/>
<path d="M809.6 171.1 C814.5 169.5 831.1 164.2 838.9 161.3 C846.7 158.4 848.4 155.1 856.5 153.5 C864.6 151.9 880.6 152.2 887.8 151.5 C895.0 150.8 894.7 148.3 899.6 149.6 C904.5 150.9 911.0 156.4 917.2 159.3 C923.4 162.2 929.5 164.9 936.7 167.2 C943.9 169.5 954.3 171.4 960.2 173.0 C966.1 174.6 969.0 174.7 971.9 177.0 C974.8 179.3 976.8 183.1 977.8 186.7 C978.8 190.3 979.1 194.2 977.8 198.5 C976.5 202.8 972.0 207.3 970.0 212.2 C968.0 217.1 967.1 221.9 966.1 227.8 C965.1 233.7 965.1 240.9 964.1 247.4 C963.1 253.9 961.2 259.8 960.2 266.9 C959.2 274.0 958.5 286.1 958.2 290.0" stroke-width="2.0"/>
<path d="M330.0 448.3 C336.5 446.7 361.9 441.8 369.1 438.5 C376.3 435.2 372.3 433.6 373.0 428.7 C373.7 423.8 373.7 415.6 373.0 409.1 C372.3 402.6 371.4 394.2 369.1 389.6 C366.8 385.0 360.9 383.0 359.3 381.7" stroke-width="2.0"/>
<path d="M697.4 555.9 C700.7 557.2 710.4 560.1 716.9 563.7 C723.4 567.3 731.3 573.2 736.5 577.4 C741.7 581.6 744.9 586.2 748.2 589.1 C751.5 592.0 751.5 593.0 756.1 595.0 C760.7 597.0 768.1 600.1 775.6 600.9 C783.1 601.7 790.4 602.2 801.1 599.9 C811.8 597.6 833.5 589.3 840.0 587.2" stroke-width="2.0"/>
<path d="M643.9 140.0 C641.3 143.6 634.1 154.0 628.2 161.5 C622.3 169.0 613.9 178.8 608.7 185.0 C603.5 191.2 600.8 194.1 596.9 198.7 C593.0 203.3 589.1 207.8 585.2 212.4 C581.3 217.0 577.4 221.2 573.5 226.1 C569.6 231.0 565.0 236.5 561.7 241.7 C558.4 246.9 555.9 251.5 553.9 257.4 C552.0 263.3 551.0 269.8 550.0 276.9 C549.0 284.0 548.3 296.1 548.0 300.0" stroke-width="2.0"/>
<path d="M688.9 140.0 C686.6 142.6 680.8 149.2 675.2 155.7 C669.6 162.2 660.8 173.2 655.6 179.1 C650.4 185.0 647.8 187.0 643.9 190.9 C640.0 194.8 636.1 198.7 632.2 202.6 C628.3 206.5 623.7 211.0 620.4 214.3 C617.1 217.6 615.8 218.3 612.6 222.2 C609.3 226.1 604.2 233.2 600.9 237.8 C597.6 242.4 594.3 247.6 593.0 249.6" stroke-width="2.0"/>
<path d="M460.0 198.7 C463.3 198.0 473.1 196.1 479.6 194.8 C486.1 193.5 492.6 192.0 499.1 190.9 C505.6 189.7 512.2 188.5 518.7 187.9 C525.2 187.2 531.8 187.0 538.3 187.0 C544.8 187.0 552.6 187.6 557.8 187.9 C563.0 188.2 566.3 188.4 569.6 188.9 C572.9 189.4 576.1 190.6 577.4 190.9" stroke-width="2.0"/>
<path d="M235.2 340.0 C237.2 341.0 242.3 342.3 246.9 345.9 C251.5 349.5 257.7 355.3 262.6 361.5 C267.5 367.7 272.4 376.5 276.3 383.0 C280.2 389.5 282.8 394.7 286.1 400.6 C289.4 406.5 292.7 412.7 295.9 418.3 C299.2 423.8 302.7 429.3 305.6 433.9 C308.5 438.4 310.2 442.0 313.5 445.6 C316.8 449.2 321.6 452.1 325.2 455.4 C328.8 458.7 331.7 461.6 335.0 465.2 C338.3 468.8 341.2 473.0 344.8 476.9 C348.4 480.8 353.2 484.9 356.5 488.7 C359.8 492.6 363.0 498.1 364.3 500.0" stroke-width="2.0"/>
<path d="M291.3 525.4 C294.6 526.7 303.4 530.4 310.9 533.3 C318.4 536.2 328.5 540.4 336.3 543.0 C344.1 545.6 349.6 547.6 357.8 548.9 C365.9 550.2 373.2 550.2 385.2 550.9 C397.2 551.5 422.5 552.5 430.0 552.8" stroke-width="2.0"/>
<path d="M768.5 376.9 C769.5 374.4 771.5 367.6 774.4 362.2 C777.3 356.8 781.7 351.5 786.1 344.6 C790.5 337.8 795.9 328.5 800.8 321.1 C805.7 313.8 811.1 307.4 815.5 300.5 C819.9 293.6 825.2 283.4 827.2 280.0" stroke-width="2.0"/>
<path d="M565.6 188.9 C566.3 189.7 568.0 192.5 569.6 193.8 C571.2 195.1 573.3 196.5 575.4 196.7 C577.5 196.9 580.7 195.9 582.3 194.8 C583.9 193.7 585.4 191.4 585.2 189.9 C585.0 188.4 582.9 186.8 581.3 186.0 C579.7 185.2 576.4 185.2 575.4 185.0" stroke-width="2.0"/>
<path d="M850.0 7.8 C851.6 9.4 855.9 14.3 859.8 17.6 C863.7 20.9 869.3 24.5 873.5 27.4 C877.7 30.3 879.3 32.9 885.2 35.2 C891.1 37.5 901.5 39.5 908.7 41.1 C915.9 42.7 922.3 43.4 928.2 45.0 C934.1 46.6 939.3 48.6 943.9 50.9 C948.5 53.2 952.7 55.8 955.6 58.7 C958.5 61.6 958.9 65.2 961.5 68.5 C964.1 71.8 967.7 74.6 971.3 78.2 C974.9 81.8 980.1 86.1 983.0 90.0 C985.9 93.9 987.3 97.8 988.9 101.7 C990.5 105.6 991.2 109.2 992.8 113.4 C994.4 117.6 997.3 122.5 998.6 127.1 C999.9 131.7 999.9 135.3 1000.6 140.8 C1001.3 146.3 1002.3 156.8 1002.6 160.0" stroke-width="2.0"/>
<path d="M850.0 133.0 C853.3 132.0 863.1 129.0 869.6 127.1 C876.1 125.1 882.6 123.9 889.1 121.3 C895.6 118.7 902.2 115.1 908.7 111.5 C915.2 107.9 922.7 103.0 928.2 99.7 C933.7 96.4 937.3 94.8 941.9 91.9 C946.5 89.0 952.3 86.0 955.6 82.1 C958.9 78.2 960.5 70.8 961.5 68.5" stroke-width="2.0"/>
<path d="M963.4 68.5 C967.3 66.2 979.7 59.7 986.9 54.8 C994.1 49.9 1000.0 43.0 1006.5 39.1 C1013.0 35.2 1022.8 32.6 1026.0 31.3" stroke-width="2.0"/>
<path d="M967.4 105.6 C970.7 104.6 979.7 101.0 986.9 99.7 C994.1 98.4 1003.9 99.8 1010.4 97.8 C1016.9 95.9 1021.4 90.9 1026.0 88.0 C1030.6 85.1 1034.5 82.1 1037.8 80.2 C1041.1 78.2 1041.0 79.2 1045.6 76.3 C1050.1 73.4 1060.2 66.5 1065.1 62.6 C1070.0 58.7 1070.0 56.7 1074.9 52.8 C1079.8 48.9 1089.2 43.3 1094.5 39.1 C1099.8 34.9 1104.9 29.4 1107.0 27.4" stroke-width="2.0"/>
<path d="M850.0 152.6 C853.3 151.9 863.1 150.6 869.6 148.6 C876.1 146.6 882.6 143.1 889.1 140.8 C895.6 138.5 902.2 137.3 908.7 135.0 C915.2 132.7 921.7 130.4 928.2 127.1 C934.7 123.8 941.9 118.3 947.8 115.4 C953.7 112.5 958.5 111.8 963.4 109.5 C968.3 107.2 973.2 103.3 977.1 101.7 C981.0 100.1 985.3 100.0 986.9 99.7" stroke-width="2.0"/>
<path d="M372.2 433.9 C372.5 431.3 374.1 423.2 374.1 418.3 C374.1 413.4 373.2 408.5 372.2 404.6 C371.2 400.7 370.6 397.7 368.3 394.8 C366.0 391.9 361.8 388.6 358.5 387.0 C355.2 385.4 350.3 385.3 348.7 385.0" stroke-width="2.0"/>
<path d="M348.7 385.0 C352.0 381.4 363.1 369.4 368.3 363.5 C373.5 357.6 376.8 353.7 380.0 349.8 C383.2 345.9 386.5 341.6 387.8 340.0" stroke-width="2.0"/>
<path d="M350.0 647.3 C353.1 647.3 362.4 646.7 368.6 647.3 C374.8 647.9 381.0 650.2 387.2 651.1 C393.4 652.0 399.6 653.2 405.8 652.9 C412.0 652.6 418.1 650.4 424.3 649.2 C430.5 648.0 436.7 645.8 442.9 645.5 C449.1 645.2 454.7 647.0 461.5 647.3 C468.3 647.6 477.6 646.4 483.8 647.3 C490.0 648.2 493.1 651.6 498.7 652.9 C504.3 654.1 512.7 652.9 517.3 654.8 C521.9 656.7 523.4 660.7 526.5 664.1 C529.6 667.5 533.3 670.2 535.8 675.2 C538.3 680.2 540.2 687.7 541.4 693.8 C542.7 699.9 543.0 709.0 543.3 712.0" stroke-width="2.0"/>
<path d="M448.5 578.6 C450.7 579.5 456.2 582.0 461.5 584.2 C466.8 586.4 474.8 589.1 480.1 591.6 C485.4 594.1 489.4 596.2 493.1 599.0 C496.8 601.8 499.0 604.9 502.4 608.3 C505.8 611.7 511.0 616.7 513.5 619.5 C516.0 622.3 515.4 621.3 517.3 625.0 C519.2 628.7 523.5 639.0 524.7 641.8" stroke-width="2.0"/>
<path d="M650.0 135.0 C653.9 131.1 666.0 120.0 673.5 111.5 C681.0 103.0 688.1 93.9 695.0 84.1 C701.9 74.3 709.4 60.3 714.6 52.8 C719.8 45.3 723.7 43.0 726.3 39.1 C728.9 35.2 729.2 33.9 730.2 29.3 C731.2 24.7 731.6 15.9 732.2 11.7 C732.9 7.5 733.4 5.9 734.1 3.9 C734.7 2.0 735.8 0.7 736.1 0.0" stroke-width="2.6"/>
<path d="M679.8 460.0 C678.8 463.3 676.5 473.1 673.9 479.6 C671.3 486.1 666.7 492.6 664.1 499.1 C661.5 505.6 659.4 512.2 658.3 518.7 C657.2 525.2 657.3 531.8 657.3 538.3 C657.3 544.8 658.5 551.3 658.3 557.8 C658.1 564.3 658.3 570.9 656.3 577.4 C654.3 583.9 649.4 589.8 646.5 596.9 C643.6 604.0 640.0 616.1 638.7 620.0" stroke-width="2.6"/>
<path d="M170.0 554.8 C176.5 553.2 196.1 548.3 209.1 545.0 C222.2 541.7 237.9 537.8 248.3 535.2 C258.7 532.6 265.8 529.6 271.7 529.3 C277.6 529.0 280.2 531.3 283.5 533.3 C286.8 535.3 288.0 538.5 291.3 541.1 C294.5 543.7 297.1 546.6 303.0 548.9 C308.9 551.2 316.1 553.5 326.5 554.8 C336.9 556.1 352.5 556.1 365.6 556.7 C378.6 557.4 394.1 558.1 404.8 558.7 C415.5 559.4 425.8 560.3 430.0 560.6" stroke-width="2.6"/>
<path d="M639.4 356.3 C641.8 358.3 647.6 364.2 654.0 368.1 C660.4 372.0 670.1 376.9 677.5 379.8 C684.9 382.7 690.8 383.8 698.1 385.7 C705.4 387.6 714.2 390.3 721.5 391.5 C728.8 392.7 736.2 394.0 742.1 393.0 C748.0 392.0 752.4 388.4 756.8 385.7 C761.2 383.0 763.6 378.9 768.5 376.9 C773.4 374.9 778.3 373.4 786.1 373.9 C793.9 374.4 805.7 377.4 815.5 379.8 C825.3 382.2 836.5 386.2 844.8 388.6 C853.1 391.1 858.1 393.0 865.4 394.5 C872.8 396.0 882.6 397.9 888.9 397.4 C895.3 396.9 900.0 393.9 903.5 391.5 C907.0 389.1 908.9 384.2 910.0 382.7" stroke-width="2.6"/>
<path d="M698.1 385.7 C697.1 390.1 694.2 403.3 692.2 412.1 C690.2 420.9 688.3 430.2 686.3 438.5 C684.3 446.8 682.4 454.2 680.4 462.0 C678.5 469.8 676.5 477.7 674.6 485.5 C672.6 493.3 670.2 503.2 668.7 509.0 C667.2 514.8 666.3 518.2 665.8 520.1" stroke-width="2.6"/>
<path d="M483.8 560.0 C486.0 562.5 491.8 569.3 496.8 574.9 C501.7 580.5 507.6 587.3 513.5 593.5 C519.4 599.7 527.0 607.0 532.1 612.0 C537.2 617.0 541.1 619.5 544.2 623.2 C547.3 626.9 549.0 630.3 550.7 634.3 C552.4 638.3 553.8 645.1 554.4 647.3" stroke-width="2.6"/>
<path d="M229.6 350.0 C234.5 344.5 249.8 327.9 258.9 317.2 C268.0 306.5 276.1 294.0 284.3 285.9 C292.4 277.8 300.0 273.9 307.8 268.3 C315.6 262.8 323.5 258.5 331.3 252.6 C339.1 246.7 348.9 238.6 354.8 233.0 C360.7 227.4 361.3 223.5 366.5 219.3 C371.7 215.1 379.6 210.9 386.1 207.6 C392.6 204.4 399.1 201.8 405.6 199.8 C412.1 197.8 414.5 196.2 425.2 195.9 C435.9 195.6 462.5 197.5 470.0 197.8" stroke-width="2.6"/>
<path d="M577.4 140.0 C577.1 143.3 575.9 153.1 575.4 159.6 C574.9 166.1 574.4 172.6 574.4 179.1 C574.4 185.6 574.9 192.2 575.4 198.7 C575.9 205.2 576.4 211.8 577.4 218.3 C578.4 224.8 580.3 231.3 581.3 237.8 C582.3 244.3 583.0 250.9 583.3 257.4 C583.6 263.9 583.1 269.8 583.3 276.9 C583.4 284.0 584.1 296.1 584.2 300.0" stroke-width="3.4"/>
<path d="M585.2 198.7 C585.5 202.0 586.7 211.8 587.2 218.3 C587.7 224.8 587.8 231.3 588.1 237.8 C588.4 244.3 588.9 250.9 589.1 257.4 C589.3 263.9 589.1 269.8 589.1 276.9 C589.1 284.0 589.1 296.1 589.1 300.0" stroke-width="3.4"/>
<path d="M110.0 385.0 C113.3 384.0 124.4 381.4 129.6 379.1 C134.8 376.8 136.4 373.6 141.3 371.3 C146.2 369.0 151.1 367.3 158.9 365.4 C166.7 363.4 180.1 361.2 188.3 359.6 C196.4 358.0 201.3 357.7 207.8 355.7 C214.3 353.7 222.5 350.1 227.4 347.8 C232.3 345.5 234.0 343.3 237.2 342.0 C240.5 340.7 245.3 340.3 246.9 340.0" stroke-width="3.4"/>
<path d="M476.4 560.0 C478.9 562.8 485.9 570.8 491.2 576.7 C496.5 582.6 502.1 589.1 508.0 595.3 C513.9 601.5 521.2 608.6 526.5 613.9 C531.8 619.2 536.5 622.9 539.6 626.9 C542.7 630.9 543.9 634.4 545.1 638.1 C546.3 641.8 547.0 645.2 547.0 649.2 C547.0 653.2 547.0 657.2 545.1 662.2 C543.2 667.2 538.9 673.6 535.8 678.9 C532.7 684.2 529.3 688.3 526.5 693.8 C523.7 699.3 520.3 709.0 519.1 712.0" stroke-width="3.4"/>
<path d="M547.0 649.2 C549.8 649.5 557.8 651.2 563.7 651.1 C569.6 651.0 574.6 649.2 582.3 648.3 C590.0 647.4 605.4 646.0 610.0 645.5" stroke-width="3.4"/>
</g>
<g font-family="Liberation Sans, Arial, sans-serif" fill="#262626" stroke="#ffffff" stroke-width="2.2" stroke-opacity="0.75" paint-order="stroke" stroke-linejoin="round">
<text x="135.3" y="41.3" font-size="12.6" textLength="112.7" lengthAdjust="spacingAndGlyphs">Quesnoy-sur-Deûle</text>
<text x="12.0" y="74.6" font-size="10.4" textLength="52.6" lengthAdjust="spacingAndGlyphs">La Houlette</text>
<text x="122.9" y="124.7" font-size="10.4" textLength="66.0" lengthAdjust="spacingAndGlyphs">L'Amidonnerie</text>
<text x="275.2" y="100.1" font-size="10.4" textLength="79.9" lengthAdjust="spacingAndGlyphs">Les Trois Louches</text>
<text x="43.5" y="179.0" font-size="10.4" textLength="67.5" lengthAdjust="spacingAndGlyphs">Le Funquereau</text>
<text x="358.0" y="66.4" font-size="10.4" textLength="35.6" lengthAdjust="spacingAndGlyphs">La Balle</text>
<text x="529.6" y="46.1" font-size="10.4" textLength="47.8" lengthAdjust="spacingAndGlyphs">Le Jambon</text>
<text x="482.6" y="88.6" font-size="12.6" textLength="51.3" lengthAdjust="spacingAndGlyphs">Bondues</text>
<text x="636.2" y="91.8" font-size="12.6" textLength="54.4" lengthAdjust="spacingAndGlyphs">Mouvaux</text>
<text x="659.0" y="179.5" font-size="10.4" textLength="51.3" lengthAdjust="spacingAndGlyphs">Le Capreau</text>
<text x="1009.5" y="16.3" font-size="10.4" textLength="74.0" lengthAdjust="spacingAndGlyphs">Herseaux-Gare -</text>
<text x="1006.0" y="28.3" font-size="10.4" textLength="80.0" lengthAdjust="spacingAndGlyphs">Herzeeuw Station</text>
<text x="907.3" y="99.0" font-size="12.6" textLength="56.3" lengthAdjust="spacingAndGlyphs">Wattrelos</text>
<text x="1019.8" y="74.4" font-size="10.4" textLength="41.7" lengthAdjust="spacingAndGlyphs">Gauquier</text>
<text x="1072.0" y="75.0" font-size="12.6" textLength="70.0" lengthAdjust="spacingAndGlyphs">Estaimpuis</text>
<text x="1035.6" y="120.8" font-size="10.4" textLength="42.9" lengthAdjust="spacingAndGlyphs">Le Plouys</text>
<text x="980.2" y="162.8" font-size="10.4" textLength="55.8" lengthAdjust="spacingAndGlyphs">Grimonpont</text>
<text x="1093.7" y="175.0" font-size="12.6" textLength="70.0" lengthAdjust="spacingAndGlyphs">Leers-Nord</text>
<text x="329.4" y="182.8" font-size="12.6" textLength="80.5" lengthAdjust="spacingAndGlyphs">Wambrechies</text>
<text x="225.8" y="191.0" font-size="10.4" textLength="79.9" lengthAdjust="spacingAndGlyphs">Le Bleu Bordeaux</text>
<text x="280.7" y="209.1" font-size="10.4" textLength="87.0" lengthAdjust="spacingAndGlyphs">La Clé des Champs</text>
<text x="146.2" y="208.0" font-size="12.6" textLength="68.1" lengthAdjust="spacingAndGlyphs">Verlinghem</text>
<text x="36.6" y="220.9" font-size="10.4" textLength="48.3" lengthAdjust="spacingAndGlyphs">La Prévôté</text>
<text x="230.6" y="254.2" font-size="10.4" textLength="51.8" lengthAdjust="spacingAndGlyphs">Le Corbeau</text>
<text x="68.5" y="282.9" font-size="12.6" textLength="63.6" lengthAdjust="spacingAndGlyphs">Pérenchies</text>
<text x="285.5" y="321.8" font-size="12.6" textLength="116.3" lengthAdjust="spacingAndGlyphs">Saint-André-lez-Lille</text>
<text x="-16.0" y="349.9" font-size="12.6" textLength="77.0" lengthAdjust="spacingAndGlyphs">Prémesques</text>
<text x="499.1" y="235.0" font-size="12.6" textLength="102.7" lengthAdjust="spacingAndGlyphs">Marcq-en-Barœul</text>
<text x="358.0" y="237.8" font-size="12.6" textLength="109.6" lengthAdjust="spacingAndGlyphs">Marquette-lez-Lille</text>
<text x="404.2" y="278.1" font-size="10.4" textLength="79.5" lengthAdjust="spacingAndGlyphs">Le Pont de Marcq</text>
<text x="611.0" y="276.3" font-size="12.6" textLength="65.2" lengthAdjust="spacingAndGlyphs">Wasquehal</text>
<text x="715.6" y="215.6" font-size="12.6" textLength="31.1" lengthAdjust="spacingAndGlyphs">Croix</text>
<text x="403.8" y="357.2" font-size="12.6" textLength="77.6" lengthAdjust="spacingAndGlyphs">La Madeleine</text>
<text x="1005.2" y="221.1" font-size="12.6" textLength="30.9" lengthAdjust="spacingAndGlyphs">Leers</text>
<text x="1045.9" y="248.1" font-size="10.4" textLength="39.8" lengthAdjust="spacingAndGlyphs">Gibraltar</text>
<text x="895.1" y="264.6" font-size="12.6" textLength="86.2" lengthAdjust="spacingAndGlyphs">Lys-lez-Lannoy</text>
<text x="896.2" y="291.6" font-size="12.6" textLength="42.4" lengthAdjust="spacingAndGlyphs">Lannoy</text>
<text x="965.8" y="315.5" font-size="12.6" textLength="51.8" lengthAdjust="spacingAndGlyphs">Toufflers</text>
<text x="1100.3" y="287.9" font-size="12.6" textLength="40.0" lengthAdjust="spacingAndGlyphs">Nechin</text>
<text x="812.4" y="358.9" font-size="12.6" textLength="27.0" lengthAdjust="spacingAndGlyphs">Hem</text>
<text x="232.4" y="393.0" font-size="12.6" textLength="68.3" lengthAdjust="spacingAndGlyphs">Lambersart</text>
<text x="121.4" y="404.3" font-size="12.6" textLength="45.1" lengthAdjust="spacingAndGlyphs">Lomme</text>
<text x="26.5" y="409.3" font-size="12.6" textLength="67.7" lengthAdjust="spacingAndGlyphs">Capinghem</text>
<text x="33.1" y="442.0" font-size="10.4" textLength="65.9" lengthAdjust="spacingAndGlyphs">Cité des Broux</text>
<text x="-46.0" y="456.1" font-size="12.6" textLength="63.8" lengthAdjust="spacingAndGlyphs">Ennetières-</text>
<text x="-41.0" y="471.3" font-size="12.6" textLength="59.0" lengthAdjust="spacingAndGlyphs">en-Weppes</text>
<text x="253.5" y="482.6" font-size="10.4" textLength="52.2" lengthAdjust="spacingAndGlyphs">Bois-Blancs</text>
<text x="18.5" y="509.4" font-size="12.6" textLength="38.5" lengthAdjust="spacingAndGlyphs">Englos</text>
<text x="99.4" y="515.9" font-size="12.6" textLength="55.1" lengthAdjust="spacingAndGlyphs">Sequedin</text>
<text x="665.3" y="365.8" font-size="10.4" textLength="42.5" lengthAdjust="spacingAndGlyphs">Babylone</text>
<text x="374.4" y="412.1" font-size="10.4" textLength="46.4" lengthAdjust="spacingAndGlyphs">Vieux-Lille</text>
<text x="519.1" y="419.8" font-size="12.6" textLength="97.5" lengthAdjust="spacingAndGlyphs">Mons-en-Barœul</text>
<text x="395.1" y="455.0" font-size="15.2" textLength="27.9" lengthAdjust="spacingAndGlyphs">Lille</text>
<text x="595.7" y="466.3" font-size="10.4" textLength="46.4" lengthAdjust="spacingAndGlyphs">Flers Neuf</text>
<text x="489.8" y="472.4" font-size="10.4" textLength="22.4" lengthAdjust="spacingAndGlyphs">Fives</text>
<text x="654.0" y="490.5" font-size="10.4" textLength="63.1" lengthAdjust="spacingAndGlyphs">Saint-Sauveur</text>
<text x="534.4" y="504.0" font-size="12.6" textLength="66.3" lengthAdjust="spacingAndGlyphs">Hellemmes</text>
<text x="1038.3" y="373.8" font-size="10.4" textLength="27.8" lengthAdjust="spacingAndGlyphs">Cahos</text>
<text x="1087.2" y="393.4" font-size="10.4" textLength="34.0" lengthAdjust="spacingAndGlyphs">Forzies</text>
<text x="904.4" y="402.8" font-size="12.6" textLength="98.0" lengthAdjust="spacingAndGlyphs">Sailly-lez-Lannoy</text>
<text x="789.6" y="459.4" font-size="12.6" textLength="108.8" lengthAdjust="spacingAndGlyphs">Forest-sur-Marque</text>
<text x="991.0" y="486.5" font-size="12.6" textLength="47.3" lengthAdjust="spacingAndGlyphs">Willems</text>
<text x="1030.6" y="533.6" font-size="10.4" textLength="31.2" lengthAdjust="spacingAndGlyphs">Breuze</text>
<text x="254.6" y="551.8" font-size="10.4" textLength="99.0" lengthAdjust="spacingAndGlyphs">Faubourg de Béthune</text>
<text x="336.8" y="584.0" font-size="10.4" textLength="38.5" lengthAdjust="spacingAndGlyphs">Lille-Sud</text>
<text x="106.6" y="603.2" font-size="12.6" textLength="70.1" lengthAdjust="spacingAndGlyphs">Haubourdin</text>
<text x="231.3" y="604.0" font-size="12.6" textLength="27.6" lengthAdjust="spacingAndGlyphs">Loos</text>
<text x="14.8" y="666.7" font-size="12.6" textLength="38.9" lengthAdjust="spacingAndGlyphs">Santes</text>
<text x="60.5" y="666.3" font-size="10.4" textLength="40.2" lengthAdjust="spacingAndGlyphs">La Rache</text>
<text x="50.5" y="695.0" font-size="10.4" textLength="44.1" lengthAdjust="spacingAndGlyphs">Le Cornet</text>
<text x="182.1" y="704.1" font-size="12.6" textLength="53.3" lengthAdjust="spacingAndGlyphs">Emmerin</text>
<text x="247.6" y="710.7" font-size="10.4" textLength="46.6" lengthAdjust="spacingAndGlyphs">Fléquières</text>
<text x="384.7" y="546.0" font-size="10.4" textLength="57.2" lengthAdjust="spacingAndGlyphs">Lille-Moulins</text>
<text x="593.1" y="548.8" font-size="12.6" textLength="102.3" lengthAdjust="spacingAndGlyphs">Villeneuve-d'Ascq</text>
<text x="565.5" y="574.3" font-size="12.6" textLength="54.8" lengthAdjust="spacingAndGlyphs">Lezennes</text>
<text x="708.0" y="610.4" font-size="10.4" textLength="70.9" lengthAdjust="spacingAndGlyphs">La Haute-Borne</text>
<text x="377.7" y="640.0" font-size="12.6" textLength="105.5" lengthAdjust="spacingAndGlyphs">Faches-Thumesnil</text>
<text x="619.9" y="646.1" font-size="10.4" textLength="89.2" lengthAdjust="spacingAndGlyphs">Les Quatre Cantons</text>
<text x="563.1" y="685.9" font-size="10.4" textLength="76.8" lengthAdjust="spacingAndGlyphs">Quartier des Arts</text>
<text x="547.4" y="712.5" font-size="12.6" textLength="44.6" lengthAdjust="spacingAndGlyphs">Lesquin</text>
<text x="835.9" y="562.3" font-size="12.6" textLength="41.4" lengthAdjust="spacingAndGlyphs">Tressin</text>
<text x="1000.2" y="573.2" font-size="12.6" textLength="48.5" lengthAdjust="spacingAndGlyphs">Baisieux</text>
<text x="864.8" y="593.8" font-size="12.6" textLength="49.4" lengthAdjust="spacingAndGlyphs">Chéreng</text>
<text x="818.1" y="630.8" font-size="12.6" textLength="51.1" lengthAdjust="spacingAndGlyphs">Anstaing</text>
<text x="879.4" y="678.0" font-size="12.6" textLength="42.5" lengthAdjust="spacingAndGlyphs">Gruson</text>
<text x="1027.4" y="678.0" font-size="12.6" textLength="105.0" lengthAdjust="spacingAndGlyphs">Camphin-en-Pévèle</text>
<text x="711.0" y="703.5" font-size="10.4" textLength="70.0" lengthAdjust="spacingAndGlyphs">Sainghin-en-</text>
<text x="718.8" y="719.0" font-size="10.4" textLength="48.0" lengthAdjust="spacingAndGlyphs">Mélantois</text>
</g>
<g fill="none" stroke="#4400e0" stroke-linecap="round" stroke-linejoin="round">
<path d="M799.8 166.7 C798.6 168.4 795.2 173.2 792.5 176.9 C789.8 180.6 786.6 184.8 783.7 188.7 C780.8 192.6 777.8 197.1 774.9 200.4 C772.0 203.7 768.5 207.1 766.1 208.6 C763.6 210.1 761.2 209.3 760.2 209.4" stroke-width="5"/>
<path d="M458.2 559.9 C456.3 560.0 451.7 560.6 446.5 560.8 C441.3 560.9 433.4 560.9 426.9 560.8 C420.4 560.6 413.9 560.5 407.4 559.9 C400.9 559.2 393.7 557.7 387.8 556.9 C381.9 556.1 378.7 555.0 372.2 555.0 C365.7 555.0 355.9 556.6 348.7 556.9 C341.5 557.2 334.0 557.5 329.1 556.9 C324.2 556.2 322.5 554.1 319.3 553.0 C316.0 551.9 312.5 551.0 309.6 550.0 C306.7 549.0 303.0 547.6 301.7 547.1" stroke-width="5"/>
<path d="M301.7 547.1 C303.0 544.8 306.8 537.8 309.6 533.4 C312.4 529.0 317.0 522.6 318.5 520.5" stroke-width="5"/>
<path d="M760.2 209.4 C759.2 210.3 756.2 212.7 754.3 215.1 C752.3 217.5 751.0 220.5 748.5 223.9 C746.0 227.3 742.5 231.7 739.6 235.6 C736.6 239.5 732.7 243.5 730.8 247.4 C728.9 251.3 728.9 255.7 727.9 259.1 C726.9 262.5 727.5 264.5 725.0 267.9 C722.5 271.3 717.1 275.9 713.2 279.6 C709.3 283.3 705.4 286.5 701.5 289.9 C697.6 293.3 693.7 297.8 689.8 300.2 C685.9 302.6 681.4 303.6 678.0 304.6 C674.6 305.6 671.6 304.4 669.2 306.1 C666.8 307.8 665.4 311.5 663.4 314.9 C661.5 318.3 659.5 322.7 657.5 326.6 C655.5 330.5 653.5 334.9 651.6 338.3 C649.6 341.7 647.5 344.2 645.8 347.1 C644.1 350.0 642.3 353.9 641.3 355.9 C640.3 357.9 640.5 359.8 639.9 358.9 C639.3 358.0 639.4 352.9 637.6 350.4 C635.7 347.9 632.1 345.8 628.8 343.8 C625.5 341.8 622.2 340.0 617.8 338.3 C613.4 336.6 607.5 334.8 602.4 333.9 C597.3 333.0 591.8 332.2 587.0 332.8 C582.2 333.4 577.8 335.0 573.8 337.2 C569.8 339.4 566.1 343.1 562.8 346.0 C559.5 348.9 556.9 351.5 554.0 354.8 C551.1 358.1 548.1 362.1 545.2 365.8 C542.3 369.5 539.3 373.1 536.4 376.8 C533.5 380.5 530.2 384.1 527.6 387.8 C525.0 391.5 522.8 395.5 521.0 398.8 C519.2 402.1 517.7 404.7 516.6 407.6 C515.5 410.5 514.8 414.9 514.4 416.4" stroke-width="4.9" stroke-dasharray="3.4 7.7"/>
<path d="M730.8 250.0 C729.8 249.4 727.4 248.3 725.0 246.4 C722.6 244.5 718.7 239.7 716.2 238.6 C713.8 237.5 713.2 238.3 710.3 240.0 C707.4 241.7 702.0 247.8 698.6 248.8 C695.2 249.8 693.2 247.6 689.8 245.9 C686.4 244.2 681.9 241.3 678.0 238.6 C674.1 235.9 669.7 232.3 666.3 229.8 C662.9 227.3 660.0 223.7 657.5 223.9 C655.0 224.1 653.5 229.2 651.6 231.2 C649.6 233.2 646.8 234.9 645.8 235.6" stroke-width="4.9" stroke-dasharray="3.4 7.7"/>
<path d="M634.0 266.4 C633.8 268.1 633.5 272.0 632.5 276.7 C631.5 281.4 629.8 290.5 628.1 294.3 C626.4 298.1 625.7 299.0 622.3 299.6 C618.9 300.2 613.0 298.3 607.6 297.8 C602.2 297.3 597.1 297.3 590.0 296.7 C582.9 296.1 571.7 294.9 565.0 294.3 C558.3 293.7 553.3 293.2 549.6 293.2 C545.9 293.2 545.9 292.8 543.0 294.3 C540.1 295.8 535.7 299.2 532.0 302.0 C528.3 304.8 524.7 307.1 521.0 310.8 C517.3 314.5 513.7 319.6 510.0 324.0 C506.3 328.4 502.7 333.2 499.0 337.2 C495.3 341.2 491.3 344.9 488.0 348.2 C484.7 351.5 482.1 353.7 479.2 357.0 C476.3 360.3 473.3 364.3 470.4 368.0 C467.5 371.7 464.5 375.0 461.6 379.0 C458.7 383.0 455.7 388.2 452.8 392.2 C449.9 396.2 446.6 399.9 444.0 403.2 C441.4 406.5 437.8 409.4 437.4 412.0 C437.0 414.6 440.0 416.6 441.8 418.6 C443.6 420.6 447.0 423.1 448.0 424.0" stroke-width="4.9" stroke-dasharray="3.4 7.7"/>
<path d="M479.2 414.7 C480.7 415.4 484.3 418.0 488.0 418.6 C491.7 419.2 496.8 418.4 501.2 418.2 C505.6 418.0 510.0 417.0 514.4 417.4 C518.8 417.8 524.3 419.5 527.6 420.8 C530.9 422.1 532.4 423.0 534.2 425.2 C536.0 427.4 537.7 431.4 538.6 434.0 C539.5 436.6 537.9 439.3 539.7 440.6 C541.5 441.9 546.5 442.1 549.6 441.7 C552.7 441.3 555.8 438.6 558.4 438.4 C561.0 438.2 563.9 440.2 565.0 440.6" stroke-width="4.9" stroke-dasharray="3.4 7.7"/>
<path d="M559.9 461.1 C557.3 461.3 550.2 461.9 544.3 462.1 C538.4 462.3 530.6 461.6 524.7 462.1 C518.8 462.6 513.7 464.0 509.1 465.0 C504.5 466.0 501.9 467.6 497.3 467.9 C492.7 468.2 486.3 467.1 481.7 466.9 C477.2 466.7 472.6 466.6 470.0 466.9 C467.4 467.2 466.3 467.6 466.0 468.9 C465.7 470.2 467.3 472.5 468.0 474.8 C468.7 477.1 469.3 480.0 470.0 482.6 C470.7 485.2 470.9 487.8 471.9 490.4 C472.9 493.0 474.5 495.6 475.8 498.2 C477.1 500.8 478.7 503.2 479.7 506.1 C480.7 509.0 482.0 512.5 481.7 515.8 C481.4 519.0 479.4 522.3 477.8 525.6 C476.2 528.9 473.9 531.8 471.9 535.4 C469.9 539.0 467.6 543.8 466.0 547.1 C464.4 550.4 463.4 552.9 462.1 555.0 C460.8 557.1 458.9 559.1 458.2 559.9" stroke-width="4.9" stroke-dasharray="3.4 7.7"/>
<path d="M456.3 443.5 C456.0 445.1 455.0 449.7 454.3 453.3 C453.6 456.9 452.5 461.1 452.3 465.0 C452.1 468.9 452.3 473.1 453.3 476.7 C454.3 480.3 456.1 484.7 458.2 486.5 C460.3 488.3 464.0 488.1 466.0 487.5 C468.0 486.9 469.3 483.4 470.0 482.6" stroke-width="4.9" stroke-dasharray="3.4 7.7"/>
<path d="M472.5 545.0 C472.3 546.3 472.6 550.5 471.5 553.0 C470.4 555.5 466.9 558.8 466.0 559.9" stroke-width="4.9" stroke-dasharray="3.4 7.7"/>
<path d="M799.8 166.7 C798.6 168.4 795.2 173.2 792.5 176.9 C789.8 180.6 786.6 184.8 783.7 188.7 C780.8 192.6 777.8 197.1 774.9 200.4 C772.0 203.7 768.5 207.1 766.1 208.6 C763.6 210.1 761.2 209.3 760.2 209.4" stroke-width="4.9" stroke-dasharray="3.4 7.7"/>
<path d="M303.0 549.0 C303.6 550.3 305.2 554.9 306.5 557.0 C307.8 559.1 309.5 561.2 311.0 561.5 C312.5 561.8 314.5 559.8 315.5 558.5 C316.5 557.2 316.8 554.8 317.0 554.0" stroke-width="4.9" stroke-dasharray="3.4 7.7"/>
</g>
<circle cx="467.0" cy="430.0" r="17.4" fill="#ebe8fa"/><circle cx="467.0" cy="430.0" r="14.2" fill="#4400e0"/><text x="467.0" y="435.6" font-family="Liberation Sans, Arial, sans-serif" font-weight="bold" font-size="16" fill="#fff" text-anchor="middle">3</text>
<circle cx="637.2" cy="246.4" r="15.4" fill="#4400e0"/><text x="637.2" y="252.0" font-family="Liberation Sans, Arial, sans-serif" font-weight="bold" font-size="16" fill="#fff" text-anchor="middle">4</text>
<circle cx="573.6" cy="453.2" r="15" fill="#4400e0"/><text x="573.6" y="458.8" font-family="Liberation Sans, Arial, sans-serif" font-weight="bold" font-size="16" fill="#fff" text-anchor="middle">6</text>
<circle cx="332.7" cy="514.2" r="15.4" fill="#4400e0"/><path d="M332.7 505.9 L341.5 514.7 L339.0 514.7 L339.0 522.5 L326.4 522.5 L326.4 514.7 L323.9 514.7 Z" fill="#fff"/><ellipse cx="332.7" cy="514.7" rx="1.6" ry="3" fill="#4400e0"/>
<circle cx="792.4" cy="152.6" r="15.4" fill="#4400e0"/><g transform="translate(783.4,142.6)"><path d="M1.5 4.5l6.5-3 7 3v8l-6.5 4-7-3.5z" fill="none" stroke="#fff" stroke-width="1.3" stroke-linejoin="round"/><path d="M1.5 4.5l7 3.5 6.5-3.5M8.5 8v8.5M5 3l7 3.2" fill="none" stroke="#fff" stroke-width="1.2"/><circle cx="14" cy="14.5" r="4" fill="#fff"/><path d="M14 12v5M11.5 14.5h5" stroke="#4400e0" stroke-width="1.2"/></g>
</svg></div>
<div class="mctl" style="top:593px"><svg width="25" height="25" viewBox="0 0 24 24"><path d="M12 2.5l1.6.2.6 2.6 1.6.7 2.3-1.4 2.3 2.3-1.4 2.3.7 1.6 2.6.6v3.2l-2.6.6-.7 1.6 1.4 2.3-2.3 2.3-2.3-1.4-1.6.7-.6 2.6h-3.2l-.6-2.6-1.6-.7-2.3 1.4-2.3-2.3 1.4-2.3-.7-1.6-2.6-.6v-3.2l2.6-.6.7-1.6-1.4-2.3 2.3-2.3 2.3 1.4 1.6-.7.6-2.6z" fill="none" stroke="#1d1a30" stroke-width="2" stroke-linejoin="round"/><circle cx="12" cy="12" r="3.8" fill="#1d1a30"/></svg></div>
<div class="mctl" style="top:632px"><svg width="20" height="20" viewBox="0 0 20 20" fill="#333" stroke="#333" stroke-width="0.8" stroke-linejoin="round"><path d="M1.5 1.5h6l-2 2 3.2 3.2-2 2L3.5 5.5l-2 2zM18.5 1.5v6l-2-2-3.2 3.2-2-2 3.2-3.2-2-2zM18.5 18.5h-6l2-2-3.2-3.2 2-2 3.2 3.2 2-2zM1.5 18.5v-6l2 2 3.2-3.2 2 2-3.2 3.2 2 2z"/></svg></div>
<div class="mctl" style="top:671px;height:87px;flex-direction:column;justify-content:flex-start">
  <div style="height:29px;width:100%;display:flex;align-items:center;justify-content:center"><svg width="12" height="12" viewBox="0 0 12 12"><path d="M6 1v10M1 6h10" stroke="#333" stroke-width="2.2"/></svg></div>
  <div style="height:29px;width:100%;border-top:1px solid #ddd;display:flex;align-items:center;justify-content:center"><svg width="12" height="12" viewBox="0 0 12 12"><path d="M1 6h10" stroke="#333" stroke-width="2.2"/></svg></div>
  <div style="height:29px;width:100%;border-top:1px solid #ddd;display:flex;align-items:center;justify-content:center"><svg width="10" height="18" viewBox="0 0 10 18"><path d="M5 1l4 7H1z" fill="#333"/><path d="M5 17l4-7H1z" fill="#ccc"/></svg></div>
</div>
<div id="attrib"><span id="attxt">MapLibre<span style="margin:0 2px">|</span>© MapTiler © OpenStreetMap contributors</span><span id="ibtn"><span>i</span></span></div>

</body>
</html>
